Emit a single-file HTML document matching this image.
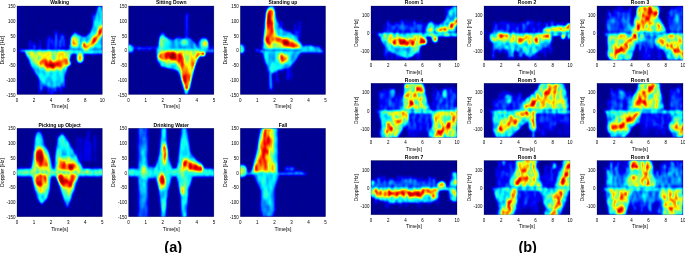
<!DOCTYPE html><html><head><meta charset="utf-8"><style>html,body{margin:0;padding:0;background:#fff;width:685px;height:253px;overflow:hidden}svg{display:block}.l{mix-blend-mode:lighten}text{font-family:'Liberation Sans', Arial, sans-serif;fill:#000}.tk{font-size:4.5px}.lb{font-size:5.2px}.tt{font-size:5px;font-weight:bold;fill:#000}.big{font-size:14.5px;font-weight:bold;fill:#000}.b .tk{font-size:4.45px}.b .lb{font-size:4.9px}</style></head><body>
<svg width="685" height="253" viewBox="0 0 685 253">
<defs>
<filter id="ja00" x="0" y="0" width="1" height="1" color-interpolation-filters="sRGB">
<feTurbulence type="fractalNoise" baseFrequency="0.5 0.08" numOctaves="2" seed="7" result="n0"/>
<feColorMatrix in="n0" type="matrix" values="1 0 0 0 0  1 0 0 0 0  1 0 0 0 0  0 0 0 0 1" result="n1"/>
<feComponentTransfer in="n1" result="n2"><feFuncR type="linear" slope="3.5" intercept="-1.25"/><feFuncG type="linear" slope="3.5" intercept="-1.25"/><feFuncB type="linear" slope="3.5" intercept="-1.25"/></feComponentTransfer>
<feComposite in="SourceGraphic" in2="n2" operator="arithmetic" k1="0.5" k2="0.75" k3="0" k4="0" result="m"/>
<feGaussianBlur in="m" stdDeviation="0.8 0.8" result="b"/>
<feComponentTransfer in="b">
<feFuncR type="table" tableValues="0 0 0 0 0.5 1 1 1 0.5"/>
<feFuncG type="table" tableValues="0 0 0.5 1 1 1 0.5 0 0"/>
<feFuncB type="table" tableValues="0.5 1 1 1 0.5 0 0 0 0"/>
<feFuncA type="table" tableValues="1 1"/>
</feComponentTransfer>
</filter>
<filter id="ja01" x="0" y="0" width="1" height="1" color-interpolation-filters="sRGB">
<feTurbulence type="fractalNoise" baseFrequency="0.5 0.08" numOctaves="2" seed="20" result="n0"/>
<feColorMatrix in="n0" type="matrix" values="1 0 0 0 0  1 0 0 0 0  1 0 0 0 0  0 0 0 0 1" result="n1"/>
<feComponentTransfer in="n1" result="n2"><feFuncR type="linear" slope="3.5" intercept="-1.25"/><feFuncG type="linear" slope="3.5" intercept="-1.25"/><feFuncB type="linear" slope="3.5" intercept="-1.25"/></feComponentTransfer>
<feComposite in="SourceGraphic" in2="n2" operator="arithmetic" k1="0.5" k2="0.75" k3="0" k4="0" result="m"/>
<feGaussianBlur in="m" stdDeviation="0.8 0.8" result="b"/>
<feComponentTransfer in="b">
<feFuncR type="table" tableValues="0 0 0 0 0.5 1 1 1 0.5"/>
<feFuncG type="table" tableValues="0 0 0.5 1 1 1 0.5 0 0"/>
<feFuncB type="table" tableValues="0.5 1 1 1 0.5 0 0 0 0"/>
<feFuncA type="table" tableValues="1 1"/>
</feComponentTransfer>
</filter>
<filter id="ja02" x="0" y="0" width="1" height="1" color-interpolation-filters="sRGB">
<feTurbulence type="fractalNoise" baseFrequency="0.5 0.08" numOctaves="2" seed="33" result="n0"/>
<feColorMatrix in="n0" type="matrix" values="1 0 0 0 0  1 0 0 0 0  1 0 0 0 0  0 0 0 0 1" result="n1"/>
<feComponentTransfer in="n1" result="n2"><feFuncR type="linear" slope="3.5" intercept="-1.25"/><feFuncG type="linear" slope="3.5" intercept="-1.25"/><feFuncB type="linear" slope="3.5" intercept="-1.25"/></feComponentTransfer>
<feComposite in="SourceGraphic" in2="n2" operator="arithmetic" k1="0.5" k2="0.75" k3="0" k4="0" result="m"/>
<feGaussianBlur in="m" stdDeviation="0.8 0.8" result="b"/>
<feComponentTransfer in="b">
<feFuncR type="table" tableValues="0 0 0 0 0.5 1 1 1 0.5"/>
<feFuncG type="table" tableValues="0 0 0.5 1 1 1 0.5 0 0"/>
<feFuncB type="table" tableValues="0.5 1 1 1 0.5 0 0 0 0"/>
<feFuncA type="table" tableValues="1 1"/>
</feComponentTransfer>
</filter>
<filter id="ja10" x="0" y="0" width="1" height="1" color-interpolation-filters="sRGB">
<feTurbulence type="fractalNoise" baseFrequency="0.5 0.08" numOctaves="2" seed="46" result="n0"/>
<feColorMatrix in="n0" type="matrix" values="1 0 0 0 0  1 0 0 0 0  1 0 0 0 0  0 0 0 0 1" result="n1"/>
<feComponentTransfer in="n1" result="n2"><feFuncR type="linear" slope="3.5" intercept="-1.25"/><feFuncG type="linear" slope="3.5" intercept="-1.25"/><feFuncB type="linear" slope="3.5" intercept="-1.25"/></feComponentTransfer>
<feComposite in="SourceGraphic" in2="n2" operator="arithmetic" k1="0.5" k2="0.75" k3="0" k4="0" result="m"/>
<feGaussianBlur in="m" stdDeviation="0.8 0.8" result="b"/>
<feComponentTransfer in="b">
<feFuncR type="table" tableValues="0 0 0 0 0.5 1 1 1 0.5"/>
<feFuncG type="table" tableValues="0 0 0.5 1 1 1 0.5 0 0"/>
<feFuncB type="table" tableValues="0.5 1 1 1 0.5 0 0 0 0"/>
<feFuncA type="table" tableValues="1 1"/>
</feComponentTransfer>
</filter>
<filter id="ja11" x="0" y="0" width="1" height="1" color-interpolation-filters="sRGB">
<feTurbulence type="fractalNoise" baseFrequency="0.5 0.08" numOctaves="2" seed="59" result="n0"/>
<feColorMatrix in="n0" type="matrix" values="1 0 0 0 0  1 0 0 0 0  1 0 0 0 0  0 0 0 0 1" result="n1"/>
<feComponentTransfer in="n1" result="n2"><feFuncR type="linear" slope="3.5" intercept="-1.25"/><feFuncG type="linear" slope="3.5" intercept="-1.25"/><feFuncB type="linear" slope="3.5" intercept="-1.25"/></feComponentTransfer>
<feComposite in="SourceGraphic" in2="n2" operator="arithmetic" k1="0.5" k2="0.75" k3="0" k4="0" result="m"/>
<feGaussianBlur in="m" stdDeviation="0.8 0.8" result="b"/>
<feComponentTransfer in="b">
<feFuncR type="table" tableValues="0 0 0 0 0.5 1 1 1 0.5"/>
<feFuncG type="table" tableValues="0 0 0.5 1 1 1 0.5 0 0"/>
<feFuncB type="table" tableValues="0.5 1 1 1 0.5 0 0 0 0"/>
<feFuncA type="table" tableValues="1 1"/>
</feComponentTransfer>
</filter>
<filter id="ja12" x="0" y="0" width="1" height="1" color-interpolation-filters="sRGB">
<feTurbulence type="fractalNoise" baseFrequency="0.5 0.08" numOctaves="2" seed="72" result="n0"/>
<feColorMatrix in="n0" type="matrix" values="1 0 0 0 0  1 0 0 0 0  1 0 0 0 0  0 0 0 0 1" result="n1"/>
<feComponentTransfer in="n1" result="n2"><feFuncR type="linear" slope="3.5" intercept="-1.25"/><feFuncG type="linear" slope="3.5" intercept="-1.25"/><feFuncB type="linear" slope="3.5" intercept="-1.25"/></feComponentTransfer>
<feComposite in="SourceGraphic" in2="n2" operator="arithmetic" k1="0.5" k2="0.75" k3="0" k4="0" result="m"/>
<feGaussianBlur in="m" stdDeviation="0.8 0.8" result="b"/>
<feComponentTransfer in="b">
<feFuncR type="table" tableValues="0 0 0 0 0.5 1 1 1 0.5"/>
<feFuncG type="table" tableValues="0 0 0.5 1 1 1 0.5 0 0"/>
<feFuncB type="table" tableValues="0.5 1 1 1 0.5 0 0 0 0"/>
<feFuncA type="table" tableValues="1 1"/>
</feComponentTransfer>
</filter>
<filter id="jb00" x="0" y="0" width="1" height="1" color-interpolation-filters="sRGB">
<feTurbulence type="fractalNoise" baseFrequency="0.45 0.13" numOctaves="2" seed="85" result="n0"/>
<feColorMatrix in="n0" type="matrix" values="1 0 0 0 0  1 0 0 0 0  1 0 0 0 0  0 0 0 0 1" result="n1"/>
<feComponentTransfer in="n1" result="n2"><feFuncR type="linear" slope="3.5" intercept="-1.25"/><feFuncG type="linear" slope="3.5" intercept="-1.25"/><feFuncB type="linear" slope="3.5" intercept="-1.25"/></feComponentTransfer>
<feComposite in="SourceGraphic" in2="n2" operator="arithmetic" k1="0.8" k2="0.55" k3="0" k4="0" result="m"/>
<feGaussianBlur in="m" stdDeviation="0.8 0.8" result="b"/>
<feComponentTransfer in="b">
<feFuncR type="table" tableValues="0 0 0 0 0.5 1 1 1 0.5"/>
<feFuncG type="table" tableValues="0 0 0.5 1 1 1 0.5 0 0"/>
<feFuncB type="table" tableValues="0.5 1 1 1 0.5 0 0 0 0"/>
<feFuncA type="table" tableValues="1 1"/>
</feComponentTransfer>
</filter>
<filter id="jb01" x="0" y="0" width="1" height="1" color-interpolation-filters="sRGB">
<feTurbulence type="fractalNoise" baseFrequency="0.45 0.13" numOctaves="2" seed="98" result="n0"/>
<feColorMatrix in="n0" type="matrix" values="1 0 0 0 0  1 0 0 0 0  1 0 0 0 0  0 0 0 0 1" result="n1"/>
<feComponentTransfer in="n1" result="n2"><feFuncR type="linear" slope="3.5" intercept="-1.25"/><feFuncG type="linear" slope="3.5" intercept="-1.25"/><feFuncB type="linear" slope="3.5" intercept="-1.25"/></feComponentTransfer>
<feComposite in="SourceGraphic" in2="n2" operator="arithmetic" k1="0.8" k2="0.55" k3="0" k4="0" result="m"/>
<feGaussianBlur in="m" stdDeviation="0.8 0.8" result="b"/>
<feComponentTransfer in="b">
<feFuncR type="table" tableValues="0 0 0 0 0.5 1 1 1 0.5"/>
<feFuncG type="table" tableValues="0 0 0.5 1 1 1 0.5 0 0"/>
<feFuncB type="table" tableValues="0.5 1 1 1 0.5 0 0 0 0"/>
<feFuncA type="table" tableValues="1 1"/>
</feComponentTransfer>
</filter>
<filter id="jb02" x="0" y="0" width="1" height="1" color-interpolation-filters="sRGB">
<feTurbulence type="fractalNoise" baseFrequency="0.45 0.13" numOctaves="2" seed="111" result="n0"/>
<feColorMatrix in="n0" type="matrix" values="1 0 0 0 0  1 0 0 0 0  1 0 0 0 0  0 0 0 0 1" result="n1"/>
<feComponentTransfer in="n1" result="n2"><feFuncR type="linear" slope="3.5" intercept="-1.25"/><feFuncG type="linear" slope="3.5" intercept="-1.25"/><feFuncB type="linear" slope="3.5" intercept="-1.25"/></feComponentTransfer>
<feComposite in="SourceGraphic" in2="n2" operator="arithmetic" k1="0.8" k2="0.55" k3="0" k4="0" result="m"/>
<feGaussianBlur in="m" stdDeviation="0.8 0.8" result="b"/>
<feComponentTransfer in="b">
<feFuncR type="table" tableValues="0 0 0 0 0.5 1 1 1 0.5"/>
<feFuncG type="table" tableValues="0 0 0.5 1 1 1 0.5 0 0"/>
<feFuncB type="table" tableValues="0.5 1 1 1 0.5 0 0 0 0"/>
<feFuncA type="table" tableValues="1 1"/>
</feComponentTransfer>
</filter>
<filter id="jb10" x="0" y="0" width="1" height="1" color-interpolation-filters="sRGB">
<feTurbulence type="fractalNoise" baseFrequency="0.45 0.13" numOctaves="2" seed="124" result="n0"/>
<feColorMatrix in="n0" type="matrix" values="1 0 0 0 0  1 0 0 0 0  1 0 0 0 0  0 0 0 0 1" result="n1"/>
<feComponentTransfer in="n1" result="n2"><feFuncR type="linear" slope="3.5" intercept="-1.25"/><feFuncG type="linear" slope="3.5" intercept="-1.25"/><feFuncB type="linear" slope="3.5" intercept="-1.25"/></feComponentTransfer>
<feComposite in="SourceGraphic" in2="n2" operator="arithmetic" k1="0.8" k2="0.55" k3="0" k4="0" result="m"/>
<feGaussianBlur in="m" stdDeviation="0.8 0.8" result="b"/>
<feComponentTransfer in="b">
<feFuncR type="table" tableValues="0 0 0 0 0.5 1 1 1 0.5"/>
<feFuncG type="table" tableValues="0 0 0.5 1 1 1 0.5 0 0"/>
<feFuncB type="table" tableValues="0.5 1 1 1 0.5 0 0 0 0"/>
<feFuncA type="table" tableValues="1 1"/>
</feComponentTransfer>
</filter>
<filter id="jb11" x="0" y="0" width="1" height="1" color-interpolation-filters="sRGB">
<feTurbulence type="fractalNoise" baseFrequency="0.45 0.13" numOctaves="2" seed="137" result="n0"/>
<feColorMatrix in="n0" type="matrix" values="1 0 0 0 0  1 0 0 0 0  1 0 0 0 0  0 0 0 0 1" result="n1"/>
<feComponentTransfer in="n1" result="n2"><feFuncR type="linear" slope="3.5" intercept="-1.25"/><feFuncG type="linear" slope="3.5" intercept="-1.25"/><feFuncB type="linear" slope="3.5" intercept="-1.25"/></feComponentTransfer>
<feComposite in="SourceGraphic" in2="n2" operator="arithmetic" k1="0.8" k2="0.55" k3="0" k4="0" result="m"/>
<feGaussianBlur in="m" stdDeviation="0.8 0.8" result="b"/>
<feComponentTransfer in="b">
<feFuncR type="table" tableValues="0 0 0 0 0.5 1 1 1 0.5"/>
<feFuncG type="table" tableValues="0 0 0.5 1 1 1 0.5 0 0"/>
<feFuncB type="table" tableValues="0.5 1 1 1 0.5 0 0 0 0"/>
<feFuncA type="table" tableValues="1 1"/>
</feComponentTransfer>
</filter>
<filter id="jb12" x="0" y="0" width="1" height="1" color-interpolation-filters="sRGB">
<feTurbulence type="fractalNoise" baseFrequency="0.45 0.13" numOctaves="2" seed="150" result="n0"/>
<feColorMatrix in="n0" type="matrix" values="1 0 0 0 0  1 0 0 0 0  1 0 0 0 0  0 0 0 0 1" result="n1"/>
<feComponentTransfer in="n1" result="n2"><feFuncR type="linear" slope="3.5" intercept="-1.25"/><feFuncG type="linear" slope="3.5" intercept="-1.25"/><feFuncB type="linear" slope="3.5" intercept="-1.25"/></feComponentTransfer>
<feComposite in="SourceGraphic" in2="n2" operator="arithmetic" k1="0.8" k2="0.55" k3="0" k4="0" result="m"/>
<feGaussianBlur in="m" stdDeviation="0.8 0.8" result="b"/>
<feComponentTransfer in="b">
<feFuncR type="table" tableValues="0 0 0 0 0.5 1 1 1 0.5"/>
<feFuncG type="table" tableValues="0 0 0.5 1 1 1 0.5 0 0"/>
<feFuncB type="table" tableValues="0.5 1 1 1 0.5 0 0 0 0"/>
<feFuncA type="table" tableValues="1 1"/>
</feComponentTransfer>
</filter>
<filter id="jb20" x="0" y="0" width="1" height="1" color-interpolation-filters="sRGB">
<feTurbulence type="fractalNoise" baseFrequency="0.45 0.13" numOctaves="2" seed="163" result="n0"/>
<feColorMatrix in="n0" type="matrix" values="1 0 0 0 0  1 0 0 0 0  1 0 0 0 0  0 0 0 0 1" result="n1"/>
<feComponentTransfer in="n1" result="n2"><feFuncR type="linear" slope="3.5" intercept="-1.25"/><feFuncG type="linear" slope="3.5" intercept="-1.25"/><feFuncB type="linear" slope="3.5" intercept="-1.25"/></feComponentTransfer>
<feComposite in="SourceGraphic" in2="n2" operator="arithmetic" k1="0.8" k2="0.55" k3="0" k4="0" result="m"/>
<feGaussianBlur in="m" stdDeviation="0.8 0.8" result="b"/>
<feComponentTransfer in="b">
<feFuncR type="table" tableValues="0 0 0 0 0.5 1 1 1 0.5"/>
<feFuncG type="table" tableValues="0 0 0.5 1 1 1 0.5 0 0"/>
<feFuncB type="table" tableValues="0.5 1 1 1 0.5 0 0 0 0"/>
<feFuncA type="table" tableValues="1 1"/>
</feComponentTransfer>
</filter>
<filter id="jb21" x="0" y="0" width="1" height="1" color-interpolation-filters="sRGB">
<feTurbulence type="fractalNoise" baseFrequency="0.45 0.13" numOctaves="2" seed="176" result="n0"/>
<feColorMatrix in="n0" type="matrix" values="1 0 0 0 0  1 0 0 0 0  1 0 0 0 0  0 0 0 0 1" result="n1"/>
<feComponentTransfer in="n1" result="n2"><feFuncR type="linear" slope="3.5" intercept="-1.25"/><feFuncG type="linear" slope="3.5" intercept="-1.25"/><feFuncB type="linear" slope="3.5" intercept="-1.25"/></feComponentTransfer>
<feComposite in="SourceGraphic" in2="n2" operator="arithmetic" k1="0.8" k2="0.55" k3="0" k4="0" result="m"/>
<feGaussianBlur in="m" stdDeviation="0.8 0.8" result="b"/>
<feComponentTransfer in="b">
<feFuncR type="table" tableValues="0 0 0 0 0.5 1 1 1 0.5"/>
<feFuncG type="table" tableValues="0 0 0.5 1 1 1 0.5 0 0"/>
<feFuncB type="table" tableValues="0.5 1 1 1 0.5 0 0 0 0"/>
<feFuncA type="table" tableValues="1 1"/>
</feComponentTransfer>
</filter>
<filter id="jb22" x="0" y="0" width="1" height="1" color-interpolation-filters="sRGB">
<feTurbulence type="fractalNoise" baseFrequency="0.45 0.13" numOctaves="2" seed="189" result="n0"/>
<feColorMatrix in="n0" type="matrix" values="1 0 0 0 0  1 0 0 0 0  1 0 0 0 0  0 0 0 0 1" result="n1"/>
<feComponentTransfer in="n1" result="n2"><feFuncR type="linear" slope="3.5" intercept="-1.25"/><feFuncG type="linear" slope="3.5" intercept="-1.25"/><feFuncB type="linear" slope="3.5" intercept="-1.25"/></feComponentTransfer>
<feComposite in="SourceGraphic" in2="n2" operator="arithmetic" k1="0.8" k2="0.55" k3="0" k4="0" result="m"/>
<feGaussianBlur in="m" stdDeviation="0.8 0.8" result="b"/>
<feComponentTransfer in="b">
<feFuncR type="table" tableValues="0 0 0 0 0.5 1 1 1 0.5"/>
<feFuncG type="table" tableValues="0 0 0.5 1 1 1 0.5 0 0"/>
<feFuncB type="table" tableValues="0.5 1 1 1 0.5 0 0 0 0"/>
<feFuncA type="table" tableValues="1 1"/>
</feComponentTransfer>
</filter>
<clipPath id="ca00"><rect x="17" y="6" width="85.3" height="88.4"/></clipPath>
<clipPath id="ca01"><rect x="128.6" y="6" width="85.3" height="88.4"/></clipPath>
<clipPath id="ca02"><rect x="240.3" y="6" width="85.3" height="88.4"/></clipPath>
<clipPath id="ca10"><rect x="17" y="128.3" width="85.3" height="88.4"/></clipPath>
<clipPath id="ca11"><rect x="128.6" y="128.3" width="85.3" height="88.4"/></clipPath>
<clipPath id="ca12"><rect x="240.3" y="128.3" width="85.3" height="88.4"/></clipPath>
<clipPath id="cb00"><rect x="371" y="6" width="86" height="54.2"/></clipPath>
<clipPath id="cb01"><rect x="484" y="6" width="86" height="54.2"/></clipPath>
<clipPath id="cb02"><rect x="597" y="6" width="86" height="54.2"/></clipPath>
<clipPath id="cb10"><rect x="371" y="83.3" width="86" height="54.2"/></clipPath>
<clipPath id="cb11"><rect x="484" y="83.3" width="86" height="54.2"/></clipPath>
<clipPath id="cb12"><rect x="597" y="83.3" width="86" height="54.2"/></clipPath>
<clipPath id="cb20"><rect x="371" y="160.6" width="86" height="54.2"/></clipPath>
<clipPath id="cb21"><rect x="484" y="160.6" width="86" height="54.2"/></clipPath>
<clipPath id="cb22"><rect x="597" y="160.6" width="86" height="54.2"/></clipPath>
</defs>
<g clip-path="url(#ca00)"><g filter="url(#ja00)">
<rect x="11" y="0" width="97.3" height="100.4" fill="rgb(5,5,5)"/>
<polyline points="30.14,48.73 29.93,40.76" fill="none" stroke="rgb(63,63,63)" stroke-width="1.2" stroke-linecap="round" stroke-linejoin="round" class="l"/>
<polyline points="33.62,48.73 33.87,43.05" fill="none" stroke="rgb(60,60,60)" stroke-width="1.2" stroke-linecap="round" stroke-linejoin="round" class="l"/>
<polyline points="35.15,48.73 35.1,45.47" fill="none" stroke="rgb(66,66,66)" stroke-width="1.2" stroke-linecap="round" stroke-linejoin="round" class="l"/>
<polyline points="39.42,48.73 39.61,45.62" fill="none" stroke="rgb(55,55,55)" stroke-width="1.2" stroke-linecap="round" stroke-linejoin="round" class="l"/>
<polyline points="40.62,48.73 40.22,40.2" fill="none" stroke="rgb(67,67,67)" stroke-width="1.2" stroke-linecap="round" stroke-linejoin="round" class="l"/>
<polyline points="47.29,48.73 46.99,40.12" fill="none" stroke="rgb(60,60,60)" stroke-width="1.2" stroke-linecap="round" stroke-linejoin="round" class="l"/>
<polyline points="48.8,48.73 49.06,36.12" fill="none" stroke="rgb(77,77,77)" stroke-width="1.2" stroke-linecap="round" stroke-linejoin="round" class="l"/>
<polyline points="51.91,48.73 51.72,38.53" fill="none" stroke="rgb(65,65,65)" stroke-width="1.2" stroke-linecap="round" stroke-linejoin="round" class="l"/>
<polyline points="52.65,48.73 53.02,40.08" fill="none" stroke="rgb(55,55,55)" stroke-width="1.2" stroke-linecap="round" stroke-linejoin="round" class="l"/>
<polyline points="55.68,48.73 55.42,30.69" fill="none" stroke="rgb(73,73,73)" stroke-width="1.2" stroke-linecap="round" stroke-linejoin="round" class="l"/>
<polyline points="56.56,48.73 56.86,33.1" fill="none" stroke="rgb(71,71,71)" stroke-width="1.2" stroke-linecap="round" stroke-linejoin="round" class="l"/>
<polyline points="59.43,48.73 59.58,40.34" fill="none" stroke="rgb(67,67,67)" stroke-width="1.2" stroke-linecap="round" stroke-linejoin="round" class="l"/>
<polyline points="60.58,47.25 60.96,34.99" fill="none" stroke="rgb(82,82,82)" stroke-width="1.2" stroke-linecap="round" stroke-linejoin="round" class="l"/>
<polyline points="62.25,47.25 62.22,33.26" fill="none" stroke="rgb(55,55,55)" stroke-width="1.2" stroke-linecap="round" stroke-linejoin="round" class="l"/>
<polyline points="64.04,47.25 63.71,35.88" fill="none" stroke="rgb(86,86,86)" stroke-width="1.2" stroke-linecap="round" stroke-linejoin="round" class="l"/>
<polyline points="64.83,47.25 64.89,39.74" fill="none" stroke="rgb(73,73,73)" stroke-width="1.2" stroke-linecap="round" stroke-linejoin="round" class="l"/>
<polygon points="17,94.4 18.71,94.4 18.71,6 17,6" fill="rgb(26,26,26)" class="l"/>
<polyline points="21.27,50.79 102.3,50.79" fill="none" stroke="rgb(102,102,102)" stroke-width="2" stroke-linecap="round" stroke-linejoin="round" class="l"/>
<polygon points="24.68,50.79 70.74,50.79 70.74,56.09 68.18,64.93 65.62,73.77 63.06,82.61 59.65,86.15 51.12,87.92 45.15,84.97 40.03,79.67 35.77,73.77 31.5,66.41 28.09,59.04 25.53,53.15" fill="rgb(92,92,92)" class="l"/>
<polyline points="39.91,73.77 39.55,93.7" fill="none" stroke="rgb(60,60,60)" stroke-width="1.2" stroke-linecap="round" stroke-linejoin="round" class="l"/>
<polyline points="41.36,73.77 41.19,90.86" fill="none" stroke="rgb(83,83,83)" stroke-width="1.2" stroke-linecap="round" stroke-linejoin="round" class="l"/>
<polyline points="42.63,73.77 42.34,89.13" fill="none" stroke="rgb(80,80,80)" stroke-width="1.2" stroke-linecap="round" stroke-linejoin="round" class="l"/>
<polyline points="43.99,73.77 44.42,86.27" fill="none" stroke="rgb(85,85,85)" stroke-width="1.2" stroke-linecap="round" stroke-linejoin="round" class="l"/>
<polyline points="46.5,73.77 46.31,88.29" fill="none" stroke="rgb(74,74,74)" stroke-width="1.2" stroke-linecap="round" stroke-linejoin="round" class="l"/>
<polyline points="46.65,73.77 46.49,81.36" fill="none" stroke="rgb(75,75,75)" stroke-width="1.2" stroke-linecap="round" stroke-linejoin="round" class="l"/>
<polyline points="48.87,73.77 48.92,92.95" fill="none" stroke="rgb(77,77,77)" stroke-width="1.2" stroke-linecap="round" stroke-linejoin="round" class="l"/>
<polyline points="50.28,73.77 49.97,81.31" fill="none" stroke="rgb(70,70,70)" stroke-width="1.2" stroke-linecap="round" stroke-linejoin="round" class="l"/>
<polyline points="52.39,73.77 52.12,94.38" fill="none" stroke="rgb(83,83,83)" stroke-width="1.2" stroke-linecap="round" stroke-linejoin="round" class="l"/>
<polyline points="54.68,73.77 55.02,91.68" fill="none" stroke="rgb(85,85,85)" stroke-width="1.2" stroke-linecap="round" stroke-linejoin="round" class="l"/>
<polyline points="56.11,73.77 56.52,91.58" fill="none" stroke="rgb(71,71,71)" stroke-width="1.2" stroke-linecap="round" stroke-linejoin="round" class="l"/>
<polyline points="58.09,73.77 58.28,83.15" fill="none" stroke="rgb(86,86,86)" stroke-width="1.2" stroke-linecap="round" stroke-linejoin="round" class="l"/>
<polyline points="58.92,73.77 59.28,88.1" fill="none" stroke="rgb(76,76,76)" stroke-width="1.2" stroke-linecap="round" stroke-linejoin="round" class="l"/>
<polyline points="60.64,73.77 60.96,92.14" fill="none" stroke="rgb(71,71,71)" stroke-width="1.2" stroke-linecap="round" stroke-linejoin="round" class="l"/>
<polyline points="62.95,73.77 63.31,87.17" fill="none" stroke="rgb(79,79,79)" stroke-width="1.2" stroke-linecap="round" stroke-linejoin="round" class="l"/>
<polyline points="64.31,73.77 64.16,87.52" fill="none" stroke="rgb(66,66,66)" stroke-width="1.2" stroke-linecap="round" stroke-linejoin="round" class="l"/>
<polygon points="26.38,51.38 69.03,51.38 68.18,59.04 65.62,67.88 59.65,70.83 46.85,71.42 39.18,67.88 33.21,62.58 28.09,56.09" fill="rgb(143,143,143)" class="l"/>
<polygon points="28.94,51.97 39.18,51.97 38.33,61.99 32.35,59.04" fill="rgb(143,143,143)" class="l"/>
<polyline points="40.88,61.99 43.02,64.93 45.15,61.4 47.71,65.52 50.27,61.99 52.83,66.41 55.38,62.58 57.94,66.7 60.5,61.99 63.06,64.93 65.62,60.51 68.18,63.46" fill="none" stroke="rgb(204,204,204)" stroke-width="4.5" stroke-linecap="round" stroke-linejoin="round" class="l"/>
<polyline points="47.71,64.34 51.12,65.52 54.53,64.34 57.94,65.52" fill="none" stroke="rgb(242,242,242)" stroke-width="3" stroke-linecap="round" stroke-linejoin="round" class="l"/>
<polygon points="69.03,49.61 70.74,36.94 75,31.93 80.12,35.47 85.24,36.94 90.36,32.52 93.77,23.68 96.33,11.89 98.03,6 102.3,6 102.3,49.61" fill="rgb(87,87,87)" class="l"/>
<polyline points="93.2,35.47 93.28,14.73" fill="none" stroke="rgb(86,86,86)" stroke-width="1.2" stroke-linecap="round" stroke-linejoin="round" class="l"/>
<polyline points="94.82,35.47 95.11,23.9" fill="none" stroke="rgb(69,69,69)" stroke-width="1.2" stroke-linecap="round" stroke-linejoin="round" class="l"/>
<polyline points="95.57,35.47 95.54,20.67" fill="none" stroke="rgb(115,115,115)" stroke-width="1.2" stroke-linecap="round" stroke-linejoin="round" class="l"/>
<polyline points="97.42,35.47 97.12,16.03" fill="none" stroke="rgb(98,98,98)" stroke-width="1.2" stroke-linecap="round" stroke-linejoin="round" class="l"/>
<polyline points="98.35,35.47 98.56,8.53" fill="none" stroke="rgb(93,93,93)" stroke-width="1.2" stroke-linecap="round" stroke-linejoin="round" class="l"/>
<polyline points="99.57,35.47 99.65,23.93" fill="none" stroke="rgb(104,104,104)" stroke-width="1.2" stroke-linecap="round" stroke-linejoin="round" class="l"/>
<polyline points="100.31,35.47 100.28,24.56" fill="none" stroke="rgb(109,109,109)" stroke-width="1.2" stroke-linecap="round" stroke-linejoin="round" class="l"/>
<polyline points="101.97,35.47 102.33,8.32" fill="none" stroke="rgb(102,102,102)" stroke-width="1.2" stroke-linecap="round" stroke-linejoin="round" class="l"/>
<ellipse cx="75" cy="41.95" rx="3.84" ry="5.89" fill="rgb(158,158,158)" class="l"/>
<ellipse cx="75" cy="43.72" rx="1.71" ry="2.36" fill="rgb(209,209,209)" class="l"/>
<ellipse cx="84.39" cy="44.9" rx="1.71" ry="2.95" fill="rgb(199,199,199)" class="l"/>
<polyline points="86.09,47.84 90.36,44.31 94.62,39.89 98.89,33.99 102.3,28.1" fill="none" stroke="rgb(153,153,153)" stroke-width="7" stroke-linecap="round" stroke-linejoin="round" class="l"/>
<polyline points="86.09,47.84 90.36,44.31 94.62,39.89 98.89,33.99 102.3,28.1" fill="none" stroke="rgb(209,209,209)" stroke-width="3.5" stroke-linecap="round" stroke-linejoin="round" class="l"/>
<polyline points="70.74,52.56 102.3,52.56" fill="none" stroke="rgb(92,92,92)" stroke-width="3" stroke-linecap="round" stroke-linejoin="round" class="l"/>
<ellipse cx="80.12" cy="57.57" rx="3.41" ry="5.3" fill="rgb(153,153,153)" class="l"/>
<ellipse cx="79.27" cy="57.57" rx="1.28" ry="2.95" fill="rgb(204,204,204)" class="l"/>
<polyline points="19.56,49.32 102.3,49.32" fill="none" stroke="rgb(15,15,15)" stroke-width="0.8" stroke-linecap="round" stroke-linejoin="round" stroke-opacity="0.7"/>
</g></g>
<rect x="17" y="6" width="85.3" height="88.4" fill="none" stroke="#000" stroke-opacity="0.45" stroke-width="0.5"/>
<g class="a">
<text class="tk" x="15.5" y="8.1" text-anchor="end">150</text>
<text class="tk" x="15.5" y="22.83" text-anchor="end">100</text>
<text class="tk" x="15.5" y="37.57" text-anchor="end">50</text>
<text class="tk" x="15.5" y="52.3" text-anchor="end">0</text>
<text class="tk" x="15.5" y="67.03" text-anchor="end">-50</text>
<text class="tk" x="15.5" y="81.77" text-anchor="end">-100</text>
<text class="tk" x="15.5" y="96.5" text-anchor="end">-150</text>
<text class="tk" x="17" y="101.5" text-anchor="middle">0</text>
<text class="tk" x="34.06" y="101.5" text-anchor="middle">2</text>
<text class="tk" x="51.12" y="101.5" text-anchor="middle">4</text>
<text class="tk" x="68.18" y="101.5" text-anchor="middle">6</text>
<text class="tk" x="85.24" y="101.5" text-anchor="middle">8</text>
<text class="tk" x="102.3" y="101.5" text-anchor="middle">10</text>
<text class="lb" x="59.65" y="108.4" text-anchor="middle">Time[s]</text>
<text class="lb" x="0" y="0" text-anchor="middle" transform="translate(3.8,50.2) rotate(-90)">Doppler [Hz]</text>
<text class="tt" x="59.65" y="4.2" text-anchor="middle">Walking</text>
</g>
<g clip-path="url(#ca01)"><g filter="url(#ja01)">
<rect x="122.6" y="0" width="97.3" height="100.4" fill="rgb(5,5,5)"/>
<polyline points="128.6,47.84 213.9,47.84" fill="none" stroke="rgb(71,71,71)" stroke-width="1.2" stroke-linecap="round" stroke-linejoin="round" class="l"/>
<ellipse cx="129.96" cy="48.73" rx="3.41" ry="4.13" fill="rgb(102,102,102)" class="l"/>
<ellipse cx="138.84" cy="48.73" rx="2.05" ry="1.77" fill="rgb(56,56,56)" class="l"/>
<ellipse cx="143.95" cy="49.32" rx="1.71" ry="1.47" fill="rgb(51,51,51)" class="l"/>
<ellipse cx="149.07" cy="49.32" rx="1.71" ry="1.47" fill="rgb(51,51,51)" class="l"/>
<polygon points="156.75,48.73 160.16,35.47 162.72,31.93 166.13,36.94 172.96,39.89 178.07,36.94 183.19,38.41 190.02,37.82 195.13,42.83 198.55,48.73" fill="rgb(74,74,74)" class="l"/>
<polygon points="159.31,48.73 161.87,36.94 167.84,38.41 169.54,48.73" fill="rgb(115,115,115)" class="l"/>
<polyline points="186.6,38.41 186.95,14.84" fill="none" stroke="rgb(51,51,51)" stroke-width="2.5" stroke-linecap="round" stroke-linejoin="round" class="l"/>
<ellipse cx="162.38" cy="41.36" rx="2.56" ry="5.3" fill="rgb(148,148,148)" class="l"/>
<ellipse cx="166.98" cy="42.83" rx="2.56" ry="2.95" fill="rgb(128,128,128)" class="l"/>
<ellipse cx="183.19" cy="42.83" rx="4.26" ry="2.95" fill="rgb(115,115,115)" class="l"/>
<polygon points="155.9,48.73 201.96,48.73 198.55,57.57 192.57,70.83 189.16,88.51 187.46,94.4 184.9,94.4 182.34,82.61 178.07,70.83 169.54,68.47 161.01,66.41 157.6,60.51" fill="rgb(94,94,94)" class="l"/>
<polygon points="160.16,50.2 200.25,50.2 195.99,57.57 190.87,70.83 188.31,84.09 185.75,82.61 181.49,69.35 176.37,64.34 166.13,63.46 161.01,60.51" fill="rgb(148,148,148)" class="l"/>
<polyline points="162.72,56.68 167.84,55.5 172.96,56.09 178.07,57.27 180.63,59.63" fill="none" stroke="rgb(214,214,214)" stroke-width="7.5" stroke-linecap="round" stroke-linejoin="round" class="l"/>
<polyline points="179.78,59.04 182.34,66.41 184.9,76.72 186.95,87.03" fill="none" stroke="rgb(214,214,214)" stroke-width="5.5" stroke-linecap="round" stroke-linejoin="round" class="l"/>
<polyline points="187.46,85.56 190.02,75.25 192.57,64.93 195.99,56.09 200.25,53.74" fill="none" stroke="rgb(199,199,199)" stroke-width="4" stroke-linecap="round" stroke-linejoin="round" class="l"/>
<ellipse cx="172.1" cy="56.68" rx="5.12" ry="2.36" fill="rgb(242,242,242)" class="l"/>
<ellipse cx="185.75" cy="78.19" rx="1.02" ry="4.13" fill="rgb(237,237,237)" class="l"/>
<ellipse cx="201.96" cy="53.74" rx="3.41" ry="2.36" fill="rgb(204,204,204)" class="l"/>
<ellipse cx="203.66" cy="44.31" rx="5.12" ry="6.48" fill="rgb(97,97,97)" class="l"/>
<ellipse cx="204.52" cy="43.72" rx="2.56" ry="2.95" fill="rgb(178,178,178)" class="l"/>
<polyline points="196.84,51.08 213.9,51.08" fill="none" stroke="rgb(82,82,82)" stroke-width="2.5" stroke-linecap="round" stroke-linejoin="round" class="l"/>
</g></g>
<rect x="128.6" y="6" width="85.3" height="88.4" fill="none" stroke="#000" stroke-opacity="0.45" stroke-width="0.5"/>
<g class="a">
<text class="tk" x="127.1" y="8.1" text-anchor="end">150</text>
<text class="tk" x="127.1" y="22.83" text-anchor="end">100</text>
<text class="tk" x="127.1" y="37.57" text-anchor="end">50</text>
<text class="tk" x="127.1" y="52.3" text-anchor="end">0</text>
<text class="tk" x="127.1" y="67.03" text-anchor="end">-50</text>
<text class="tk" x="127.1" y="81.77" text-anchor="end">-100</text>
<text class="tk" x="127.1" y="96.5" text-anchor="end">-150</text>
<text class="tk" x="128.6" y="101.5" text-anchor="middle">0</text>
<text class="tk" x="145.66" y="101.5" text-anchor="middle">1</text>
<text class="tk" x="162.72" y="101.5" text-anchor="middle">2</text>
<text class="tk" x="179.78" y="101.5" text-anchor="middle">3</text>
<text class="tk" x="196.84" y="101.5" text-anchor="middle">4</text>
<text class="tk" x="213.9" y="101.5" text-anchor="middle">5</text>
<text class="lb" x="171.25" y="108.4" text-anchor="middle">Time[s]</text>
<text class="lb" x="0" y="0" text-anchor="middle" transform="translate(115.4,50.2) rotate(-90)">Doppler [Hz]</text>
<text class="tt" x="171.25" y="4.2" text-anchor="middle">Sitting Down</text>
</g>
<g clip-path="url(#ca02)"><g filter="url(#ja02)">
<rect x="234.3" y="0" width="97.3" height="100.4" fill="rgb(5,5,5)"/>
<ellipse cx="241.15" cy="48.73" rx="3.41" ry="4.42" fill="rgb(102,102,102)" class="l"/>
<ellipse cx="257.36" cy="50.2" rx="1.71" ry="1.47" fill="rgb(64,64,64)" class="l"/>
<polyline points="260.77,51.38 322.19,51.38" fill="none" stroke="rgb(92,92,92)" stroke-width="2.2" stroke-linecap="round" stroke-linejoin="round" class="l"/>
<polygon points="262.14,49.32 264.18,32.52 265.89,13.37 268.45,6 273.57,6 276.13,17.79 279.54,28.1 289.77,32.52 296.6,36.94 301.72,44.31 303.42,49.32" fill="rgb(92,92,92)" class="l"/>
<polyline points="278.32,38.41 278.29,23.12" fill="none" stroke="rgb(71,71,71)" stroke-width="1.2" stroke-linecap="round" stroke-linejoin="round" class="l"/>
<polyline points="281.46,38.41 281.48,21.84" fill="none" stroke="rgb(77,77,77)" stroke-width="1.2" stroke-linecap="round" stroke-linejoin="round" class="l"/>
<polyline points="285.31,38.41 285.09,28.77" fill="none" stroke="rgb(50,50,50)" stroke-width="1.2" stroke-linecap="round" stroke-linejoin="round" class="l"/>
<polyline points="288.54,38.41 288.08,30.85" fill="none" stroke="rgb(76,76,76)" stroke-width="1.2" stroke-linecap="round" stroke-linejoin="round" class="l"/>
<polyline points="290.47,38.41 290.88,31.18" fill="none" stroke="rgb(83,83,83)" stroke-width="1.2" stroke-linecap="round" stroke-linejoin="round" class="l"/>
<polyline points="295.37,38.41 295.08,24.04" fill="none" stroke="rgb(51,51,51)" stroke-width="1.2" stroke-linecap="round" stroke-linejoin="round" class="l"/>
<polyline points="297.23,38.41 297.01,30.27" fill="none" stroke="rgb(81,81,81)" stroke-width="1.2" stroke-linecap="round" stroke-linejoin="round" class="l"/>
<polyline points="299.19,38.41 299.92,21.53" fill="none" stroke="rgb(54,54,54)" stroke-width="1.2" stroke-linecap="round" stroke-linejoin="round" class="l"/>
<polygon points="264.53,48.73 266.23,26.63 268.45,8.95 272.71,8.95 274.42,26.63 276.13,35.47 281.24,36.94 291.48,38.41 298.3,41.95 300.01,48.73" fill="rgb(153,153,153)" class="l"/>
<polyline points="268.28,41.36 269.64,26.63 270.67,12.48" fill="none" stroke="rgb(219,219,219)" stroke-width="7" stroke-linecap="round" stroke-linejoin="round" class="l"/>
<ellipse cx="270.33" cy="20.73" rx="1.71" ry="5.89" fill="rgb(245,245,245)" class="l"/>
<polyline points="272.71,39.89 277.83,39.89 282.95,41.95 289.77,44.31 296.6,45.78" fill="none" stroke="rgb(209,209,209)" stroke-width="5" stroke-linecap="round" stroke-linejoin="round" class="l"/>
<ellipse cx="308.54" cy="48.73" rx="7.68" ry="3.54" fill="rgb(87,87,87)" class="l"/>
<ellipse cx="317.07" cy="48.73" rx="4.26" ry="2.36" fill="rgb(71,71,71)" class="l"/>
<polygon points="262.48,51.08 301.72,51.08 294.89,61.99 288.07,68.47 277.83,70.24 272.71,73.77 269.3,70.83 265.04,61.99" fill="rgb(87,87,87)" class="l"/>
<polyline points="270.16,67.88 271.01,88.51" fill="none" stroke="rgb(71,71,71)" stroke-width="3" stroke-linecap="round" stroke-linejoin="round" class="l"/>
<polyline points="267.45,61.99 268.3,71.09" fill="none" stroke="rgb(47,47,47)" stroke-width="1.2" stroke-linecap="round" stroke-linejoin="round" class="l"/>
<polyline points="268.22,61.99 267.96,70.82" fill="none" stroke="rgb(66,66,66)" stroke-width="1.2" stroke-linecap="round" stroke-linejoin="round" class="l"/>
<polyline points="274.04,61.99 273.74,72.31" fill="none" stroke="rgb(75,75,75)" stroke-width="1.2" stroke-linecap="round" stroke-linejoin="round" class="l"/>
<polyline points="276.47,61.99 277.19,81.7" fill="none" stroke="rgb(67,67,67)" stroke-width="1.2" stroke-linecap="round" stroke-linejoin="round" class="l"/>
<polyline points="280.25,61.99 280.4,69.86" fill="none" stroke="rgb(73,73,73)" stroke-width="1.2" stroke-linecap="round" stroke-linejoin="round" class="l"/>
<polyline points="282.3,61.99 282.45,71.76" fill="none" stroke="rgb(72,72,72)" stroke-width="1.2" stroke-linecap="round" stroke-linejoin="round" class="l"/>
<polyline points="287.86,61.99 287.97,79.58" fill="none" stroke="rgb(75,75,75)" stroke-width="1.2" stroke-linecap="round" stroke-linejoin="round" class="l"/>
<polyline points="290.45,61.99 291.23,77.42" fill="none" stroke="rgb(54,54,54)" stroke-width="1.2" stroke-linecap="round" stroke-linejoin="round" class="l"/>
<ellipse cx="282.95" cy="58.45" rx="5.46" ry="5.89" fill="rgb(153,153,153)" class="l"/>
<ellipse cx="282.95" cy="58.45" rx="2.56" ry="3.24" fill="rgb(217,217,217)" class="l"/>
</g></g>
<rect x="240.3" y="6" width="85.3" height="88.4" fill="none" stroke="#000" stroke-opacity="0.45" stroke-width="0.5"/>
<g class="a">
<text class="tk" x="238.8" y="8.1" text-anchor="end">150</text>
<text class="tk" x="238.8" y="22.83" text-anchor="end">100</text>
<text class="tk" x="238.8" y="37.57" text-anchor="end">50</text>
<text class="tk" x="238.8" y="52.3" text-anchor="end">0</text>
<text class="tk" x="238.8" y="67.03" text-anchor="end">-50</text>
<text class="tk" x="238.8" y="81.77" text-anchor="end">-100</text>
<text class="tk" x="238.8" y="96.5" text-anchor="end">-150</text>
<text class="tk" x="240.3" y="101.5" text-anchor="middle">0</text>
<text class="tk" x="257.36" y="101.5" text-anchor="middle">1</text>
<text class="tk" x="274.42" y="101.5" text-anchor="middle">2</text>
<text class="tk" x="291.48" y="101.5" text-anchor="middle">3</text>
<text class="tk" x="308.54" y="101.5" text-anchor="middle">4</text>
<text class="tk" x="325.6" y="101.5" text-anchor="middle">5</text>
<text class="lb" x="282.95" y="108.4" text-anchor="middle">Time[s]</text>
<text class="lb" x="0" y="0" text-anchor="middle" transform="translate(227.1,50.2) rotate(-90)">Doppler [Hz]</text>
<text class="tt" x="282.95" y="4.2" text-anchor="middle">Standing up</text>
</g>
<g clip-path="url(#ca10)"><g filter="url(#ja10)">
<rect x="11" y="122.3" width="97.3" height="100.4" fill="rgb(5,5,5)"/>
<polyline points="17,172.5 102.3,172.5" fill="none" stroke="rgb(92,92,92)" stroke-width="8" stroke-linecap="round" stroke-linejoin="round" class="l"/>
<polygon points="30.99,171.03 33.21,154.82 34.91,140.09 36.28,132.72 39.18,130.66 41.74,134.19 44.3,144.51 48.56,151.87 52.14,166.61 52.14,171.03" fill="rgb(97,97,97)" class="l"/>
<polygon points="33.21,171.03 34.91,154.82 36.62,145.98 41.74,145.98 46.85,154.82 50.27,171.03" fill="rgb(153,153,153)" class="l"/>
<polygon points="36.28,167.2 36.62,151.87 40.03,147.75 44.3,153.35 48.73,166.02" fill="rgb(212,212,212)" class="l"/>
<ellipse cx="40.88" cy="159.24" rx="2.39" ry="5.3" fill="rgb(242,242,242)" class="l"/>
<polygon points="31.5,173.97 51.97,173.97 49.41,190.18 46.85,199.02 41.74,204.32 37.47,199.02 34.06,187.23" fill="rgb(97,97,97)" class="l"/>
<polygon points="33.21,173.97 50.27,173.97 47.71,187.23 42.59,194.6 36.62,190.18" fill="rgb(153,153,153)" class="l"/>
<ellipse cx="40.88" cy="180.46" rx="6.14" ry="6.19" fill="rgb(214,214,214)" class="l"/>
<polygon points="53.85,171.03 56.24,148.93 57.94,137.14 62.21,133.6 65.79,137.14 71.08,145.98 78.07,159.24 85.07,171.03" fill="rgb(94,94,94)" class="l"/>
<polygon points="56.24,171.03 58.8,157.77 64.77,156 71.59,157.77 78.42,165.13 80.12,171.03" fill="rgb(148,148,148)" class="l"/>
<polyline points="60.5,166.02 66.47,167.2 73.3,166.61" fill="none" stroke="rgb(209,209,209)" stroke-width="6" stroke-linecap="round" stroke-linejoin="round" class="l"/>
<ellipse cx="63.06" cy="163.66" rx="2.73" ry="3.54" fill="rgb(204,204,204)" class="l"/>
<polygon points="55.38,173.97 80.12,173.97 75,187.23 69.89,201.97 67.33,208.45 64.77,201.97 58.8,184.29" fill="rgb(97,97,97)" class="l"/>
<polygon points="57.94,173.97 76.71,173.97 73.3,187.23 68.18,197.55 63.06,188.71" fill="rgb(153,153,153)" class="l"/>
<polyline points="60.5,177.8 64.77,183.7 69.03,184.29 73.3,177.8" fill="none" stroke="rgb(217,217,217)" stroke-width="7" stroke-linecap="round" stroke-linejoin="round" class="l"/>
<polyline points="76.94,160.71 77.65,137.07" fill="none" stroke="rgb(39,39,39)" stroke-width="1.2" stroke-linecap="round" stroke-linejoin="round" class="l"/>
<polyline points="81.04,160.71 80.67,138.36" fill="none" stroke="rgb(50,50,50)" stroke-width="1.2" stroke-linecap="round" stroke-linejoin="round" class="l"/>
<polyline points="84.35,160.71 85.15,140.47" fill="none" stroke="rgb(44,44,44)" stroke-width="1.2" stroke-linecap="round" stroke-linejoin="round" class="l"/>
<polyline points="86.92,160.71 86.1,136.63" fill="none" stroke="rgb(47,47,47)" stroke-width="1.2" stroke-linecap="round" stroke-linejoin="round" class="l"/>
<polyline points="88.58,160.71 88.5,131.26" fill="none" stroke="rgb(46,46,46)" stroke-width="1.2" stroke-linecap="round" stroke-linejoin="round" class="l"/>
<polyline points="90.73,160.71 90.07,142.06" fill="none" stroke="rgb(39,39,39)" stroke-width="1.2" stroke-linecap="round" stroke-linejoin="round" class="l"/>
<polyline points="95.31,160.71 94.76,135.72" fill="none" stroke="rgb(41,41,41)" stroke-width="1.2" stroke-linecap="round" stroke-linejoin="round" class="l"/>
<ellipse cx="19.05" cy="172.5" rx="1.02" ry="2.06" fill="rgb(163,163,163)" class="l"/>
<ellipse cx="23.31" cy="172.5" rx="1.02" ry="2.06" fill="rgb(163,163,163)" class="l"/>
<ellipse cx="27.58" cy="172.5" rx="1.02" ry="2.06" fill="rgb(163,163,163)" class="l"/>
<ellipse cx="31.84" cy="172.5" rx="1.02" ry="2.06" fill="rgb(163,163,163)" class="l"/>
<ellipse cx="36.11" cy="172.5" rx="1.02" ry="2.06" fill="rgb(163,163,163)" class="l"/>
<ellipse cx="40.37" cy="172.5" rx="1.02" ry="2.06" fill="rgb(163,163,163)" class="l"/>
<ellipse cx="44.64" cy="172.5" rx="1.02" ry="2.06" fill="rgb(163,163,163)" class="l"/>
<ellipse cx="48.9" cy="172.5" rx="1.02" ry="2.06" fill="rgb(163,163,163)" class="l"/>
<ellipse cx="53.17" cy="172.5" rx="1.02" ry="2.06" fill="rgb(163,163,163)" class="l"/>
<ellipse cx="57.43" cy="172.5" rx="1.02" ry="2.06" fill="rgb(163,163,163)" class="l"/>
<ellipse cx="61.7" cy="172.5" rx="1.02" ry="2.06" fill="rgb(163,163,163)" class="l"/>
<ellipse cx="65.96" cy="172.5" rx="1.02" ry="2.06" fill="rgb(163,163,163)" class="l"/>
<ellipse cx="70.23" cy="172.5" rx="1.02" ry="2.06" fill="rgb(163,163,163)" class="l"/>
<ellipse cx="74.49" cy="172.5" rx="1.02" ry="2.06" fill="rgb(163,163,163)" class="l"/>
<ellipse cx="78.76" cy="172.5" rx="1.02" ry="2.06" fill="rgb(163,163,163)" class="l"/>
<ellipse cx="83.02" cy="172.5" rx="1.02" ry="2.06" fill="rgb(163,163,163)" class="l"/>
<ellipse cx="87.29" cy="172.5" rx="1.02" ry="2.06" fill="rgb(163,163,163)" class="l"/>
<ellipse cx="91.55" cy="172.5" rx="1.02" ry="2.06" fill="rgb(163,163,163)" class="l"/>
<ellipse cx="95.82" cy="172.5" rx="1.02" ry="2.06" fill="rgb(163,163,163)" class="l"/>
<ellipse cx="100.08" cy="172.5" rx="1.02" ry="2.06" fill="rgb(163,163,163)" class="l"/>
</g></g>
<rect x="17" y="128.3" width="85.3" height="88.4" fill="none" stroke="#000" stroke-opacity="0.45" stroke-width="0.5"/>
<g class="a">
<text class="tk" x="15.5" y="130.4" text-anchor="end">150</text>
<text class="tk" x="15.5" y="145.13" text-anchor="end">100</text>
<text class="tk" x="15.5" y="159.87" text-anchor="end">50</text>
<text class="tk" x="15.5" y="174.6" text-anchor="end">0</text>
<text class="tk" x="15.5" y="189.33" text-anchor="end">-50</text>
<text class="tk" x="15.5" y="204.07" text-anchor="end">-100</text>
<text class="tk" x="15.5" y="218.8" text-anchor="end">-150</text>
<text class="tk" x="17" y="223.8" text-anchor="middle">0</text>
<text class="tk" x="34.06" y="223.8" text-anchor="middle">1</text>
<text class="tk" x="51.12" y="223.8" text-anchor="middle">2</text>
<text class="tk" x="68.18" y="223.8" text-anchor="middle">3</text>
<text class="tk" x="85.24" y="223.8" text-anchor="middle">4</text>
<text class="tk" x="102.3" y="223.8" text-anchor="middle">5</text>
<text class="lb" x="59.65" y="230.7" text-anchor="middle">Time[s]</text>
<text class="lb" x="0" y="0" text-anchor="middle" transform="translate(3.8,172.5) rotate(-90)">Doppler [Hz]</text>
<text class="tt" x="59.65" y="126.5" text-anchor="middle">Picking up Object</text>
</g>
<g clip-path="url(#ca11)"><g filter="url(#ja11)">
<rect x="122.6" y="122.3" width="97.3" height="100.4" fill="rgb(5,5,5)"/>
<polyline points="128.6,172.5 213.9,172.5" fill="none" stroke="rgb(94,94,94)" stroke-width="8" stroke-linecap="round" stroke-linejoin="round" class="l"/>
<ellipse cx="130.31" cy="172.5" rx="1.02" ry="1.47" fill="rgb(122,122,122)" class="l"/>
<ellipse cx="133.72" cy="172.5" rx="1.02" ry="1.47" fill="rgb(122,122,122)" class="l"/>
<ellipse cx="137.13" cy="172.5" rx="1.02" ry="1.47" fill="rgb(122,122,122)" class="l"/>
<ellipse cx="140.54" cy="172.5" rx="1.02" ry="1.47" fill="rgb(122,122,122)" class="l"/>
<ellipse cx="143.95" cy="172.5" rx="1.02" ry="1.47" fill="rgb(122,122,122)" class="l"/>
<ellipse cx="147.37" cy="172.5" rx="1.02" ry="1.47" fill="rgb(122,122,122)" class="l"/>
<ellipse cx="150.78" cy="172.5" rx="1.02" ry="1.47" fill="rgb(122,122,122)" class="l"/>
<ellipse cx="154.19" cy="172.5" rx="1.02" ry="1.47" fill="rgb(122,122,122)" class="l"/>
<ellipse cx="157.6" cy="172.5" rx="1.02" ry="1.47" fill="rgb(122,122,122)" class="l"/>
<ellipse cx="161.01" cy="172.5" rx="1.02" ry="1.47" fill="rgb(122,122,122)" class="l"/>
<ellipse cx="164.43" cy="172.5" rx="1.02" ry="1.47" fill="rgb(122,122,122)" class="l"/>
<ellipse cx="167.84" cy="172.5" rx="1.02" ry="1.47" fill="rgb(122,122,122)" class="l"/>
<ellipse cx="171.25" cy="172.5" rx="1.02" ry="1.47" fill="rgb(122,122,122)" class="l"/>
<ellipse cx="174.66" cy="172.5" rx="1.02" ry="1.47" fill="rgb(122,122,122)" class="l"/>
<ellipse cx="178.07" cy="172.5" rx="1.02" ry="1.47" fill="rgb(122,122,122)" class="l"/>
<ellipse cx="181.49" cy="172.5" rx="1.02" ry="1.47" fill="rgb(122,122,122)" class="l"/>
<ellipse cx="184.9" cy="172.5" rx="1.02" ry="1.47" fill="rgb(122,122,122)" class="l"/>
<ellipse cx="188.31" cy="172.5" rx="1.02" ry="1.47" fill="rgb(122,122,122)" class="l"/>
<ellipse cx="191.72" cy="172.5" rx="1.02" ry="1.47" fill="rgb(122,122,122)" class="l"/>
<ellipse cx="195.13" cy="172.5" rx="1.02" ry="1.47" fill="rgb(122,122,122)" class="l"/>
<ellipse cx="198.55" cy="172.5" rx="1.02" ry="1.47" fill="rgb(122,122,122)" class="l"/>
<ellipse cx="201.96" cy="172.5" rx="1.02" ry="1.47" fill="rgb(122,122,122)" class="l"/>
<ellipse cx="205.37" cy="172.5" rx="1.02" ry="1.47" fill="rgb(122,122,122)" class="l"/>
<ellipse cx="208.78" cy="172.5" rx="1.02" ry="1.47" fill="rgb(122,122,122)" class="l"/>
<ellipse cx="212.19" cy="172.5" rx="1.02" ry="1.47" fill="rgb(122,122,122)" class="l"/>
<polyline points="143.1,216.7 143.1,128.3" fill="none" stroke="rgb(51,51,51)" stroke-width="10" stroke-linecap="round" stroke-linejoin="round" class="l"/>
<polygon points="137.13,172.5 142.25,207.86 144.81,207.86 149.07,172.5 144.81,137.14 142.25,137.14" fill="rgb(76,76,76)" class="l"/>
<polyline points="143.1,199.02 143.1,145.98" fill="none" stroke="rgb(92,92,92)" stroke-width="3" stroke-linecap="round" stroke-linejoin="round" class="l"/>
<ellipse cx="143.95" cy="172.5" rx="2.39" ry="7.37" fill="rgb(128,128,128)" class="l"/>
<ellipse cx="151.63" cy="172.5" rx="5.12" ry="6.48" fill="rgb(76,76,76)" class="l"/>
<polygon points="154.19,173.97 159.31,190.18 161.87,216.7 165.28,216.7 167.84,190.18 172.96,173.97 172.96,171.03 167.84,154.82 166.13,128.3 161.87,128.3 159.31,154.82 154.19,171.03" fill="rgb(94,94,94)" class="l"/>
<polyline points="163.57,216.7 163.57,128.3" fill="none" stroke="rgb(76,76,76)" stroke-width="5" stroke-linecap="round" stroke-linejoin="round" class="l"/>
<ellipse cx="164.43" cy="153.35" rx="3.07" ry="11.79" fill="rgb(153,153,153)" class="l"/>
<ellipse cx="164.77" cy="153.35" rx="1.71" ry="7.66" fill="rgb(217,217,217)" class="l"/>
<ellipse cx="161.87" cy="181.34" rx="3.75" ry="8.84" fill="rgb(158,158,158)" class="l"/>
<ellipse cx="161.87" cy="179.87" rx="2.39" ry="4.71" fill="rgb(235,235,235)" class="l"/>
<polygon points="176.37,173.97 180.63,196.07 182.34,216.7 186.6,216.7 188.31,190.18 193.43,173.97 203.66,173.97 203.66,171.03 190.02,151.87 186.95,128.3 181.83,128.3 178.93,154.82 176.37,171.03" fill="rgb(94,94,94)" class="l"/>
<polyline points="184.04,216.7 184.04,128.3" fill="none" stroke="rgb(76,76,76)" stroke-width="5" stroke-linecap="round" stroke-linejoin="round" class="l"/>
<polygon points="179.78,171.03 181.49,154.82 184.9,148.93 193.43,157.77 201.96,163.66 205.37,171.03" fill="rgb(97,97,97)" class="l"/>
<polygon points="180.63,171.03 183.19,157.77 190.02,159.24 202.81,166.61 202.81,171.03" fill="rgb(153,153,153)" class="l"/>
<polyline points="185.75,163.66 190.02,166.02 195.13,168.08 199.4,168.96" fill="none" stroke="rgb(217,217,217)" stroke-width="6" stroke-linecap="round" stroke-linejoin="round" class="l"/>
<ellipse cx="185.75" cy="163.66" rx="1.71" ry="2.36" fill="rgb(245,245,245)" class="l"/>
<ellipse cx="195.13" cy="168.37" rx="3.41" ry="1.77" fill="rgb(242,242,242)" class="l"/>
<ellipse cx="183.19" cy="184.29" rx="3.07" ry="11.79" fill="rgb(140,140,140)" class="l"/>
<ellipse cx="182.34" cy="190.18" rx="1.19" ry="3.54" fill="rgb(204,204,204)" class="l"/>
<polyline points="201.96,172.5 213.9,172.5" fill="none" stroke="rgb(87,87,87)" stroke-width="7" stroke-linecap="round" stroke-linejoin="round" class="l"/>
</g></g>
<rect x="128.6" y="128.3" width="85.3" height="88.4" fill="none" stroke="#000" stroke-opacity="0.45" stroke-width="0.5"/>
<g class="a">
<text class="tk" x="127.1" y="130.4" text-anchor="end">150</text>
<text class="tk" x="127.1" y="145.13" text-anchor="end">100</text>
<text class="tk" x="127.1" y="159.87" text-anchor="end">50</text>
<text class="tk" x="127.1" y="174.6" text-anchor="end">0</text>
<text class="tk" x="127.1" y="189.33" text-anchor="end">-50</text>
<text class="tk" x="127.1" y="204.07" text-anchor="end">-100</text>
<text class="tk" x="127.1" y="218.8" text-anchor="end">-150</text>
<text class="tk" x="128.6" y="223.8" text-anchor="middle">0</text>
<text class="tk" x="145.66" y="223.8" text-anchor="middle">1</text>
<text class="tk" x="162.72" y="223.8" text-anchor="middle">2</text>
<text class="tk" x="179.78" y="223.8" text-anchor="middle">3</text>
<text class="tk" x="196.84" y="223.8" text-anchor="middle">4</text>
<text class="tk" x="213.9" y="223.8" text-anchor="middle">5</text>
<text class="lb" x="171.25" y="230.7" text-anchor="middle">Time[s]</text>
<text class="lb" x="0" y="0" text-anchor="middle" transform="translate(115.4,172.5) rotate(-90)">Doppler [Hz]</text>
<text class="tt" x="171.25" y="126.5" text-anchor="middle">Drinking Water</text>
</g>
<g clip-path="url(#ca12)"><g filter="url(#ja12)">
<rect x="234.3" y="122.3" width="97.3" height="100.4" fill="rgb(5,5,5)"/>
<ellipse cx="242.01" cy="171.03" rx="5.12" ry="6.48" fill="rgb(107,107,107)" class="l"/>
<ellipse cx="241.66" cy="171.03" rx="2.39" ry="3.54" fill="rgb(153,153,153)" class="l"/>
<polygon points="250.54,173.38 277.83,173.38 276.98,154.82 276.13,128.3 260.77,128.3 256.51,151.87 252.24,168.08" fill="rgb(97,97,97)" class="l"/>
<polygon points="253.09,172.5 274.42,172.5 274.08,154.82 273.57,128.3 262.48,128.3 258.21,151.87 254.29,168.08" fill="rgb(153,153,153)" class="l"/>
<polygon points="254.8,171.32 265.89,171.32 267.6,157.77 271.01,128.3 264.18,128.3 259.92,157.77 254.8,166.61" fill="rgb(214,214,214)" class="l"/>
<ellipse cx="258.21" cy="168.08" rx="3.41" ry="3.54" fill="rgb(245,245,245)" class="l"/>
<ellipse cx="265.89" cy="145.98" rx="1.71" ry="7.37" fill="rgb(242,242,242)" class="l"/>
<polyline points="276.13,172.5 276.47,128.3" fill="none" stroke="rgb(92,92,92)" stroke-width="3" stroke-linecap="round" stroke-linejoin="round" class="l"/>
<polyline points="245.42,173.68 305.13,173.68" fill="none" stroke="rgb(66,66,66)" stroke-width="2" stroke-linecap="round" stroke-linejoin="round" class="l"/>
<polygon points="252.58,173.97 279.54,173.97 274.42,190.18 273.57,216.7 262.48,216.7 260.77,190.18" fill="rgb(71,71,71)" class="l"/>
<polygon points="257.36,173.97 276.13,173.97 272.71,190.18 270.16,204.91 265.89,204.91 262.48,187.23" fill="rgb(92,92,92)" class="l"/>
<polyline points="261.49,184.29 261.13,211.85" fill="none" stroke="rgb(61,61,61)" stroke-width="1.2" stroke-linecap="round" stroke-linejoin="round" class="l"/>
<polyline points="263.93,184.29 264.09,214.5" fill="none" stroke="rgb(71,71,71)" stroke-width="1.2" stroke-linecap="round" stroke-linejoin="round" class="l"/>
<polyline points="265.55,184.29 265.64,199.25" fill="none" stroke="rgb(84,84,84)" stroke-width="1.2" stroke-linecap="round" stroke-linejoin="round" class="l"/>
<polyline points="269.23,184.29 268.72,204.94" fill="none" stroke="rgb(76,76,76)" stroke-width="1.2" stroke-linecap="round" stroke-linejoin="round" class="l"/>
<polyline points="270.38,184.29 270.29,196.7" fill="none" stroke="rgb(64,64,64)" stroke-width="1.2" stroke-linecap="round" stroke-linejoin="round" class="l"/>
<polyline points="273.49,184.29 274.03,211.17" fill="none" stroke="rgb(82,82,82)" stroke-width="1.2" stroke-linecap="round" stroke-linejoin="round" class="l"/>
<ellipse cx="289.77" cy="168.96" rx="5.12" ry="2.36" fill="rgb(51,51,51)" class="l"/>
<ellipse cx="298.3" cy="172.5" rx="4.26" ry="1.77" fill="rgb(51,51,51)" class="l"/>
<ellipse cx="247.12" cy="173.68" rx="1.02" ry="1.18" fill="rgb(92,92,92)" class="l"/>
<ellipse cx="250.54" cy="173.68" rx="1.02" ry="1.18" fill="rgb(92,92,92)" class="l"/>
<ellipse cx="253.95" cy="173.68" rx="1.02" ry="1.18" fill="rgb(92,92,92)" class="l"/>
<ellipse cx="257.36" cy="173.68" rx="1.02" ry="1.18" fill="rgb(92,92,92)" class="l"/>
<ellipse cx="260.77" cy="173.68" rx="1.02" ry="1.18" fill="rgb(92,92,92)" class="l"/>
<ellipse cx="264.18" cy="173.68" rx="1.02" ry="1.18" fill="rgb(92,92,92)" class="l"/>
<ellipse cx="267.6" cy="173.68" rx="1.02" ry="1.18" fill="rgb(92,92,92)" class="l"/>
<ellipse cx="271.01" cy="173.68" rx="1.02" ry="1.18" fill="rgb(92,92,92)" class="l"/>
<ellipse cx="274.42" cy="173.68" rx="1.02" ry="1.18" fill="rgb(92,92,92)" class="l"/>
<ellipse cx="277.83" cy="173.68" rx="1.02" ry="1.18" fill="rgb(92,92,92)" class="l"/>
<ellipse cx="281.24" cy="173.68" rx="1.02" ry="1.18" fill="rgb(92,92,92)" class="l"/>
<ellipse cx="284.66" cy="173.68" rx="1.02" ry="1.18" fill="rgb(92,92,92)" class="l"/>
<ellipse cx="288.07" cy="173.68" rx="1.02" ry="1.18" fill="rgb(92,92,92)" class="l"/>
<ellipse cx="291.48" cy="173.68" rx="1.02" ry="1.18" fill="rgb(92,92,92)" class="l"/>
<ellipse cx="294.89" cy="173.68" rx="1.02" ry="1.18" fill="rgb(92,92,92)" class="l"/>
<ellipse cx="298.3" cy="173.68" rx="1.02" ry="1.18" fill="rgb(92,92,92)" class="l"/>
<ellipse cx="301.72" cy="173.68" rx="1.02" ry="1.18" fill="rgb(92,92,92)" class="l"/>
</g></g>
<rect x="240.3" y="128.3" width="85.3" height="88.4" fill="none" stroke="#000" stroke-opacity="0.45" stroke-width="0.5"/>
<g class="a">
<text class="tk" x="238.8" y="130.4" text-anchor="end">150</text>
<text class="tk" x="238.8" y="145.13" text-anchor="end">100</text>
<text class="tk" x="238.8" y="159.87" text-anchor="end">50</text>
<text class="tk" x="238.8" y="174.6" text-anchor="end">0</text>
<text class="tk" x="238.8" y="189.33" text-anchor="end">-50</text>
<text class="tk" x="238.8" y="204.07" text-anchor="end">-100</text>
<text class="tk" x="238.8" y="218.8" text-anchor="end">-150</text>
<text class="tk" x="240.3" y="223.8" text-anchor="middle">0</text>
<text class="tk" x="257.36" y="223.8" text-anchor="middle">1</text>
<text class="tk" x="274.42" y="223.8" text-anchor="middle">2</text>
<text class="tk" x="291.48" y="223.8" text-anchor="middle">3</text>
<text class="tk" x="308.54" y="223.8" text-anchor="middle">4</text>
<text class="tk" x="325.6" y="223.8" text-anchor="middle">5</text>
<text class="lb" x="282.95" y="230.7" text-anchor="middle">Time[s]</text>
<text class="lb" x="0" y="0" text-anchor="middle" transform="translate(227.1,172.5) rotate(-90)">Doppler [Hz]</text>
<text class="tt" x="282.95" y="126.5" text-anchor="middle">Fall</text>
</g>
<g clip-path="url(#cb00)"><g filter="url(#jb00)">
<rect x="365" y="0" width="98" height="66.2" fill="rgb(5,5,5)"/>
<ellipse cx="371.17" cy="32.2" rx="0.86" ry="1.81" fill="rgb(64,64,64)" class="l"/>
<polygon points="383.9,32.56 388.2,25.87 396.8,22.26 405.4,19.55 414,20.45 422.6,22.26 425.18,32.56" fill="rgb(18,18,18)"/>
<polyline points="384.03,32.2 383.84,25.09" fill="none" stroke="rgb(49,49,49)" stroke-width="1.2" stroke-linecap="round" stroke-linejoin="round" class="l"/>
<polyline points="387.19,32.2 387.41,22.07" fill="none" stroke="rgb(64,64,64)" stroke-width="1.2" stroke-linecap="round" stroke-linejoin="round" class="l"/>
<polyline points="388.5,32.2 388.19,20.66" fill="none" stroke="rgb(69,69,69)" stroke-width="1.2" stroke-linecap="round" stroke-linejoin="round" class="l"/>
<polyline points="390.59,32.2 390.35,23.85" fill="none" stroke="rgb(66,66,66)" stroke-width="1.2" stroke-linecap="round" stroke-linejoin="round" class="l"/>
<polyline points="392.71,32.2 392.49,26.22" fill="none" stroke="rgb(59,59,59)" stroke-width="1.2" stroke-linecap="round" stroke-linejoin="round" class="l"/>
<polyline points="393.78,32.2 393.92,26.28" fill="none" stroke="rgb(73,73,73)" stroke-width="1.2" stroke-linecap="round" stroke-linejoin="round" class="l"/>
<polyline points="395.22,32.2 395.34,23.04" fill="none" stroke="rgb(51,51,51)" stroke-width="1.2" stroke-linecap="round" stroke-linejoin="round" class="l"/>
<polyline points="397.8,32.2 398.04,23.34" fill="none" stroke="rgb(74,74,74)" stroke-width="1.2" stroke-linecap="round" stroke-linejoin="round" class="l"/>
<polyline points="400.19,32.2 400.26,25.36" fill="none" stroke="rgb(52,52,52)" stroke-width="1.2" stroke-linecap="round" stroke-linejoin="round" class="l"/>
<polyline points="401.79,32.2 401.52,20.43" fill="none" stroke="rgb(77,77,77)" stroke-width="1.2" stroke-linecap="round" stroke-linejoin="round" class="l"/>
<polyline points="403.44,32.2 403.84,21.93" fill="none" stroke="rgb(62,62,62)" stroke-width="1.2" stroke-linecap="round" stroke-linejoin="round" class="l"/>
<polyline points="404.57,32.2 404.95,24.37" fill="none" stroke="rgb(76,76,76)" stroke-width="1.2" stroke-linecap="round" stroke-linejoin="round" class="l"/>
<polyline points="407.37,32.2 407.21,25.7" fill="none" stroke="rgb(68,68,68)" stroke-width="1.2" stroke-linecap="round" stroke-linejoin="round" class="l"/>
<polyline points="409.6,32.2 409.68,24.96" fill="none" stroke="rgb(55,55,55)" stroke-width="1.2" stroke-linecap="round" stroke-linejoin="round" class="l"/>
<polyline points="411.62,32.2 411.68,23.74" fill="none" stroke="rgb(68,68,68)" stroke-width="1.2" stroke-linecap="round" stroke-linejoin="round" class="l"/>
<polyline points="413.03,32.2 413.35,27.72" fill="none" stroke="rgb(61,61,61)" stroke-width="1.2" stroke-linecap="round" stroke-linejoin="round" class="l"/>
<polyline points="414.88,32.2 414.48,21.33" fill="none" stroke="rgb(80,80,80)" stroke-width="1.2" stroke-linecap="round" stroke-linejoin="round" class="l"/>
<polyline points="417.16,32.2 416.92,23.75" fill="none" stroke="rgb(49,49,49)" stroke-width="1.2" stroke-linecap="round" stroke-linejoin="round" class="l"/>
<polyline points="418.6,32.2 418.48,23.98" fill="none" stroke="rgb(77,77,77)" stroke-width="1.2" stroke-linecap="round" stroke-linejoin="round" class="l"/>
<polyline points="421.03,32.2 421.44,24.39" fill="none" stroke="rgb(79,79,79)" stroke-width="1.2" stroke-linecap="round" stroke-linejoin="round" class="l"/>
<polyline points="421.73,32.2 421.59,21.05" fill="none" stroke="rgb(52,52,52)" stroke-width="1.2" stroke-linecap="round" stroke-linejoin="round" class="l"/>
<polyline points="424.97,32.2 424.54,24.2" fill="none" stroke="rgb(49,49,49)" stroke-width="1.2" stroke-linecap="round" stroke-linejoin="round" class="l"/>
<polygon points="378.74,33.64 426.9,33.64 426.04,38.52 422.6,43.94 418.3,51.17 414,55.68 407.12,58.39 401.1,56.59 395.08,53.88 389.92,51.17 384.76,46.65 381.32,40.33" fill="rgb(97,97,97)" class="l"/>
<polyline points="385.47,43.94 385.21,56.45" fill="none" stroke="rgb(66,66,66)" stroke-width="1.2" stroke-linecap="round" stroke-linejoin="round" class="l"/>
<polyline points="387.34,43.94 387.65,59.88" fill="none" stroke="rgb(66,66,66)" stroke-width="1.2" stroke-linecap="round" stroke-linejoin="round" class="l"/>
<polyline points="388.08,43.94 388.08,55.21" fill="none" stroke="rgb(59,59,59)" stroke-width="1.2" stroke-linecap="round" stroke-linejoin="round" class="l"/>
<polyline points="391.32,43.94 391.64,58.68" fill="none" stroke="rgb(70,70,70)" stroke-width="1.2" stroke-linecap="round" stroke-linejoin="round" class="l"/>
<polyline points="392.79,43.94 392.97,50.99" fill="none" stroke="rgb(68,68,68)" stroke-width="1.2" stroke-linecap="round" stroke-linejoin="round" class="l"/>
<polyline points="395.63,43.94 395.42,50.02" fill="none" stroke="rgb(60,60,60)" stroke-width="1.2" stroke-linecap="round" stroke-linejoin="round" class="l"/>
<polyline points="397.2,43.94 396.8,58.74" fill="none" stroke="rgb(61,61,61)" stroke-width="1.2" stroke-linecap="round" stroke-linejoin="round" class="l"/>
<polyline points="400.13,43.94 399.73,58.82" fill="none" stroke="rgb(78,78,78)" stroke-width="1.2" stroke-linecap="round" stroke-linejoin="round" class="l"/>
<polyline points="400.87,43.94 400.55,51.5" fill="none" stroke="rgb(83,83,83)" stroke-width="1.2" stroke-linecap="round" stroke-linejoin="round" class="l"/>
<polyline points="402.65,43.94 402.39,51.96" fill="none" stroke="rgb(79,79,79)" stroke-width="1.2" stroke-linecap="round" stroke-linejoin="round" class="l"/>
<polyline points="406.46,43.94 406.2,52.89" fill="none" stroke="rgb(74,74,74)" stroke-width="1.2" stroke-linecap="round" stroke-linejoin="round" class="l"/>
<polyline points="407.1,43.94 406.88,58.78" fill="none" stroke="rgb(86,86,86)" stroke-width="1.2" stroke-linecap="round" stroke-linejoin="round" class="l"/>
<polyline points="409.27,43.94 409.17,50.24" fill="none" stroke="rgb(58,58,58)" stroke-width="1.2" stroke-linecap="round" stroke-linejoin="round" class="l"/>
<polyline points="411.68,43.94 411.38,55.69" fill="none" stroke="rgb(64,64,64)" stroke-width="1.2" stroke-linecap="round" stroke-linejoin="round" class="l"/>
<polyline points="413.8,43.94 414.21,53.32" fill="none" stroke="rgb(64,64,64)" stroke-width="1.2" stroke-linecap="round" stroke-linejoin="round" class="l"/>
<polyline points="415.92,43.94 416.33,49.79" fill="none" stroke="rgb(85,85,85)" stroke-width="1.2" stroke-linecap="round" stroke-linejoin="round" class="l"/>
<polyline points="417.57,43.94 417.93,59.98" fill="none" stroke="rgb(55,55,55)" stroke-width="1.2" stroke-linecap="round" stroke-linejoin="round" class="l"/>
<polyline points="419.17,43.94 419.57,58.76" fill="none" stroke="rgb(75,75,75)" stroke-width="1.2" stroke-linecap="round" stroke-linejoin="round" class="l"/>
<polygon points="380.46,34.18 425.18,34.18 424.32,39.42 420.88,43.94 414,46.65 401.1,47.19 392.5,44.84 386.48,41.23 382.18,37.62" fill="rgb(128,128,128)" class="l"/>
<ellipse cx="389.92" cy="38.52" rx="2.58" ry="2.17" fill="rgb(163,163,163)" class="l"/>
<polyline points="394.22,41.23 396.8,43.04 399.38,40.69 401.96,43.04 404.54,41.05 407.12,43.58 409.7,41.23 412.28,43.58 414.86,40.69 417.44,42.49 420.02,39.97 423.46,41.23" fill="none" stroke="rgb(163,163,163)" stroke-width="7" stroke-linecap="round" stroke-linejoin="round" class="l"/>
<polyline points="394.22,41.23 396.8,43.04 399.38,40.69 401.96,43.04 404.54,41.05 407.12,43.58 409.7,41.23 412.28,43.58 414.86,40.69 417.44,42.49 420.02,39.97 423.46,41.23" fill="none" stroke="rgb(217,217,217)" stroke-width="4.2" stroke-linecap="round" stroke-linejoin="round" class="l"/>
<polyline points="405.4,42.13 410.56,42.49 415.72,41.77" fill="none" stroke="rgb(242,242,242)" stroke-width="2.6" stroke-linecap="round" stroke-linejoin="round" class="l"/>
<polygon points="425.18,32.56 426.9,24.07 431.2,21.36 435.5,24.07 439.8,24.07 444.96,20.45 448.4,15.03 450.98,7.81 452.7,6 457,6 457,32.56" fill="rgb(87,87,87)" class="l"/>
<polyline points="446.8,25.87 446.55,8.04" fill="none" stroke="rgb(80,80,80)" stroke-width="1.2" stroke-linecap="round" stroke-linejoin="round" class="l"/>
<polyline points="448.98,25.87 449.07,11.24" fill="none" stroke="rgb(89,89,89)" stroke-width="1.2" stroke-linecap="round" stroke-linejoin="round" class="l"/>
<polyline points="450.19,25.87 449.85,8.91" fill="none" stroke="rgb(71,71,71)" stroke-width="1.2" stroke-linecap="round" stroke-linejoin="round" class="l"/>
<polyline points="451.71,25.87 452.13,17.4" fill="none" stroke="rgb(79,79,79)" stroke-width="1.2" stroke-linecap="round" stroke-linejoin="round" class="l"/>
<polyline points="452.29,25.87 452.04,15.54" fill="none" stroke="rgb(72,72,72)" stroke-width="1.2" stroke-linecap="round" stroke-linejoin="round" class="l"/>
<polyline points="454.1,25.87 454.18,15.07" fill="none" stroke="rgb(60,60,60)" stroke-width="1.2" stroke-linecap="round" stroke-linejoin="round" class="l"/>
<polyline points="454.75,25.87 455.05,16.61" fill="none" stroke="rgb(58,58,58)" stroke-width="1.2" stroke-linecap="round" stroke-linejoin="round" class="l"/>
<polyline points="456.2,25.87 456.51,11.17" fill="none" stroke="rgb(76,76,76)" stroke-width="1.2" stroke-linecap="round" stroke-linejoin="round" class="l"/>
<ellipse cx="430.34" cy="28.04" rx="3.87" ry="3.97" fill="rgb(158,158,158)" class="l"/>
<ellipse cx="430.34" cy="28.58" rx="1.72" ry="1.81" fill="rgb(204,204,204)" class="l"/>
<polyline points="438.94,31.29 444.1,29.49 448.4,27.68 452.7,24.97 457,21.36" fill="none" stroke="rgb(153,153,153)" stroke-width="6" stroke-linecap="round" stroke-linejoin="round" class="l"/>
<polyline points="438.94,31.29 444.1,29.49 448.4,27.68 452.7,24.97 457,21.36" fill="none" stroke="rgb(209,209,209)" stroke-width="3" stroke-linecap="round" stroke-linejoin="round" class="l"/>
<polyline points="425.18,34.91 457,34.91" fill="none" stroke="rgb(97,97,97)" stroke-width="3" stroke-linecap="round" stroke-linejoin="round" class="l"/>
<ellipse cx="434.64" cy="38.52" rx="3.01" ry="3.61" fill="rgb(158,158,158)" class="l"/>
<ellipse cx="434.64" cy="38.52" rx="1.29" ry="1.81" fill="rgb(204,204,204)" class="l"/>
<polyline points="378.74,34.18 457,34.18" fill="none" stroke="rgb(117,117,117)" stroke-width="3" stroke-linecap="round" stroke-linejoin="round" class="l"/>
<polyline points="375.3,32.65 457,32.65" fill="none" stroke="rgb(13,13,13)" stroke-width="1" stroke-linecap="round" stroke-linejoin="round" stroke-opacity="0.8"/>
</g></g>
<rect x="371" y="6" width="86" height="54.2" fill="none" stroke="#000" stroke-opacity="0.45" stroke-width="0.5"/>
<g class="b">
<text class="tk" x="369.5" y="17.13" text-anchor="end">100</text>
<text class="tk" x="369.5" y="35.2" text-anchor="end">0</text>
<text class="tk" x="369.5" y="53.27" text-anchor="end">-100</text>
<text class="tk" x="371" y="66.9" text-anchor="middle">0</text>
<text class="tk" x="388.2" y="66.9" text-anchor="middle">2</text>
<text class="tk" x="405.4" y="66.9" text-anchor="middle">4</text>
<text class="tk" x="422.6" y="66.9" text-anchor="middle">6</text>
<text class="tk" x="439.8" y="66.9" text-anchor="middle">8</text>
<text class="tk" x="457" y="66.9" text-anchor="middle">10</text>
<text class="lb" x="414" y="73.7" text-anchor="middle">Time[s]</text>
<text class="lb" x="0" y="0" text-anchor="middle" transform="translate(357.8,33.1) rotate(-90)">Doppler [Hz]</text>
<text class="tt" x="414" y="4.2" text-anchor="middle">Room 1</text>
</g>
<g clip-path="url(#cb01)"><g filter="url(#jb01)">
<rect x="478" y="0" width="98" height="66.2" fill="rgb(5,5,5)"/>
<ellipse cx="484.17" cy="32.2" rx="0.86" ry="1.81" fill="rgb(64,64,64)" class="l"/>
<polygon points="491.74,32.56 494.32,25.87 527,21.36 552.8,22.26 570,23.16 570,32.56" fill="rgb(18,18,18)"/>
<polyline points="494.06,32.2 494.39,22.43" fill="none" stroke="rgb(49,49,49)" stroke-width="1.2" stroke-linecap="round" stroke-linejoin="round" class="l"/>
<polyline points="496.81,32.2 496.68,23.11" fill="none" stroke="rgb(76,76,76)" stroke-width="1.2" stroke-linecap="round" stroke-linejoin="round" class="l"/>
<polyline points="499.82,32.2 500,22.91" fill="none" stroke="rgb(53,53,53)" stroke-width="1.2" stroke-linecap="round" stroke-linejoin="round" class="l"/>
<polyline points="501.88,32.2 502.02,21.83" fill="none" stroke="rgb(76,76,76)" stroke-width="1.2" stroke-linecap="round" stroke-linejoin="round" class="l"/>
<polyline points="504.49,32.2 504.2,21" fill="none" stroke="rgb(55,55,55)" stroke-width="1.2" stroke-linecap="round" stroke-linejoin="round" class="l"/>
<polyline points="507.19,32.2 507.37,22.94" fill="none" stroke="rgb(80,80,80)" stroke-width="1.2" stroke-linecap="round" stroke-linejoin="round" class="l"/>
<polyline points="509.47,32.2 509.25,21.2" fill="none" stroke="rgb(53,53,53)" stroke-width="1.2" stroke-linecap="round" stroke-linejoin="round" class="l"/>
<polyline points="513.19,32.2 513.2,22.64" fill="none" stroke="rgb(69,69,69)" stroke-width="1.2" stroke-linecap="round" stroke-linejoin="round" class="l"/>
<polyline points="513.4,32.2 513.19,25.16" fill="none" stroke="rgb(56,56,56)" stroke-width="1.2" stroke-linecap="round" stroke-linejoin="round" class="l"/>
<polyline points="517.04,32.2 516.73,27.29" fill="none" stroke="rgb(75,75,75)" stroke-width="1.2" stroke-linecap="round" stroke-linejoin="round" class="l"/>
<polyline points="518.41,32.2 518.17,24.2" fill="none" stroke="rgb(57,57,57)" stroke-width="1.2" stroke-linecap="round" stroke-linejoin="round" class="l"/>
<polyline points="522.85,32.2 523.26,23.22" fill="none" stroke="rgb(76,76,76)" stroke-width="1.2" stroke-linecap="round" stroke-linejoin="round" class="l"/>
<polyline points="524.27,32.2 524.05,24" fill="none" stroke="rgb(60,60,60)" stroke-width="1.2" stroke-linecap="round" stroke-linejoin="round" class="l"/>
<polyline points="526.84,32.2 527,25.4" fill="none" stroke="rgb(64,64,64)" stroke-width="1.2" stroke-linecap="round" stroke-linejoin="round" class="l"/>
<polyline points="531.24,32.2 531.02,21.34" fill="none" stroke="rgb(51,51,51)" stroke-width="1.2" stroke-linecap="round" stroke-linejoin="round" class="l"/>
<polyline points="533.68,32.2 533.45,21.01" fill="none" stroke="rgb(66,66,66)" stroke-width="1.2" stroke-linecap="round" stroke-linejoin="round" class="l"/>
<polyline points="534.06,32.2 534.29,27.84" fill="none" stroke="rgb(79,79,79)" stroke-width="1.2" stroke-linecap="round" stroke-linejoin="round" class="l"/>
<polyline points="537.93,32.2 537.94,23.27" fill="none" stroke="rgb(60,60,60)" stroke-width="1.2" stroke-linecap="round" stroke-linejoin="round" class="l"/>
<polyline points="539.6,32.2 539.67,22.58" fill="none" stroke="rgb(69,69,69)" stroke-width="1.2" stroke-linecap="round" stroke-linejoin="round" class="l"/>
<polyline points="541.94,32.2 542.17,27.77" fill="none" stroke="rgb(49,49,49)" stroke-width="1.2" stroke-linecap="round" stroke-linejoin="round" class="l"/>
<polyline points="546.59,32.2 546.5,23.13" fill="none" stroke="rgb(73,73,73)" stroke-width="1.2" stroke-linecap="round" stroke-linejoin="round" class="l"/>
<polyline points="548.02,32.2 547.62,26.44" fill="none" stroke="rgb(77,77,77)" stroke-width="1.2" stroke-linecap="round" stroke-linejoin="round" class="l"/>
<polyline points="551.4,32.2 551.51,21.33" fill="none" stroke="rgb(55,55,55)" stroke-width="1.2" stroke-linecap="round" stroke-linejoin="round" class="l"/>
<polyline points="553.08,32.2 553.12,21.64" fill="none" stroke="rgb(55,55,55)" stroke-width="1.2" stroke-linecap="round" stroke-linejoin="round" class="l"/>
<polyline points="555.86,32.2 555.66,25.51" fill="none" stroke="rgb(61,61,61)" stroke-width="1.2" stroke-linecap="round" stroke-linejoin="round" class="l"/>
<polyline points="558.53,32.2 558.15,23.29" fill="none" stroke="rgb(69,69,69)" stroke-width="1.2" stroke-linecap="round" stroke-linejoin="round" class="l"/>
<polyline points="562.08,32.2 562.42,23.06" fill="none" stroke="rgb(61,61,61)" stroke-width="1.2" stroke-linecap="round" stroke-linejoin="round" class="l"/>
<polyline points="564.72,32.2 564.42,27.25" fill="none" stroke="rgb(64,64,64)" stroke-width="1.2" stroke-linecap="round" stroke-linejoin="round" class="l"/>
<polyline points="566.8,32.2 566.88,23.48" fill="none" stroke="rgb(55,55,55)" stroke-width="1.2" stroke-linecap="round" stroke-linejoin="round" class="l"/>
<polyline points="569.66,32.2 569.38,23.6" fill="none" stroke="rgb(61,61,61)" stroke-width="1.2" stroke-linecap="round" stroke-linejoin="round" class="l"/>
<ellipse cx="527.86" cy="23.16" rx="1.29" ry="2.71" fill="rgb(92,92,92)" class="l"/>
<polygon points="491.74,33.64 551.94,33.64 549.36,43.94 535.6,52.97 529.58,58.39 522.7,52.97 509.8,49.36 496.9,49.36 492.6,42.13" fill="rgb(92,92,92)" class="l"/>
<polyline points="493.57,40.33 493.19,58.19" fill="none" stroke="rgb(76,76,76)" stroke-width="1.2" stroke-linecap="round" stroke-linejoin="round" class="l"/>
<polyline points="496.4,40.33 496.68,48.48" fill="none" stroke="rgb(53,53,53)" stroke-width="1.2" stroke-linecap="round" stroke-linejoin="round" class="l"/>
<polyline points="499.88,40.33 499.56,52.78" fill="none" stroke="rgb(74,74,74)" stroke-width="1.2" stroke-linecap="round" stroke-linejoin="round" class="l"/>
<polyline points="500.13,40.33 500.37,50.04" fill="none" stroke="rgb(54,54,54)" stroke-width="1.2" stroke-linecap="round" stroke-linejoin="round" class="l"/>
<polyline points="502.74,40.33 502.48,52.13" fill="none" stroke="rgb(53,53,53)" stroke-width="1.2" stroke-linecap="round" stroke-linejoin="round" class="l"/>
<polyline points="505.61,40.33 505.66,52.64" fill="none" stroke="rgb(62,62,62)" stroke-width="1.2" stroke-linecap="round" stroke-linejoin="round" class="l"/>
<polyline points="508.69,40.33 508.35,48.54" fill="none" stroke="rgb(71,71,71)" stroke-width="1.2" stroke-linecap="round" stroke-linejoin="round" class="l"/>
<polyline points="511.25,40.33 511.58,56.18" fill="none" stroke="rgb(84,84,84)" stroke-width="1.2" stroke-linecap="round" stroke-linejoin="round" class="l"/>
<polyline points="513.53,40.33 513.67,57.73" fill="none" stroke="rgb(76,76,76)" stroke-width="1.2" stroke-linecap="round" stroke-linejoin="round" class="l"/>
<polyline points="514.67,40.33 515,47.16" fill="none" stroke="rgb(60,60,60)" stroke-width="1.2" stroke-linecap="round" stroke-linejoin="round" class="l"/>
<polyline points="519.16,40.33 518.9,56.31" fill="none" stroke="rgb(68,68,68)" stroke-width="1.2" stroke-linecap="round" stroke-linejoin="round" class="l"/>
<polyline points="520.31,40.33 520.64,57.68" fill="none" stroke="rgb(60,60,60)" stroke-width="1.2" stroke-linecap="round" stroke-linejoin="round" class="l"/>
<polyline points="523.33,40.33 523.14,52.99" fill="none" stroke="rgb(61,61,61)" stroke-width="1.2" stroke-linecap="round" stroke-linejoin="round" class="l"/>
<polyline points="524.89,40.33 524.78,56.21" fill="none" stroke="rgb(53,53,53)" stroke-width="1.2" stroke-linecap="round" stroke-linejoin="round" class="l"/>
<polyline points="528.3,40.33 528.73,49.86" fill="none" stroke="rgb(58,58,58)" stroke-width="1.2" stroke-linecap="round" stroke-linejoin="round" class="l"/>
<polyline points="529.9,40.33 530.09,58.24" fill="none" stroke="rgb(71,71,71)" stroke-width="1.2" stroke-linecap="round" stroke-linejoin="round" class="l"/>
<polyline points="532.53,40.33 532.8,53.08" fill="none" stroke="rgb(66,66,66)" stroke-width="1.2" stroke-linecap="round" stroke-linejoin="round" class="l"/>
<polyline points="534.3,40.33 534.64,51.35" fill="none" stroke="rgb(74,74,74)" stroke-width="1.2" stroke-linecap="round" stroke-linejoin="round" class="l"/>
<polyline points="536.65,40.33 536.49,57.8" fill="none" stroke="rgb(55,55,55)" stroke-width="1.2" stroke-linecap="round" stroke-linejoin="round" class="l"/>
<polyline points="539.85,40.33 539.49,48.97" fill="none" stroke="rgb(82,82,82)" stroke-width="1.2" stroke-linecap="round" stroke-linejoin="round" class="l"/>
<polyline points="542.22,40.33 541.83,52.16" fill="none" stroke="rgb(78,78,78)" stroke-width="1.2" stroke-linecap="round" stroke-linejoin="round" class="l"/>
<polyline points="545.21,40.33 545.12,56.87" fill="none" stroke="rgb(52,52,52)" stroke-width="1.2" stroke-linecap="round" stroke-linejoin="round" class="l"/>
<polyline points="548.52,40.33 548.59,47.9" fill="none" stroke="rgb(62,62,62)" stroke-width="1.2" stroke-linecap="round" stroke-linejoin="round" class="l"/>
<polyline points="550.43,40.33 550.72,53.13" fill="none" stroke="rgb(58,58,58)" stroke-width="1.2" stroke-linecap="round" stroke-linejoin="round" class="l"/>
<polygon points="492.6,34.18 550.22,34.18 548.5,41.23 527,43.94 501.2,42.13 493.46,37.62" fill="rgb(153,153,153)" class="l"/>
<polyline points="495.18,37.07 501.2,36.71 506.36,38.16 511.52,37.44 516.68,38.52 521.84,38.16 527,39.42 532.16,38.52 536.46,39.97 540.76,38.16 546.78,38.52" fill="none" stroke="rgb(97,97,97)" stroke-width="12" stroke-linecap="round" stroke-linejoin="round" class="l"/>
<polyline points="495.18,37.07 501.2,36.71 506.36,38.16 511.52,37.44 516.68,38.52 521.84,38.16 527,39.42 532.16,38.52 536.46,39.97 540.76,38.16 546.78,38.52" fill="none" stroke="rgb(153,153,153)" stroke-width="8" stroke-linecap="round" stroke-linejoin="round" class="l"/>
<polyline points="495.18,37.07 501.2,36.71 506.36,38.16 511.52,37.44 516.68,38.52 521.84,38.16 527,39.42 532.16,38.52 536.46,39.97 540.76,38.16 546.78,38.52" fill="none" stroke="rgb(138,138,138)" stroke-width="1.5" stroke-linecap="round" stroke-linejoin="round" class="l"/>
<ellipse cx="494.98" cy="37.89" rx="1.84" ry="2.1" fill="rgb(153,153,153)" class="l"/>
<ellipse cx="498.33" cy="36.83" rx="1.71" ry="1.95" fill="rgb(146,146,146)" class="l"/>
<ellipse cx="501.77" cy="36.38" rx="2.09" ry="2.4" fill="rgb(160,160,160)" class="l"/>
<ellipse cx="504.38" cy="37.24" rx="2.05" ry="2.35" fill="rgb(145,145,145)" class="l"/>
<ellipse cx="506.93" cy="38.35" rx="1.79" ry="2.05" fill="rgb(147,147,147)" class="l"/>
<ellipse cx="509.44" cy="37.6" rx="2.18" ry="2.5" fill="rgb(136,136,136)" class="l"/>
<ellipse cx="513.79" cy="37.06" rx="1.73" ry="1.98" fill="rgb(158,158,158)" class="l"/>
<ellipse cx="514.95" cy="38.06" rx="1.68" ry="1.93" fill="rgb(138,138,138)" class="l"/>
<ellipse cx="519.61" cy="38.05" rx="1.89" ry="2.17" fill="rgb(168,168,168)" class="l"/>
<ellipse cx="521.97" cy="37.36" rx="1.92" ry="2.2" fill="rgb(143,143,143)" class="l"/>
<ellipse cx="525.09" cy="38.38" rx="1.89" ry="2.17" fill="rgb(158,158,158)" class="l"/>
<ellipse cx="526.96" cy="40.1" rx="2.01" ry="2.31" fill="rgb(153,153,153)" class="l"/>
<ellipse cx="531.31" cy="38.87" rx="2.03" ry="2.32" fill="rgb(145,145,145)" class="l"/>
<ellipse cx="533.62" cy="38.82" rx="1.59" ry="1.82" fill="rgb(137,137,137)" class="l"/>
<ellipse cx="536.77" cy="40.7" rx="2.16" ry="2.47" fill="rgb(146,146,146)" class="l"/>
<ellipse cx="538.15" cy="38.58" rx="1.77" ry="2.03" fill="rgb(138,138,138)" class="l"/>
<ellipse cx="542.03" cy="38.72" rx="1.82" ry="2.09" fill="rgb(154,154,154)" class="l"/>
<ellipse cx="543.67" cy="37.99" rx="2.07" ry="2.37" fill="rgb(144,144,144)" class="l"/>
<ellipse cx="501.2" cy="37.07" rx="2.15" ry="1.63" fill="rgb(209,209,209)" class="l"/>
<ellipse cx="523.56" cy="38.52" rx="3.01" ry="1.81" fill="rgb(214,214,214)" class="l"/>
<polyline points="495.54,40.33 495.57,50.82" fill="none" stroke="rgb(78,78,78)" stroke-width="1.6" stroke-linecap="round" stroke-linejoin="round" class="l"/>
<polyline points="500.78,40.33 500.53,49.24" fill="none" stroke="rgb(67,67,67)" stroke-width="1.6" stroke-linecap="round" stroke-linejoin="round" class="l"/>
<polyline points="509.14,40.33 508.95,57.47" fill="none" stroke="rgb(94,94,94)" stroke-width="1.6" stroke-linecap="round" stroke-linejoin="round" class="l"/>
<polyline points="512.75,40.33 512.36,56.12" fill="none" stroke="rgb(99,99,99)" stroke-width="1.6" stroke-linecap="round" stroke-linejoin="round" class="l"/>
<polyline points="520.92,40.33 521.23,56.19" fill="none" stroke="rgb(91,91,91)" stroke-width="1.6" stroke-linecap="round" stroke-linejoin="round" class="l"/>
<polyline points="521.31,40.33 521.18,48.37" fill="none" stroke="rgb(94,94,94)" stroke-width="1.6" stroke-linecap="round" stroke-linejoin="round" class="l"/>
<polyline points="530.24,40.33 529.98,54.84" fill="none" stroke="rgb(103,103,103)" stroke-width="1.6" stroke-linecap="round" stroke-linejoin="round" class="l"/>
<polyline points="534.77,40.33 534.35,57.82" fill="none" stroke="rgb(85,85,85)" stroke-width="1.6" stroke-linecap="round" stroke-linejoin="round" class="l"/>
<polyline points="538.44,40.33 538.36,52.57" fill="none" stroke="rgb(74,74,74)" stroke-width="1.6" stroke-linecap="round" stroke-linejoin="round" class="l"/>
<polyline points="546.24,40.33 546.63,46.94" fill="none" stroke="rgb(70,70,70)" stroke-width="1.6" stroke-linecap="round" stroke-linejoin="round" class="l"/>
<ellipse cx="535.6" cy="39.42" rx="2.58" ry="1.81" fill="rgb(235,235,235)" class="l"/>
<ellipse cx="546.78" cy="37.62" rx="1.29" ry="2.17" fill="rgb(217,217,217)" class="l"/>
<polygon points="542.48,32.56 570,32.56 570,25.87 552.8,26.78 544.2,28.58" fill="rgb(153,153,153)" class="l"/>
<ellipse cx="558.82" cy="30.39" rx="3.44" ry="1.45" fill="rgb(191,191,191)" class="l"/>
<ellipse cx="569.14" cy="25.87" rx="1.29" ry="2.71" fill="rgb(217,217,217)" class="l"/>
<ellipse cx="563.12" cy="36.71" rx="1.72" ry="2.17" fill="rgb(191,191,191)" class="l"/>
<ellipse cx="569.14" cy="36.71" rx="0.86" ry="2.17" fill="rgb(217,217,217)" class="l"/>
<polyline points="491.74,34.18 570,34.18" fill="none" stroke="rgb(117,117,117)" stroke-width="3" stroke-linecap="round" stroke-linejoin="round" class="l"/>
<polyline points="488.3,32.65 570,32.65" fill="none" stroke="rgb(13,13,13)" stroke-width="1" stroke-linecap="round" stroke-linejoin="round" stroke-opacity="0.8"/>
</g></g>
<rect x="484" y="6" width="86" height="54.2" fill="none" stroke="#000" stroke-opacity="0.45" stroke-width="0.5"/>
<g class="b">
<text class="tk" x="482.5" y="17.13" text-anchor="end">100</text>
<text class="tk" x="482.5" y="35.2" text-anchor="end">0</text>
<text class="tk" x="482.5" y="53.27" text-anchor="end">-100</text>
<text class="tk" x="484" y="66.9" text-anchor="middle">0</text>
<text class="tk" x="501.2" y="66.9" text-anchor="middle">2</text>
<text class="tk" x="518.4" y="66.9" text-anchor="middle">4</text>
<text class="tk" x="535.6" y="66.9" text-anchor="middle">6</text>
<text class="tk" x="552.8" y="66.9" text-anchor="middle">8</text>
<text class="tk" x="570" y="66.9" text-anchor="middle">10</text>
<text class="lb" x="527" y="73.7" text-anchor="middle">Time[s]</text>
<text class="lb" x="0" y="0" text-anchor="middle" transform="translate(470.8,33.1) rotate(-90)">Doppler [Hz]</text>
<text class="tt" x="527" y="4.2" text-anchor="middle">Room 2</text>
</g>
<g clip-path="url(#cb02)"><g filter="url(#jb02)">
<rect x="591" y="0" width="98" height="66.2" fill="rgb(5,5,5)"/>
<polygon points="606.46,32.56 608.18,22.26 614.2,15.03 617.64,6 622.8,6 627.96,13.23 631.4,32.56" fill="rgb(18,18,18)"/>
<polyline points="607.05,32.2 607.41,19.1" fill="none" stroke="rgb(72,72,72)" stroke-width="1.2" stroke-linecap="round" stroke-linejoin="round" class="l"/>
<polyline points="608.92,32.2 608.82,11.28" fill="none" stroke="rgb(89,89,89)" stroke-width="1.2" stroke-linecap="round" stroke-linejoin="round" class="l"/>
<polyline points="610.72,32.2 610.86,13.21" fill="none" stroke="rgb(99,99,99)" stroke-width="1.2" stroke-linecap="round" stroke-linejoin="round" class="l"/>
<polyline points="612.44,32.2 612.14,15.55" fill="none" stroke="rgb(72,72,72)" stroke-width="1.2" stroke-linecap="round" stroke-linejoin="round" class="l"/>
<polyline points="613.82,32.2 613.93,20.18" fill="none" stroke="rgb(93,93,93)" stroke-width="1.2" stroke-linecap="round" stroke-linejoin="round" class="l"/>
<polyline points="614.35,32.2 614.66,9.67" fill="none" stroke="rgb(66,66,66)" stroke-width="1.2" stroke-linecap="round" stroke-linejoin="round" class="l"/>
<polyline points="617.12,32.2 617.32,19.35" fill="none" stroke="rgb(97,97,97)" stroke-width="1.2" stroke-linecap="round" stroke-linejoin="round" class="l"/>
<polyline points="617.57,32.2 617.92,11.62" fill="none" stroke="rgb(70,70,70)" stroke-width="1.2" stroke-linecap="round" stroke-linejoin="round" class="l"/>
<polyline points="620,32.2 619.85,6.34" fill="none" stroke="rgb(67,67,67)" stroke-width="1.2" stroke-linecap="round" stroke-linejoin="round" class="l"/>
<polyline points="621.46,32.2 621.79,12.67" fill="none" stroke="rgb(73,73,73)" stroke-width="1.2" stroke-linecap="round" stroke-linejoin="round" class="l"/>
<polyline points="623.37,32.2 623.51,17.9" fill="none" stroke="rgb(71,71,71)" stroke-width="1.2" stroke-linecap="round" stroke-linejoin="round" class="l"/>
<polyline points="624.24,32.2 624.15,11.73" fill="none" stroke="rgb(86,86,86)" stroke-width="1.2" stroke-linecap="round" stroke-linejoin="round" class="l"/>
<polyline points="625.2,32.2 625.4,20.73" fill="none" stroke="rgb(85,85,85)" stroke-width="1.2" stroke-linecap="round" stroke-linejoin="round" class="l"/>
<polyline points="627.39,32.2 627.71,10.35" fill="none" stroke="rgb(88,88,88)" stroke-width="1.2" stroke-linecap="round" stroke-linejoin="round" class="l"/>
<polyline points="629.3,32.2 628.93,17.55" fill="none" stroke="rgb(71,71,71)" stroke-width="1.2" stroke-linecap="round" stroke-linejoin="round" class="l"/>
<polyline points="629.9,32.2 630.12,8.34" fill="none" stroke="rgb(103,103,103)" stroke-width="1.2" stroke-linecap="round" stroke-linejoin="round" class="l"/>
<polygon points="627.96,32.56 633.98,22.26 636.56,11.42 637.42,6 655.48,6 658.92,16.84 665.8,29.49 666.66,32.56" fill="rgb(102,102,102)" class="l"/>
<polygon points="631.4,32.2 636.56,18.65 638.28,6 653.76,6 657.2,18.65 662.36,29.49 664.08,32.2" fill="rgb(153,153,153)" class="l"/>
<ellipse cx="650.38" cy="23.64" rx="1.49" ry="1.56" fill="rgb(195,195,195)" class="l"/>
<ellipse cx="652.21" cy="12.45" rx="2.12" ry="2.23" fill="rgb(188,188,188)" class="l"/>
<ellipse cx="646.26" cy="23.56" rx="1.43" ry="1.5" fill="rgb(209,209,209)" class="l"/>
<ellipse cx="638.78" cy="20.65" rx="1.87" ry="1.97" fill="rgb(211,211,211)" class="l"/>
<ellipse cx="642.45" cy="13.95" rx="2.04" ry="2.14" fill="rgb(184,184,184)" class="l"/>
<ellipse cx="653.53" cy="12.08" rx="1.56" ry="1.63" fill="rgb(192,192,192)" class="l"/>
<ellipse cx="656.39" cy="18.29" rx="1.3" ry="1.37" fill="rgb(189,189,189)" class="l"/>
<ellipse cx="654.31" cy="13.7" rx="2.04" ry="2.14" fill="rgb(221,221,221)" class="l"/>
<ellipse cx="648.43" cy="7.36" rx="1.59" ry="1.67" fill="rgb(212,212,212)" class="l"/>
<ellipse cx="653.97" cy="13.45" rx="2.09" ry="2.2" fill="rgb(213,213,213)" class="l"/>
<ellipse cx="651.61" cy="23.28" rx="1.44" ry="1.51" fill="rgb(198,198,198)" class="l"/>
<ellipse cx="639.79" cy="20.07" rx="1.31" ry="1.37" fill="rgb(198,198,198)" class="l"/>
<ellipse cx="650.31" cy="17.8" rx="1.59" ry="1.67" fill="rgb(194,194,194)" class="l"/>
<ellipse cx="643.33" cy="7.99" rx="1.87" ry="1.97" fill="rgb(215,215,215)" class="l"/>
<ellipse cx="641.52" cy="11.55" rx="1.37" ry="1.44" fill="rgb(203,203,203)" class="l"/>
<ellipse cx="657" cy="13.08" rx="1.78" ry="1.87" fill="rgb(219,219,219)" class="l"/>
<ellipse cx="654.23" cy="10.75" rx="1.44" ry="1.51" fill="rgb(185,185,185)" class="l"/>
<ellipse cx="644.25" cy="19.47" rx="1.42" ry="1.49" fill="rgb(232,232,232)" class="l"/>
<ellipse cx="654.86" cy="18.67" rx="1.88" ry="1.98" fill="rgb(204,204,204)" class="l"/>
<ellipse cx="655.58" cy="16.19" rx="1.48" ry="1.55" fill="rgb(196,196,196)" class="l"/>
<ellipse cx="648.9" cy="19.56" rx="1.81" ry="1.9" fill="rgb(229,229,229)" class="l"/>
<ellipse cx="645.84" cy="20.3" rx="2.23" ry="2.35" fill="rgb(210,210,210)" class="l"/>
<polygon points="642.58,19.55 646.02,20.45 652.04,17.74 653.76,7.81 645.16,7.81" fill="rgb(204,204,204)" class="l"/>
<ellipse cx="648.32" cy="18.67" rx="1.74" ry="2.04" fill="rgb(219,219,219)" class="l"/>
<ellipse cx="653.02" cy="17.84" rx="1.79" ry="2.09" fill="rgb(212,212,212)" class="l"/>
<ellipse cx="653.35" cy="8.62" rx="1.18" ry="1.38" fill="rgb(237,237,237)" class="l"/>
<ellipse cx="644.35" cy="13.52" rx="1.87" ry="2.19" fill="rgb(212,212,212)" class="l"/>
<ellipse cx="644.33" cy="19.46" rx="1.14" ry="1.33" fill="rgb(229,229,229)" class="l"/>
<ellipse cx="643.68" cy="18.71" rx="1.73" ry="2.02" fill="rgb(219,219,219)" class="l"/>
<ellipse cx="645.8" cy="15.88" rx="1.87" ry="2.18" fill="rgb(218,218,218)" class="l"/>
<ellipse cx="649.52" cy="7.77" rx="1.61" ry="1.88" fill="rgb(218,218,218)" class="l"/>
<ellipse cx="643.38" cy="11.61" rx="1.25" ry="1.46" fill="rgb(224,224,224)" class="l"/>
<ellipse cx="651.53" cy="9.85" rx="1.34" ry="1.57" fill="rgb(223,223,223)" class="l"/>
<polygon points="668.38,32.56 670.1,15.03 670.96,6 683,6 683,32.56" fill="rgb(18,18,18)"/>
<polyline points="669.29,31.29 669.26,10.99" fill="none" stroke="rgb(63,63,63)" stroke-width="1.2" stroke-linecap="round" stroke-linejoin="round" class="l"/>
<polyline points="671.54,31.29 671.54,9.4" fill="none" stroke="rgb(75,75,75)" stroke-width="1.2" stroke-linecap="round" stroke-linejoin="round" class="l"/>
<polyline points="672.02,31.29 672.32,15.33" fill="none" stroke="rgb(72,72,72)" stroke-width="1.2" stroke-linecap="round" stroke-linejoin="round" class="l"/>
<polyline points="674.12,31.29 673.84,10.02" fill="none" stroke="rgb(74,74,74)" stroke-width="1.2" stroke-linecap="round" stroke-linejoin="round" class="l"/>
<polyline points="675.91,31.29 675.57,8.96" fill="none" stroke="rgb(72,72,72)" stroke-width="1.2" stroke-linecap="round" stroke-linejoin="round" class="l"/>
<polyline points="676.83,31.29 676.91,14.29" fill="none" stroke="rgb(87,87,87)" stroke-width="1.2" stroke-linecap="round" stroke-linejoin="round" class="l"/>
<polyline points="678.19,31.29 677.81,12.98" fill="none" stroke="rgb(72,72,72)" stroke-width="1.2" stroke-linecap="round" stroke-linejoin="round" class="l"/>
<polyline points="678.96,31.29 678.78,6.96" fill="none" stroke="rgb(89,89,89)" stroke-width="1.2" stroke-linecap="round" stroke-linejoin="round" class="l"/>
<polyline points="681.47,31.29 681.78,13.85" fill="none" stroke="rgb(61,61,61)" stroke-width="1.2" stroke-linecap="round" stroke-linejoin="round" class="l"/>
<polyline points="682.43,31.29 682.08,7.11" fill="none" stroke="rgb(83,83,83)" stroke-width="1.2" stroke-linecap="round" stroke-linejoin="round" class="l"/>
<polygon points="606.46,33.64 640,33.64 638.28,40.33 630.54,60.2 609.9,60.2 607.32,43.94" fill="rgb(97,97,97)" class="l"/>
<polygon points="609.04,34.55 638.28,34.55 631.4,43.94 624.52,56.59 619.36,60.2 613.34,60.2 609.9,43.94" fill="rgb(153,153,153)" class="l"/>
<ellipse cx="618.68" cy="48.46" rx="1.88" ry="1.98" fill="rgb(142,142,142)" class="l"/>
<ellipse cx="614.74" cy="37.34" rx="1.19" ry="1.25" fill="rgb(133,133,133)" class="l"/>
<ellipse cx="613.27" cy="47.85" rx="2" ry="2.1" fill="rgb(168,168,168)" class="l"/>
<ellipse cx="618.04" cy="45.49" rx="1.73" ry="1.81" fill="rgb(149,149,149)" class="l"/>
<ellipse cx="611.48" cy="54.96" rx="1.66" ry="1.74" fill="rgb(138,138,138)" class="l"/>
<ellipse cx="611.41" cy="38.76" rx="1.97" ry="2.07" fill="rgb(138,138,138)" class="l"/>
<ellipse cx="623.34" cy="57.73" rx="1.12" ry="1.17" fill="rgb(152,152,152)" class="l"/>
<ellipse cx="620.16" cy="56.59" rx="1.26" ry="1.32" fill="rgb(146,146,146)" class="l"/>
<ellipse cx="615.23" cy="37.78" rx="1.71" ry="1.8" fill="rgb(174,174,174)" class="l"/>
<ellipse cx="619.28" cy="37.53" rx="1.75" ry="1.83" fill="rgb(170,170,170)" class="l"/>
<polyline points="614.2,52.97 619.36,50.26 624.52,46.65 629.68,41.23 633.98,37.62 637.42,33.1 640,25.87 641.72,20.45 645.16,14.13 648.6,11.42 652.04,9.61" fill="none" stroke="rgb(97,97,97)" stroke-width="15" stroke-linecap="round" stroke-linejoin="round" class="l"/>
<polyline points="614.2,52.97 619.36,50.26 624.52,46.65 629.68,41.23 633.98,37.62 637.42,33.1 640,25.87 641.72,20.45 645.16,14.13 648.6,11.42 652.04,9.61" fill="none" stroke="rgb(153,153,153)" stroke-width="9" stroke-linecap="round" stroke-linejoin="round" class="l"/>
<polyline points="614.2,52.97 619.36,50.26 624.52,46.65 629.68,41.23 633.98,37.62 637.42,33.1 640,25.87 641.72,20.45 645.16,14.13 648.6,11.42 652.04,9.61" fill="none" stroke="rgb(199,199,199)" stroke-width="3.2" stroke-linecap="round" stroke-linejoin="round" class="l"/>
<ellipse cx="614.51" cy="53.53" rx="1.62" ry="2.05" fill="rgb(197,197,197)" class="l"/>
<ellipse cx="616.31" cy="52.37" rx="1.61" ry="2.02" fill="rgb(224,224,224)" class="l"/>
<ellipse cx="619.21" cy="51.07" rx="1.9" ry="2.39" fill="rgb(224,224,224)" class="l"/>
<ellipse cx="621.96" cy="48.4" rx="1.46" ry="1.85" fill="rgb(210,210,210)" class="l"/>
<ellipse cx="624.82" cy="47.41" rx="1.57" ry="1.98" fill="rgb(225,225,225)" class="l"/>
<ellipse cx="625.84" cy="45.38" rx="1.87" ry="2.36" fill="rgb(207,207,207)" class="l"/>
<ellipse cx="628.25" cy="42.85" rx="1.82" ry="2.29" fill="rgb(229,229,229)" class="l"/>
<ellipse cx="630.38" cy="40.75" rx="1.78" ry="2.24" fill="rgb(196,196,196)" class="l"/>
<ellipse cx="632.78" cy="39.36" rx="1.8" ry="2.26" fill="rgb(194,194,194)" class="l"/>
<ellipse cx="634.04" cy="38.07" rx="1.67" ry="2.1" fill="rgb(228,228,228)" class="l"/>
<ellipse cx="635.18" cy="36.67" rx="1.65" ry="2.08" fill="rgb(230,230,230)" class="l"/>
<ellipse cx="636.63" cy="32.67" rx="1.82" ry="2.29" fill="rgb(215,215,215)" class="l"/>
<ellipse cx="637.83" cy="31.73" rx="1.79" ry="2.26" fill="rgb(196,196,196)" class="l"/>
<ellipse cx="638.78" cy="27.56" rx="1.77" ry="2.23" fill="rgb(209,209,209)" class="l"/>
<ellipse cx="639.85" cy="26.36" rx="2" ry="2.53" fill="rgb(220,220,220)" class="l"/>
<ellipse cx="641.09" cy="23.17" rx="1.51" ry="1.9" fill="rgb(195,195,195)" class="l"/>
<ellipse cx="642.43" cy="20.72" rx="1.79" ry="2.25" fill="rgb(226,226,226)" class="l"/>
<ellipse cx="642.61" cy="18.36" rx="1.66" ry="2.09" fill="rgb(218,218,218)" class="l"/>
<ellipse cx="644.25" cy="15.86" rx="1.69" ry="2.13" fill="rgb(228,228,228)" class="l"/>
<ellipse cx="646.14" cy="13.93" rx="1.66" ry="2.09" fill="rgb(209,209,209)" class="l"/>
<ellipse cx="648.68" cy="12.52" rx="1.77" ry="2.24" fill="rgb(228,228,228)" class="l"/>
<ellipse cx="650.11" cy="10.67" rx="1.95" ry="2.46" fill="rgb(203,203,203)" class="l"/>
<polygon points="638.28,34 662.36,34 662.36,60.2 638.28,60.2" fill="rgb(18,18,18)"/>
<polyline points="639.62,34 639.93,49.98" fill="none" stroke="rgb(80,80,80)" stroke-width="1.2" stroke-linecap="round" stroke-linejoin="round" class="l"/>
<polyline points="640.13,34 640.51,51.95" fill="none" stroke="rgb(80,80,80)" stroke-width="1.2" stroke-linecap="round" stroke-linejoin="round" class="l"/>
<polyline points="641.34,34 641.62,44.35" fill="none" stroke="rgb(70,70,70)" stroke-width="1.2" stroke-linecap="round" stroke-linejoin="round" class="l"/>
<polyline points="644.06,34 644.09,45.48" fill="none" stroke="rgb(93,93,93)" stroke-width="1.2" stroke-linecap="round" stroke-linejoin="round" class="l"/>
<polyline points="645.76,34 646.16,59.09" fill="none" stroke="rgb(61,61,61)" stroke-width="1.2" stroke-linecap="round" stroke-linejoin="round" class="l"/>
<polyline points="646.53,34 646.16,45.83" fill="none" stroke="rgb(75,75,75)" stroke-width="1.2" stroke-linecap="round" stroke-linejoin="round" class="l"/>
<polyline points="648.44,34 648.2,52.44" fill="none" stroke="rgb(62,62,62)" stroke-width="1.2" stroke-linecap="round" stroke-linejoin="round" class="l"/>
<polyline points="649.58,34 649.24,56.43" fill="none" stroke="rgb(68,68,68)" stroke-width="1.2" stroke-linecap="round" stroke-linejoin="round" class="l"/>
<polyline points="650.85,34 651.17,44.35" fill="none" stroke="rgb(70,70,70)" stroke-width="1.2" stroke-linecap="round" stroke-linejoin="round" class="l"/>
<polyline points="652.1,34 651.85,48.31" fill="none" stroke="rgb(87,87,87)" stroke-width="1.2" stroke-linecap="round" stroke-linejoin="round" class="l"/>
<polyline points="653.5,34 653.68,47.4" fill="none" stroke="rgb(81,81,81)" stroke-width="1.2" stroke-linecap="round" stroke-linejoin="round" class="l"/>
<polyline points="655.85,34 655.52,44.27" fill="none" stroke="rgb(68,68,68)" stroke-width="1.2" stroke-linecap="round" stroke-linejoin="round" class="l"/>
<polyline points="657.18,34 657.24,49.4" fill="none" stroke="rgb(86,86,86)" stroke-width="1.2" stroke-linecap="round" stroke-linejoin="round" class="l"/>
<polyline points="658.72,34 658.35,46.09" fill="none" stroke="rgb(78,78,78)" stroke-width="1.2" stroke-linecap="round" stroke-linejoin="round" class="l"/>
<polyline points="659.5,34 659.07,57.79" fill="none" stroke="rgb(64,64,64)" stroke-width="1.2" stroke-linecap="round" stroke-linejoin="round" class="l"/>
<polyline points="661.93,34 662,46.33" fill="none" stroke="rgb(69,69,69)" stroke-width="1.2" stroke-linecap="round" stroke-linejoin="round" class="l"/>
<ellipse cx="641.72" cy="37.62" rx="2.58" ry="3.61" fill="rgb(140,140,140)" class="l"/>
<polygon points="660.64,33.64 683,33.64 683,60.2 667.52,60.2 662.36,45.75" fill="rgb(97,97,97)" class="l"/>
<polygon points="663.22,34.55 683,34.55 683,58.39 676.12,58.39 665.8,43.94" fill="rgb(153,153,153)" class="l"/>
<polyline points="662.36,41.23 667.52,43.94 672.68,47.55 676.98,51.17 682.14,52.97" fill="none" stroke="rgb(97,97,97)" stroke-width="15" stroke-linecap="round" stroke-linejoin="round" class="l"/>
<polyline points="662.36,41.23 667.52,43.94 672.68,47.55 676.98,51.17 682.14,52.97" fill="none" stroke="rgb(153,153,153)" stroke-width="9" stroke-linecap="round" stroke-linejoin="round" class="l"/>
<polyline points="662.36,41.23 667.52,43.94 672.68,47.55 676.98,51.17 682.14,52.97" fill="none" stroke="rgb(199,199,199)" stroke-width="3.2" stroke-linecap="round" stroke-linejoin="round" class="l"/>
<ellipse cx="662.63" cy="41.5" rx="1.63" ry="2.05" fill="rgb(215,215,215)" class="l"/>
<ellipse cx="664.19" cy="42.66" rx="1.43" ry="1.81" fill="rgb(198,198,198)" class="l"/>
<ellipse cx="667.38" cy="43.56" rx="1.75" ry="2.2" fill="rgb(231,231,231)" class="l"/>
<ellipse cx="669.4" cy="45.66" rx="1.73" ry="2.19" fill="rgb(208,208,208)" class="l"/>
<ellipse cx="670.62" cy="46.78" rx="1.83" ry="2.31" fill="rgb(218,218,218)" class="l"/>
<ellipse cx="673.14" cy="48.09" rx="1.93" ry="2.43" fill="rgb(231,231,231)" class="l"/>
<ellipse cx="673.86" cy="48.98" rx="1.65" ry="2.08" fill="rgb(216,216,216)" class="l"/>
<ellipse cx="676.27" cy="49.73" rx="1.98" ry="2.49" fill="rgb(228,228,228)" class="l"/>
<ellipse cx="678.34" cy="51.05" rx="1.78" ry="2.25" fill="rgb(221,221,221)" class="l"/>
<ellipse cx="680.64" cy="52.77" rx="1.75" ry="2.21" fill="rgb(204,204,204)" class="l"/>
<polyline points="606.46,34.18 683,34.18" fill="none" stroke="rgb(107,107,107)" stroke-width="2.5" stroke-linecap="round" stroke-linejoin="round" class="l"/>
<polyline points="601.3,32.65 683,32.65" fill="none" stroke="rgb(13,13,13)" stroke-width="1" stroke-linecap="round" stroke-linejoin="round" stroke-opacity="0.8"/>
<ellipse cx="597.17" cy="32.56" rx="0.86" ry="1.81" fill="rgb(64,64,64)" class="l"/>
</g></g>
<rect x="597" y="6" width="86" height="54.2" fill="none" stroke="#000" stroke-opacity="0.45" stroke-width="0.5"/>
<g class="b">
<text class="tk" x="595.5" y="17.13" text-anchor="end">100</text>
<text class="tk" x="595.5" y="35.2" text-anchor="end">0</text>
<text class="tk" x="595.5" y="53.27" text-anchor="end">-100</text>
<text class="tk" x="597" y="66.9" text-anchor="middle">0</text>
<text class="tk" x="614.2" y="66.9" text-anchor="middle">2</text>
<text class="tk" x="631.4" y="66.9" text-anchor="middle">4</text>
<text class="tk" x="648.6" y="66.9" text-anchor="middle">6</text>
<text class="tk" x="665.8" y="66.9" text-anchor="middle">8</text>
<text class="tk" x="683" y="66.9" text-anchor="middle">10</text>
<text class="lb" x="640" y="73.7" text-anchor="middle">Time[s]</text>
<text class="lb" x="0" y="0" text-anchor="middle" transform="translate(583.8,33.1) rotate(-90)">Doppler [Hz]</text>
<text class="tt" x="640" y="4.2" text-anchor="middle">Room 3</text>
</g>
<g clip-path="url(#cb10)"><g filter="url(#jb10)">
<rect x="365" y="77.3" width="98" height="66.2" fill="rgb(5,5,5)"/>
<polygon points="379.6,109.86 383.9,101.37 389.92,90.53 395.08,90.53 401.1,99.56 403.68,109.86" fill="rgb(18,18,18)"/>
<polyline points="380.29,109.5 380.25,91.43" fill="none" stroke="rgb(61,61,61)" stroke-width="1.2" stroke-linecap="round" stroke-linejoin="round" class="l"/>
<polyline points="381.73,109.5 382.13,93.2" fill="none" stroke="rgb(54,54,54)" stroke-width="1.2" stroke-linecap="round" stroke-linejoin="round" class="l"/>
<polyline points="383.46,109.5 383.41,89.24" fill="none" stroke="rgb(49,49,49)" stroke-width="1.2" stroke-linecap="round" stroke-linejoin="round" class="l"/>
<polyline points="385.71,109.5 385.55,89.39" fill="none" stroke="rgb(72,72,72)" stroke-width="1.2" stroke-linecap="round" stroke-linejoin="round" class="l"/>
<polyline points="387.57,109.5 387.84,90.64" fill="none" stroke="rgb(51,51,51)" stroke-width="1.2" stroke-linecap="round" stroke-linejoin="round" class="l"/>
<polyline points="389.6,109.5 389.8,89.2" fill="none" stroke="rgb(53,53,53)" stroke-width="1.2" stroke-linecap="round" stroke-linejoin="round" class="l"/>
<polyline points="390.71,109.5 390.29,89.32" fill="none" stroke="rgb(69,69,69)" stroke-width="1.2" stroke-linecap="round" stroke-linejoin="round" class="l"/>
<polyline points="393.26,109.5 393.66,91.1" fill="none" stroke="rgb(55,55,55)" stroke-width="1.2" stroke-linecap="round" stroke-linejoin="round" class="l"/>
<polyline points="393.64,109.5 393.23,89.52" fill="none" stroke="rgb(64,64,64)" stroke-width="1.2" stroke-linecap="round" stroke-linejoin="round" class="l"/>
<polyline points="396.47,109.5 396.19,97.95" fill="none" stroke="rgb(48,48,48)" stroke-width="1.2" stroke-linecap="round" stroke-linejoin="round" class="l"/>
<polyline points="396.95,109.5 397.31,96.13" fill="none" stroke="rgb(55,55,55)" stroke-width="1.2" stroke-linecap="round" stroke-linejoin="round" class="l"/>
<polyline points="399.18,109.5 399.36,100.78" fill="none" stroke="rgb(46,46,46)" stroke-width="1.2" stroke-linecap="round" stroke-linejoin="round" class="l"/>
<polyline points="400.43,109.5 400.48,89.29" fill="none" stroke="rgb(69,69,69)" stroke-width="1.2" stroke-linecap="round" stroke-linejoin="round" class="l"/>
<polyline points="402.94,109.5 402.78,98.44" fill="none" stroke="rgb(74,74,74)" stroke-width="1.2" stroke-linecap="round" stroke-linejoin="round" class="l"/>
<ellipse cx="392.93" cy="93.24" rx="2.15" ry="4.52" fill="rgb(97,97,97)" class="l"/>
<polygon points="401.1,109.86 403.68,95.95 404.54,83.3 423.46,83.3 426.04,95.95 430.34,109.86" fill="rgb(102,102,102)" class="l"/>
<polygon points="403.68,109.5 406.26,94.14 407.12,83.3 421.74,83.3 423.46,95.95 426.9,109.5" fill="rgb(153,153,153)" class="l"/>
<ellipse cx="422" cy="95.1" rx="1.78" ry="1.86" fill="rgb(193,193,193)" class="l"/>
<ellipse cx="408.65" cy="105.97" rx="1.61" ry="1.7" fill="rgb(194,194,194)" class="l"/>
<ellipse cx="418.73" cy="99.42" rx="2.2" ry="2.32" fill="rgb(174,174,174)" class="l"/>
<ellipse cx="416.7" cy="106.16" rx="1.43" ry="1.5" fill="rgb(175,175,175)" class="l"/>
<ellipse cx="422.22" cy="92.07" rx="1.78" ry="1.87" fill="rgb(212,212,212)" class="l"/>
<ellipse cx="421.78" cy="98.61" rx="2.09" ry="2.2" fill="rgb(183,183,183)" class="l"/>
<ellipse cx="417.51" cy="88.83" rx="1.59" ry="1.67" fill="rgb(202,202,202)" class="l"/>
<ellipse cx="417.95" cy="104.87" rx="1.99" ry="2.09" fill="rgb(178,178,178)" class="l"/>
<ellipse cx="410.38" cy="101.56" rx="1.5" ry="1.57" fill="rgb(216,216,216)" class="l"/>
<ellipse cx="412.85" cy="88.22" rx="1.35" ry="1.41" fill="rgb(181,181,181)" class="l"/>
<ellipse cx="405.6" cy="96.53" rx="2.18" ry="2.29" fill="rgb(195,195,195)" class="l"/>
<ellipse cx="417.77" cy="103.24" rx="1.27" ry="1.33" fill="rgb(180,180,180)" class="l"/>
<ellipse cx="421.79" cy="91.67" rx="2.16" ry="2.27" fill="rgb(208,208,208)" class="l"/>
<ellipse cx="409.89" cy="102.64" rx="1.84" ry="1.93" fill="rgb(176,176,176)" class="l"/>
<ellipse cx="413.73" cy="95.12" rx="1.46" ry="1.54" fill="rgb(218,218,218)" class="l"/>
<ellipse cx="406.4" cy="86.75" rx="1.25" ry="1.31" fill="rgb(218,218,218)" class="l"/>
<ellipse cx="412.46" cy="103.5" rx="1.85" ry="1.94" fill="rgb(204,204,204)" class="l"/>
<ellipse cx="412.22" cy="96.46" rx="1.89" ry="1.99" fill="rgb(182,182,182)" class="l"/>
<polygon points="431.2,109.86 435.5,99.56 439.8,88.72 452.7,86.91 457,94.14 457,109.86" fill="rgb(18,18,18)"/>
<polyline points="432.97,109.5 433.4,87.37" fill="none" stroke="rgb(52,52,52)" stroke-width="1.2" stroke-linecap="round" stroke-linejoin="round" class="l"/>
<polyline points="436.27,109.5 436.18,97.8" fill="none" stroke="rgb(62,62,62)" stroke-width="1.2" stroke-linecap="round" stroke-linejoin="round" class="l"/>
<polyline points="437.06,109.5 436.86,90" fill="none" stroke="rgb(71,71,71)" stroke-width="1.2" stroke-linecap="round" stroke-linejoin="round" class="l"/>
<polyline points="439.02,109.5 438.69,91.52" fill="none" stroke="rgb(64,64,64)" stroke-width="1.2" stroke-linecap="round" stroke-linejoin="round" class="l"/>
<polyline points="440.47,109.5 440.75,94.36" fill="none" stroke="rgb(74,74,74)" stroke-width="1.2" stroke-linecap="round" stroke-linejoin="round" class="l"/>
<polyline points="442.68,109.5 442.45,97.48" fill="none" stroke="rgb(75,75,75)" stroke-width="1.2" stroke-linecap="round" stroke-linejoin="round" class="l"/>
<polyline points="443.82,109.5 444.08,99.29" fill="none" stroke="rgb(64,64,64)" stroke-width="1.2" stroke-linecap="round" stroke-linejoin="round" class="l"/>
<polyline points="446.17,109.5 446.3,89.45" fill="none" stroke="rgb(67,67,67)" stroke-width="1.2" stroke-linecap="round" stroke-linejoin="round" class="l"/>
<polyline points="447.11,109.5 447.31,87.52" fill="none" stroke="rgb(76,76,76)" stroke-width="1.2" stroke-linecap="round" stroke-linejoin="round" class="l"/>
<polyline points="450.11,109.5 450.34,88.62" fill="none" stroke="rgb(73,73,73)" stroke-width="1.2" stroke-linecap="round" stroke-linejoin="round" class="l"/>
<polyline points="451.52,109.5 451.81,91.45" fill="none" stroke="rgb(50,50,50)" stroke-width="1.2" stroke-linecap="round" stroke-linejoin="round" class="l"/>
<polyline points="452.45,109.5 452.44,92.14" fill="none" stroke="rgb(73,73,73)" stroke-width="1.2" stroke-linecap="round" stroke-linejoin="round" class="l"/>
<polyline points="454.03,109.5 454.32,93.47" fill="none" stroke="rgb(73,73,73)" stroke-width="1.2" stroke-linecap="round" stroke-linejoin="round" class="l"/>
<polyline points="456.99,109.5 456.98,88.27" fill="none" stroke="rgb(71,71,71)" stroke-width="1.2" stroke-linecap="round" stroke-linejoin="round" class="l"/>
<ellipse cx="444.53" cy="93.24" rx="2.15" ry="4.52" fill="rgb(97,97,97)" class="l"/>
<polygon points="378.74,110.94 408.84,110.94 405.4,121.24 398.52,137.5 383.9,137.5 380.46,121.24" fill="rgb(97,97,97)" class="l"/>
<polygon points="384.76,117.63 389.92,112.21 407.12,112.21 401.96,123.05 395.94,135.69 387.34,137.5" fill="rgb(153,153,153)" class="l"/>
<polyline points="387.34,132.98 390.78,130.27 395.08,127.56 398.52,123.05 401.96,119.43 405.83,114.92" fill="none" stroke="rgb(97,97,97)" stroke-width="15" stroke-linecap="round" stroke-linejoin="round" class="l"/>
<polyline points="387.34,132.98 390.78,130.27 395.08,127.56 398.52,123.05 401.96,119.43 405.83,114.92" fill="none" stroke="rgb(153,153,153)" stroke-width="9" stroke-linecap="round" stroke-linejoin="round" class="l"/>
<polyline points="387.34,132.98 390.78,130.27 395.08,127.56 398.52,123.05 401.96,119.43 405.83,114.92" fill="none" stroke="rgb(199,199,199)" stroke-width="3.2" stroke-linecap="round" stroke-linejoin="round" class="l"/>
<ellipse cx="387.34" cy="132.3" rx="1.69" ry="2.13" fill="rgb(203,203,203)" class="l"/>
<ellipse cx="389.02" cy="131.3" rx="1.56" ry="1.96" fill="rgb(225,225,225)" class="l"/>
<ellipse cx="390.01" cy="129.91" rx="1.47" ry="1.85" fill="rgb(210,210,210)" class="l"/>
<ellipse cx="391.78" cy="129.43" rx="1.99" ry="2.51" fill="rgb(232,232,232)" class="l"/>
<ellipse cx="393.98" cy="128.56" rx="1.48" ry="1.87" fill="rgb(205,205,205)" class="l"/>
<ellipse cx="395.02" cy="126.59" rx="1.9" ry="2.4" fill="rgb(198,198,198)" class="l"/>
<ellipse cx="396.15" cy="126.19" rx="1.94" ry="2.45" fill="rgb(197,197,197)" class="l"/>
<ellipse cx="398.19" cy="125.04" rx="1.6" ry="2.01" fill="rgb(226,226,226)" class="l"/>
<ellipse cx="398.21" cy="123.67" rx="1.95" ry="2.46" fill="rgb(227,227,227)" class="l"/>
<ellipse cx="399.82" cy="122.03" rx="1.96" ry="2.47" fill="rgb(203,203,203)" class="l"/>
<ellipse cx="400.48" cy="119.82" rx="1.69" ry="2.13" fill="rgb(201,201,201)" class="l"/>
<ellipse cx="402.15" cy="119.94" rx="1.42" ry="1.79" fill="rgb(213,213,213)" class="l"/>
<ellipse cx="403.8" cy="116.62" rx="1.45" ry="1.82" fill="rgb(197,197,197)" class="l"/>
<ellipse cx="404.83" cy="115.99" rx="1.56" ry="1.96" fill="rgb(217,217,217)" class="l"/>
<polygon points="407.98,111.3 431.2,111.3 431.2,137.5 407.98,137.5" fill="rgb(18,18,18)"/>
<polyline points="408.24,111.3 408.06,130.12" fill="none" stroke="rgb(54,54,54)" stroke-width="1.2" stroke-linecap="round" stroke-linejoin="round" class="l"/>
<polyline points="409.68,111.3 409.41,133.68" fill="none" stroke="rgb(54,54,54)" stroke-width="1.2" stroke-linecap="round" stroke-linejoin="round" class="l"/>
<polyline points="411.71,111.3 411.98,132.27" fill="none" stroke="rgb(56,56,56)" stroke-width="1.2" stroke-linecap="round" stroke-linejoin="round" class="l"/>
<polyline points="413.72,111.3 413.71,132.1" fill="none" stroke="rgb(63,63,63)" stroke-width="1.2" stroke-linecap="round" stroke-linejoin="round" class="l"/>
<polyline points="414.16,111.3 413.86,136.21" fill="none" stroke="rgb(45,45,45)" stroke-width="1.2" stroke-linecap="round" stroke-linejoin="round" class="l"/>
<polyline points="415.43,111.3 415.3,129.65" fill="none" stroke="rgb(61,61,61)" stroke-width="1.2" stroke-linecap="round" stroke-linejoin="round" class="l"/>
<polyline points="418.07,111.3 418.07,135.51" fill="none" stroke="rgb(45,45,45)" stroke-width="1.2" stroke-linecap="round" stroke-linejoin="round" class="l"/>
<polyline points="419,111.3 418.62,131.61" fill="none" stroke="rgb(56,56,56)" stroke-width="1.2" stroke-linecap="round" stroke-linejoin="round" class="l"/>
<polyline points="420.6,111.3 420.63,123.27" fill="none" stroke="rgb(51,51,51)" stroke-width="1.2" stroke-linecap="round" stroke-linejoin="round" class="l"/>
<polyline points="421.2,111.3 420.97,131.37" fill="none" stroke="rgb(53,53,53)" stroke-width="1.2" stroke-linecap="round" stroke-linejoin="round" class="l"/>
<polyline points="423.59,111.3 423.23,122.89" fill="none" stroke="rgb(62,62,62)" stroke-width="1.2" stroke-linecap="round" stroke-linejoin="round" class="l"/>
<polyline points="425.12,111.3 424.92,129.68" fill="none" stroke="rgb(42,42,42)" stroke-width="1.2" stroke-linecap="round" stroke-linejoin="round" class="l"/>
<polyline points="426.8,111.3 426.98,131.93" fill="none" stroke="rgb(53,53,53)" stroke-width="1.2" stroke-linecap="round" stroke-linejoin="round" class="l"/>
<polyline points="427.08,111.3 426.91,129.5" fill="none" stroke="rgb(61,61,61)" stroke-width="1.2" stroke-linecap="round" stroke-linejoin="round" class="l"/>
<polyline points="428.94,111.3 428.77,137.48" fill="none" stroke="rgb(61,61,61)" stroke-width="1.2" stroke-linecap="round" stroke-linejoin="round" class="l"/>
<polyline points="431.11,111.3 431.4,120.61" fill="none" stroke="rgb(52,52,52)" stroke-width="1.2" stroke-linecap="round" stroke-linejoin="round" class="l"/>
<polygon points="430.34,110.94 457,110.94 457,137.5 433.78,137.5" fill="rgb(97,97,97)" class="l"/>
<polygon points="432.92,112.21 457,112.21 457,137.5 436.36,137.5" fill="rgb(153,153,153)" class="l"/>
<polyline points="436.36,132.98 441.52,131.18 445.82,127.56 450.12,123.05 453.56,118.53 457,114.92" fill="none" stroke="rgb(97,97,97)" stroke-width="15" stroke-linecap="round" stroke-linejoin="round" class="l"/>
<polyline points="436.36,132.98 441.52,131.18 445.82,127.56 450.12,123.05 453.56,118.53 457,114.92" fill="none" stroke="rgb(153,153,153)" stroke-width="9" stroke-linecap="round" stroke-linejoin="round" class="l"/>
<polyline points="436.36,132.98 441.52,131.18 445.82,127.56 450.12,123.05 453.56,118.53 457,114.92" fill="none" stroke="rgb(199,199,199)" stroke-width="3.2" stroke-linecap="round" stroke-linejoin="round" class="l"/>
<ellipse cx="436.8" cy="133.38" rx="1.88" ry="2.37" fill="rgb(202,202,202)" class="l"/>
<ellipse cx="438.76" cy="131.78" rx="1.89" ry="2.38" fill="rgb(195,195,195)" class="l"/>
<ellipse cx="440.4" cy="130.66" rx="1.46" ry="1.84" fill="rgb(229,229,229)" class="l"/>
<ellipse cx="442.49" cy="130.2" rx="2.01" ry="2.53" fill="rgb(211,211,211)" class="l"/>
<ellipse cx="443.55" cy="129.37" rx="1.78" ry="2.25" fill="rgb(219,219,219)" class="l"/>
<ellipse cx="445.96" cy="128.12" rx="1.62" ry="2.04" fill="rgb(210,210,210)" class="l"/>
<ellipse cx="447.12" cy="126.09" rx="1.74" ry="2.2" fill="rgb(215,215,215)" class="l"/>
<ellipse cx="448.29" cy="125.43" rx="1.54" ry="1.94" fill="rgb(227,227,227)" class="l"/>
<ellipse cx="448.97" cy="123.61" rx="1.54" ry="1.94" fill="rgb(195,195,195)" class="l"/>
<ellipse cx="450.79" cy="121.7" rx="1.52" ry="1.91" fill="rgb(210,210,210)" class="l"/>
<ellipse cx="451.74" cy="119.64" rx="1.73" ry="2.18" fill="rgb(221,221,221)" class="l"/>
<ellipse cx="453.01" cy="119.79" rx="1.51" ry="1.9" fill="rgb(214,214,214)" class="l"/>
<ellipse cx="454.28" cy="116.98" rx="1.73" ry="2.18" fill="rgb(218,218,218)" class="l"/>
<ellipse cx="455.9" cy="116.98" rx="1.55" ry="1.95" fill="rgb(205,205,205)" class="l"/>
<polyline points="378.74,111.48 457,111.48" fill="none" stroke="rgb(117,117,117)" stroke-width="3" stroke-linecap="round" stroke-linejoin="round" class="l"/>
<polyline points="375.3,109.95 457,109.95" fill="none" stroke="rgb(13,13,13)" stroke-width="1" stroke-linecap="round" stroke-linejoin="round" stroke-opacity="0.8"/>
</g></g>
<rect x="371" y="83.3" width="86" height="54.2" fill="none" stroke="#000" stroke-opacity="0.45" stroke-width="0.5"/>
<g class="b">
<text class="tk" x="369.5" y="94.43" text-anchor="end">100</text>
<text class="tk" x="369.5" y="112.5" text-anchor="end">0</text>
<text class="tk" x="369.5" y="130.57" text-anchor="end">-100</text>
<text class="tk" x="371" y="144.2" text-anchor="middle">0</text>
<text class="tk" x="388.2" y="144.2" text-anchor="middle">2</text>
<text class="tk" x="405.4" y="144.2" text-anchor="middle">4</text>
<text class="tk" x="422.6" y="144.2" text-anchor="middle">6</text>
<text class="tk" x="439.8" y="144.2" text-anchor="middle">8</text>
<text class="tk" x="457" y="144.2" text-anchor="middle">10</text>
<text class="lb" x="414" y="151" text-anchor="middle">Time[s]</text>
<text class="lb" x="0" y="0" text-anchor="middle" transform="translate(357.8,110.4) rotate(-90)">Doppler [Hz]</text>
<text class="tt" x="414" y="81.5" text-anchor="middle">Room 4</text>
</g>
<g clip-path="url(#cb11)"><g filter="url(#jb11)">
<rect x="478" y="77.3" width="98" height="66.2" fill="rgb(5,5,5)"/>
<polygon points="492.6,109.86 499.48,99.56 505.5,90.53 512.38,92.33 522.7,99.56 524.42,109.86" fill="rgb(18,18,18)"/>
<polyline points="494.23,109.5 494.18,99.69" fill="none" stroke="rgb(48,48,48)" stroke-width="1.2" stroke-linecap="round" stroke-linejoin="round" class="l"/>
<polyline points="496.52,109.5 496.55,100.95" fill="none" stroke="rgb(63,63,63)" stroke-width="1.2" stroke-linecap="round" stroke-linejoin="round" class="l"/>
<polyline points="497.03,109.5 497.24,98.89" fill="none" stroke="rgb(55,55,55)" stroke-width="1.2" stroke-linecap="round" stroke-linejoin="round" class="l"/>
<polyline points="499.79,109.5 499.61,93.85" fill="none" stroke="rgb(67,67,67)" stroke-width="1.2" stroke-linecap="round" stroke-linejoin="round" class="l"/>
<polyline points="502.25,109.5 502.04,95.78" fill="none" stroke="rgb(64,64,64)" stroke-width="1.2" stroke-linecap="round" stroke-linejoin="round" class="l"/>
<polyline points="503.16,109.5 503.52,91.56" fill="none" stroke="rgb(70,70,70)" stroke-width="1.2" stroke-linecap="round" stroke-linejoin="round" class="l"/>
<polyline points="505.05,109.5 505.47,101.36" fill="none" stroke="rgb(74,74,74)" stroke-width="1.2" stroke-linecap="round" stroke-linejoin="round" class="l"/>
<polyline points="508.09,109.5 507.74,96.3" fill="none" stroke="rgb(64,64,64)" stroke-width="1.2" stroke-linecap="round" stroke-linejoin="round" class="l"/>
<polyline points="508.93,109.5 508.88,93.12" fill="none" stroke="rgb(48,48,48)" stroke-width="1.2" stroke-linecap="round" stroke-linejoin="round" class="l"/>
<polyline points="511.95,109.5 511.6,95.36" fill="none" stroke="rgb(47,47,47)" stroke-width="1.2" stroke-linecap="round" stroke-linejoin="round" class="l"/>
<polyline points="513.64,109.5 513.61,100.43" fill="none" stroke="rgb(67,67,67)" stroke-width="1.2" stroke-linecap="round" stroke-linejoin="round" class="l"/>
<polyline points="515.71,109.5 516.07,99.32" fill="none" stroke="rgb(55,55,55)" stroke-width="1.2" stroke-linecap="round" stroke-linejoin="round" class="l"/>
<polyline points="518.26,109.5 518.09,92.01" fill="none" stroke="rgb(56,56,56)" stroke-width="1.2" stroke-linecap="round" stroke-linejoin="round" class="l"/>
<polyline points="520.04,109.5 520.36,93.21" fill="none" stroke="rgb(63,63,63)" stroke-width="1.2" stroke-linecap="round" stroke-linejoin="round" class="l"/>
<polyline points="520.67,109.5 520.73,96.58" fill="none" stroke="rgb(51,51,51)" stroke-width="1.2" stroke-linecap="round" stroke-linejoin="round" class="l"/>
<polyline points="522.58,109.5 522.62,99.04" fill="none" stroke="rgb(65,65,65)" stroke-width="1.2" stroke-linecap="round" stroke-linejoin="round" class="l"/>
<ellipse cx="508.51" cy="98.66" rx="3.01" ry="4.52" fill="rgb(102,102,102)" class="l"/>
<polygon points="491.74,110.94 528.72,110.94 527,117.63 520.12,128.47 512.38,135.69 508.08,137.5 495.18,137.5 492.6,121.24" fill="rgb(97,97,97)" class="l"/>
<polygon points="497.76,124.85 504.64,117.63 514.1,114.01 525.28,111.85 527,114.01 518.4,121.24 509.8,130.27 501.2,132.98" fill="rgb(153,153,153)" class="l"/>
<polyline points="500.34,128.47 504.64,126.66 509.8,123.95 514.1,121.24 518.4,118.53 522.7,115.82 527,113.11" fill="none" stroke="rgb(97,97,97)" stroke-width="15" stroke-linecap="round" stroke-linejoin="round" class="l"/>
<polyline points="500.34,128.47 504.64,126.66 509.8,123.95 514.1,121.24 518.4,118.53 522.7,115.82 527,113.11" fill="none" stroke="rgb(153,153,153)" stroke-width="9" stroke-linecap="round" stroke-linejoin="round" class="l"/>
<polyline points="500.34,128.47 504.64,126.66 509.8,123.95 514.1,121.24 518.4,118.53 522.7,115.82 527,113.11" fill="none" stroke="rgb(209,209,209)" stroke-width="4.5" stroke-linecap="round" stroke-linejoin="round" class="l"/>
<ellipse cx="501.15" cy="129.1" rx="1.66" ry="2.06" fill="rgb(244,244,244)" class="l"/>
<ellipse cx="502.57" cy="127.76" rx="2.2" ry="2.73" fill="rgb(232,232,232)" class="l"/>
<ellipse cx="503.66" cy="127.19" rx="2.13" ry="2.64" fill="rgb(245,245,245)" class="l"/>
<ellipse cx="505.77" cy="125.39" rx="1.73" ry="2.15" fill="rgb(237,237,237)" class="l"/>
<ellipse cx="507.12" cy="125.72" rx="2.17" ry="2.69" fill="rgb(214,214,214)" class="l"/>
<ellipse cx="508.59" cy="124.66" rx="1.86" ry="2.3" fill="rgb(212,212,212)" class="l"/>
<ellipse cx="511.97" cy="122.44" rx="2.02" ry="2.5" fill="rgb(211,211,211)" class="l"/>
<ellipse cx="513" cy="122.6" rx="2.12" ry="2.64" fill="rgb(212,212,212)" class="l"/>
<ellipse cx="514.4" cy="120.91" rx="2.17" ry="2.69" fill="rgb(213,213,213)" class="l"/>
<ellipse cx="514.41" cy="120.74" rx="1.9" ry="2.35" fill="rgb(229,229,229)" class="l"/>
<ellipse cx="514.61" cy="120.71" rx="1.56" ry="1.94" fill="rgb(242,242,242)" class="l"/>
<ellipse cx="513.46" cy="120.76" rx="2.17" ry="2.7" fill="rgb(216,216,216)" class="l"/>
<ellipse cx="514.73" cy="120.9" rx="2.16" ry="2.68" fill="rgb(235,235,235)" class="l"/>
<ellipse cx="514.41" cy="120.41" rx="1.62" ry="2.01" fill="rgb(217,217,217)" class="l"/>
<ellipse cx="513.65" cy="120.64" rx="1.67" ry="2.07" fill="rgb(240,240,240)" class="l"/>
<ellipse cx="514.51" cy="121.92" rx="1.94" ry="2.41" fill="rgb(222,222,222)" class="l"/>
<ellipse cx="525.71" cy="106.79" rx="1.55" ry="2.17" fill="rgb(209,209,209)" class="l"/>
<polygon points="524.42,109.86 528.72,103.17 535.6,94.14 539.9,83.3 563.98,83.3 567.42,95.95 569.14,109.86" fill="rgb(102,102,102)" class="l"/>
<polygon points="527,109.5 533.88,99.56 539.9,88.72 542.48,83.3 559.68,83.3 563.98,99.56 565.7,109.5" fill="rgb(153,153,153)" class="l"/>
<polyline points="528.72,105.88 533.88,102.27 539.04,97.75 544.2,93.24 548.5,90.17 554.52,92.33" fill="none" stroke="rgb(97,97,97)" stroke-width="15" stroke-linecap="round" stroke-linejoin="round" class="l"/>
<polyline points="528.72,105.88 533.88,102.27 539.04,97.75 544.2,93.24 548.5,90.17 554.52,92.33" fill="none" stroke="rgb(153,153,153)" stroke-width="9" stroke-linecap="round" stroke-linejoin="round" class="l"/>
<polyline points="528.72,105.88 533.88,102.27 539.04,97.75 544.2,93.24 548.5,90.17 554.52,92.33" fill="none" stroke="rgb(199,199,199)" stroke-width="3.2" stroke-linecap="round" stroke-linejoin="round" class="l"/>
<ellipse cx="529.82" cy="105.69" rx="1.94" ry="2.45" fill="rgb(202,202,202)" class="l"/>
<ellipse cx="530.25" cy="105.5" rx="1.69" ry="2.13" fill="rgb(210,210,210)" class="l"/>
<ellipse cx="532.98" cy="103.93" rx="1.55" ry="1.96" fill="rgb(214,214,214)" class="l"/>
<ellipse cx="533.66" cy="102.06" rx="1.55" ry="1.95" fill="rgb(208,208,208)" class="l"/>
<ellipse cx="534.95" cy="101.09" rx="1.87" ry="2.36" fill="rgb(224,224,224)" class="l"/>
<ellipse cx="536.58" cy="100.04" rx="1.71" ry="2.16" fill="rgb(203,203,203)" class="l"/>
<ellipse cx="538.85" cy="97.16" rx="1.92" ry="2.42" fill="rgb(230,230,230)" class="l"/>
<ellipse cx="540.12" cy="96.79" rx="1.45" ry="1.83" fill="rgb(226,226,226)" class="l"/>
<ellipse cx="541.52" cy="95.76" rx="1.77" ry="2.23" fill="rgb(197,197,197)" class="l"/>
<ellipse cx="543.17" cy="93.4" rx="1.52" ry="1.92" fill="rgb(211,211,211)" class="l"/>
<ellipse cx="544.43" cy="93.8" rx="1.44" ry="1.81" fill="rgb(201,201,201)" class="l"/>
<ellipse cx="546.9" cy="92.55" rx="1.79" ry="2.26" fill="rgb(217,217,217)" class="l"/>
<ellipse cx="548" cy="90.33" rx="1.94" ry="2.44" fill="rgb(218,218,218)" class="l"/>
<ellipse cx="549.45" cy="90.24" rx="1.49" ry="1.88" fill="rgb(234,234,234)" class="l"/>
<ellipse cx="551.36" cy="90.48" rx="1.85" ry="2.34" fill="rgb(208,208,208)" class="l"/>
<ellipse cx="552.8" cy="92.3" rx="1.64" ry="2.07" fill="rgb(216,216,216)" class="l"/>
<ellipse cx="542.74" cy="102.76" rx="1.21" ry="1.27" fill="rgb(198,198,198)" class="l"/>
<ellipse cx="543.62" cy="100.85" rx="1.77" ry="1.86" fill="rgb(189,189,189)" class="l"/>
<ellipse cx="552.9" cy="101.42" rx="1.32" ry="1.38" fill="rgb(178,178,178)" class="l"/>
<ellipse cx="538.83" cy="100.25" rx="1.47" ry="1.54" fill="rgb(176,176,176)" class="l"/>
<ellipse cx="546.28" cy="88.74" rx="1.74" ry="1.82" fill="rgb(195,195,195)" class="l"/>
<ellipse cx="543.18" cy="98.26" rx="1.61" ry="1.69" fill="rgb(214,214,214)" class="l"/>
<ellipse cx="552.83" cy="102.03" rx="1.26" ry="1.32" fill="rgb(188,188,188)" class="l"/>
<ellipse cx="552.51" cy="94.41" rx="2.2" ry="2.31" fill="rgb(193,193,193)" class="l"/>
<ellipse cx="539.21" cy="103.27" rx="1.69" ry="1.78" fill="rgb(200,200,200)" class="l"/>
<ellipse cx="549.39" cy="102.76" rx="1.29" ry="1.36" fill="rgb(182,182,182)" class="l"/>
<ellipse cx="552.69" cy="97.04" rx="1.56" ry="1.64" fill="rgb(196,196,196)" class="l"/>
<ellipse cx="557.5" cy="99.43" rx="1.25" ry="1.32" fill="rgb(178,178,178)" class="l"/>
<ellipse cx="542.79" cy="104.75" rx="1.66" ry="1.74" fill="rgb(181,181,181)" class="l"/>
<ellipse cx="545.93" cy="104.86" rx="1.27" ry="1.33" fill="rgb(211,211,211)" class="l"/>
<polyline points="533.19,112.21 533.19,137.5" fill="none" stroke="rgb(87,87,87)" stroke-width="2" stroke-linecap="round" stroke-linejoin="round" class="l"/>
<polyline points="532.16,112.21 533.02,119.43 533.45,126.66" fill="none" stroke="rgb(97,97,97)" stroke-width="10" stroke-linecap="round" stroke-linejoin="round" class="l"/>
<polyline points="532.16,112.21 533.02,119.43 533.45,126.66" fill="none" stroke="rgb(153,153,153)" stroke-width="6" stroke-linecap="round" stroke-linejoin="round" class="l"/>
<polyline points="532.16,112.21 533.02,119.43 533.45,126.66" fill="none" stroke="rgb(199,199,199)" stroke-width="3.2" stroke-linecap="round" stroke-linejoin="round" class="l"/>
<ellipse cx="532.14" cy="113.78" rx="1.33" ry="2.6" fill="rgb(196,196,196)" class="l"/>
<ellipse cx="532.27" cy="114.96" rx="1.11" ry="2.17" fill="rgb(195,195,195)" class="l"/>
<ellipse cx="532.55" cy="118.1" rx="1.48" ry="2.9" fill="rgb(198,198,198)" class="l"/>
<ellipse cx="533.47" cy="122.02" rx="1.25" ry="2.45" fill="rgb(195,195,195)" class="l"/>
<ellipse cx="533.47" cy="123.95" rx="1.08" ry="2.12" fill="rgb(228,228,228)" class="l"/>
<polygon points="535.6,111.3 570,111.3 570,135.69 535.6,135.69" fill="rgb(18,18,18)"/>
<polyline points="535.65,111.3 535.49,134.84" fill="none" stroke="rgb(39,39,39)" stroke-width="1.2" stroke-linecap="round" stroke-linejoin="round" class="l"/>
<polyline points="538.7,111.3 538.69,132.74" fill="none" stroke="rgb(44,44,44)" stroke-width="1.2" stroke-linecap="round" stroke-linejoin="round" class="l"/>
<polyline points="539.06,111.3 539.44,128.25" fill="none" stroke="rgb(50,50,50)" stroke-width="1.2" stroke-linecap="round" stroke-linejoin="round" class="l"/>
<polyline points="541.85,111.3 541.55,123.5" fill="none" stroke="rgb(60,60,60)" stroke-width="1.2" stroke-linecap="round" stroke-linejoin="round" class="l"/>
<polyline points="543.04,111.3 543.2,134.53" fill="none" stroke="rgb(52,52,52)" stroke-width="1.2" stroke-linecap="round" stroke-linejoin="round" class="l"/>
<polyline points="545.34,111.3 545.46,127.37" fill="none" stroke="rgb(49,49,49)" stroke-width="1.2" stroke-linecap="round" stroke-linejoin="round" class="l"/>
<polyline points="545.99,111.3 545.89,122.24" fill="none" stroke="rgb(53,53,53)" stroke-width="1.2" stroke-linecap="round" stroke-linejoin="round" class="l"/>
<polyline points="548.22,111.3 548.17,128.13" fill="none" stroke="rgb(61,61,61)" stroke-width="1.2" stroke-linecap="round" stroke-linejoin="round" class="l"/>
<polyline points="550.43,111.3 550.68,130.27" fill="none" stroke="rgb(61,61,61)" stroke-width="1.2" stroke-linecap="round" stroke-linejoin="round" class="l"/>
<polyline points="551.85,111.3 551.8,124.69" fill="none" stroke="rgb(52,52,52)" stroke-width="1.2" stroke-linecap="round" stroke-linejoin="round" class="l"/>
<polyline points="554.31,111.3 554.41,125.64" fill="none" stroke="rgb(60,60,60)" stroke-width="1.2" stroke-linecap="round" stroke-linejoin="round" class="l"/>
<polyline points="555.68,111.3 555.97,120.77" fill="none" stroke="rgb(41,41,41)" stroke-width="1.2" stroke-linecap="round" stroke-linejoin="round" class="l"/>
<polyline points="556.35,111.3 556.08,123.87" fill="none" stroke="rgb(62,62,62)" stroke-width="1.2" stroke-linecap="round" stroke-linejoin="round" class="l"/>
<polyline points="558.67,111.3 558.99,121.9" fill="none" stroke="rgb(45,45,45)" stroke-width="1.2" stroke-linecap="round" stroke-linejoin="round" class="l"/>
<polyline points="561.14,111.3 561.48,122.2" fill="none" stroke="rgb(50,50,50)" stroke-width="1.2" stroke-linecap="round" stroke-linejoin="round" class="l"/>
<polyline points="562.73,111.3 563,122.62" fill="none" stroke="rgb(48,48,48)" stroke-width="1.2" stroke-linecap="round" stroke-linejoin="round" class="l"/>
<polyline points="563.86,111.3 564.15,124.13" fill="none" stroke="rgb(50,50,50)" stroke-width="1.2" stroke-linecap="round" stroke-linejoin="round" class="l"/>
<polyline points="565.26,111.3 565.62,129.27" fill="none" stroke="rgb(60,60,60)" stroke-width="1.2" stroke-linecap="round" stroke-linejoin="round" class="l"/>
<polyline points="567.97,111.3 567.8,126.11" fill="none" stroke="rgb(49,49,49)" stroke-width="1.2" stroke-linecap="round" stroke-linejoin="round" class="l"/>
<polyline points="568.63,111.3 568.92,132.1" fill="none" stroke="rgb(40,40,40)" stroke-width="1.2" stroke-linecap="round" stroke-linejoin="round" class="l"/>
<polyline points="491.74,111.48 570,111.48" fill="none" stroke="rgb(117,117,117)" stroke-width="3" stroke-linecap="round" stroke-linejoin="round" class="l"/>
<polyline points="488.3,109.95 570,109.95" fill="none" stroke="rgb(13,13,13)" stroke-width="1" stroke-linecap="round" stroke-linejoin="round" stroke-opacity="0.8"/>
</g></g>
<rect x="484" y="83.3" width="86" height="54.2" fill="none" stroke="#000" stroke-opacity="0.45" stroke-width="0.5"/>
<g class="b">
<text class="tk" x="482.5" y="94.43" text-anchor="end">100</text>
<text class="tk" x="482.5" y="112.5" text-anchor="end">0</text>
<text class="tk" x="482.5" y="130.57" text-anchor="end">-100</text>
<text class="tk" x="484" y="144.2" text-anchor="middle">0</text>
<text class="tk" x="501.2" y="144.2" text-anchor="middle">2</text>
<text class="tk" x="518.4" y="144.2" text-anchor="middle">4</text>
<text class="tk" x="535.6" y="144.2" text-anchor="middle">6</text>
<text class="tk" x="552.8" y="144.2" text-anchor="middle">8</text>
<text class="tk" x="570" y="144.2" text-anchor="middle">10</text>
<text class="lb" x="527" y="151" text-anchor="middle">Time[s]</text>
<text class="lb" x="0" y="0" text-anchor="middle" transform="translate(470.8,110.4) rotate(-90)">Doppler [Hz]</text>
<text class="tt" x="527" y="81.5" text-anchor="middle">Room 5</text>
</g>
<g clip-path="url(#cb12)"><g filter="url(#jb12)">
<rect x="591" y="77.3" width="98" height="66.2" fill="rgb(5,5,5)"/>
<polygon points="608.18,109.86 614.2,99.56 620.22,88.72 627.1,92.33 633.98,109.86" fill="rgb(18,18,18)"/>
<polyline points="608.69,109.5 608.64,100.53" fill="none" stroke="rgb(63,63,63)" stroke-width="1.2" stroke-linecap="round" stroke-linejoin="round" class="l"/>
<polyline points="611.8,109.5 611.76,88.99" fill="none" stroke="rgb(74,74,74)" stroke-width="1.2" stroke-linecap="round" stroke-linejoin="round" class="l"/>
<polyline points="613.28,109.5 613.05,93.24" fill="none" stroke="rgb(59,59,59)" stroke-width="1.2" stroke-linecap="round" stroke-linejoin="round" class="l"/>
<polyline points="615.12,109.5 615.48,90" fill="none" stroke="rgb(75,75,75)" stroke-width="1.2" stroke-linecap="round" stroke-linejoin="round" class="l"/>
<polyline points="617.24,109.5 617.65,101.79" fill="none" stroke="rgb(64,64,64)" stroke-width="1.2" stroke-linecap="round" stroke-linejoin="round" class="l"/>
<polyline points="618.3,109.5 618.69,89.15" fill="none" stroke="rgb(53,53,53)" stroke-width="1.2" stroke-linecap="round" stroke-linejoin="round" class="l"/>
<polyline points="620.56,109.5 620.43,88.81" fill="none" stroke="rgb(71,71,71)" stroke-width="1.2" stroke-linecap="round" stroke-linejoin="round" class="l"/>
<polyline points="621.54,109.5 621.84,92.38" fill="none" stroke="rgb(74,74,74)" stroke-width="1.2" stroke-linecap="round" stroke-linejoin="round" class="l"/>
<polyline points="623.27,109.5 623.3,89.76" fill="none" stroke="rgb(58,58,58)" stroke-width="1.2" stroke-linecap="round" stroke-linejoin="round" class="l"/>
<polyline points="626.48,109.5 626.29,91.79" fill="none" stroke="rgb(52,52,52)" stroke-width="1.2" stroke-linecap="round" stroke-linejoin="round" class="l"/>
<polyline points="627.65,109.5 628,97.55" fill="none" stroke="rgb(67,67,67)" stroke-width="1.2" stroke-linecap="round" stroke-linejoin="round" class="l"/>
<polyline points="629.89,109.5 629.58,95.8" fill="none" stroke="rgb(55,55,55)" stroke-width="1.2" stroke-linecap="round" stroke-linejoin="round" class="l"/>
<polyline points="630.58,109.5 630.21,89.82" fill="none" stroke="rgb(59,59,59)" stroke-width="1.2" stroke-linecap="round" stroke-linejoin="round" class="l"/>
<polyline points="633.95,109.5 633.55,99.76" fill="none" stroke="rgb(69,69,69)" stroke-width="1.2" stroke-linecap="round" stroke-linejoin="round" class="l"/>
<ellipse cx="621.51" cy="95.04" rx="3.01" ry="4.52" fill="rgb(102,102,102)" class="l"/>
<polygon points="633.12,109.86 635.7,99.56 638.28,83.3 659.78,83.3 662.36,99.56 664.08,109.86" fill="rgb(102,102,102)" class="l"/>
<polygon points="634.84,109.5 638.28,97.75 640,83.3 658.06,83.3 659.78,99.56 661.5,109.5" fill="rgb(153,153,153)" class="l"/>
<polyline points="635.7,104.98 639.14,100.46 642.58,95.04 646.02,90.53 649.46,87.82 652.04,86.01" fill="none" stroke="rgb(97,97,97)" stroke-width="15" stroke-linecap="round" stroke-linejoin="round" class="l"/>
<polyline points="635.7,104.98 639.14,100.46 642.58,95.04 646.02,90.53 649.46,87.82 652.04,86.01" fill="none" stroke="rgb(153,153,153)" stroke-width="9" stroke-linecap="round" stroke-linejoin="round" class="l"/>
<polyline points="635.7,104.98 639.14,100.46 642.58,95.04 646.02,90.53 649.46,87.82 652.04,86.01" fill="none" stroke="rgb(199,199,199)" stroke-width="3.2" stroke-linecap="round" stroke-linejoin="round" class="l"/>
<ellipse cx="636.61" cy="104.49" rx="1.46" ry="1.84" fill="rgb(205,205,205)" class="l"/>
<ellipse cx="636.86" cy="103.37" rx="1.75" ry="2.2" fill="rgb(227,227,227)" class="l"/>
<ellipse cx="637.65" cy="102.45" rx="1.92" ry="2.42" fill="rgb(208,208,208)" class="l"/>
<ellipse cx="639.38" cy="99.8" rx="1.95" ry="2.46" fill="rgb(230,230,230)" class="l"/>
<ellipse cx="640.62" cy="99.16" rx="1.87" ry="2.36" fill="rgb(227,227,227)" class="l"/>
<ellipse cx="641.74" cy="96.53" rx="2" ry="2.51" fill="rgb(226,226,226)" class="l"/>
<ellipse cx="641.69" cy="96.11" rx="1.86" ry="2.35" fill="rgb(233,233,233)" class="l"/>
<ellipse cx="642.63" cy="94.19" rx="1.68" ry="2.11" fill="rgb(215,215,215)" class="l"/>
<ellipse cx="644.55" cy="92.85" rx="1.82" ry="2.29" fill="rgb(194,194,194)" class="l"/>
<ellipse cx="645.86" cy="91.25" rx="1.89" ry="2.38" fill="rgb(200,200,200)" class="l"/>
<ellipse cx="646.39" cy="90.53" rx="2.02" ry="2.54" fill="rgb(196,196,196)" class="l"/>
<ellipse cx="648.71" cy="88.49" rx="1.49" ry="1.87" fill="rgb(200,200,200)" class="l"/>
<ellipse cx="649.49" cy="86.85" rx="1.94" ry="2.44" fill="rgb(212,212,212)" class="l"/>
<ellipse cx="651.22" cy="87.17" rx="1.75" ry="2.2" fill="rgb(221,221,221)" class="l"/>
<ellipse cx="652.15" cy="90.06" rx="1.34" ry="1.41" fill="rgb(184,184,184)" class="l"/>
<ellipse cx="648.56" cy="91.14" rx="2.13" ry="2.24" fill="rgb(217,217,217)" class="l"/>
<ellipse cx="644.36" cy="88.71" rx="1.64" ry="1.72" fill="rgb(179,179,179)" class="l"/>
<ellipse cx="638.89" cy="98.54" rx="1.96" ry="2.06" fill="rgb(171,171,171)" class="l"/>
<ellipse cx="646.14" cy="98.19" rx="1.36" ry="1.43" fill="rgb(169,169,169)" class="l"/>
<ellipse cx="641.52" cy="93.52" rx="1.82" ry="1.91" fill="rgb(178,178,178)" class="l"/>
<ellipse cx="652.45" cy="85.16" rx="2.23" ry="2.34" fill="rgb(174,174,174)" class="l"/>
<ellipse cx="643.4" cy="101.63" rx="2.01" ry="2.11" fill="rgb(191,191,191)" class="l"/>
<ellipse cx="641.85" cy="96.17" rx="1.57" ry="1.65" fill="rgb(187,187,187)" class="l"/>
<ellipse cx="640.71" cy="85.48" rx="1.77" ry="1.86" fill="rgb(177,177,177)" class="l"/>
<ellipse cx="642.38" cy="86.1" rx="2.09" ry="2.19" fill="rgb(179,179,179)" class="l"/>
<ellipse cx="645.06" cy="102.99" rx="2.13" ry="2.23" fill="rgb(182,182,182)" class="l"/>
<ellipse cx="640.43" cy="92.83" rx="1.78" ry="1.86" fill="rgb(199,199,199)" class="l"/>
<ellipse cx="644.68" cy="96.52" rx="2.16" ry="2.27" fill="rgb(189,189,189)" class="l"/>
<polygon points="669.24,109.86 671.82,95.95 674.4,86.91 683,86.91 683,109.86" fill="rgb(18,18,18)"/>
<polyline points="670.86,109.5 670.84,91.08" fill="none" stroke="rgb(75,75,75)" stroke-width="1.2" stroke-linecap="round" stroke-linejoin="round" class="l"/>
<polyline points="672.08,109.5 671.88,89.42" fill="none" stroke="rgb(48,48,48)" stroke-width="1.2" stroke-linecap="round" stroke-linejoin="round" class="l"/>
<polyline points="672.92,109.5 673.03,96.41" fill="none" stroke="rgb(57,57,57)" stroke-width="1.2" stroke-linecap="round" stroke-linejoin="round" class="l"/>
<polyline points="674.48,109.5 674.74,88.99" fill="none" stroke="rgb(63,63,63)" stroke-width="1.2" stroke-linecap="round" stroke-linejoin="round" class="l"/>
<polyline points="676.35,109.5 676.09,94.84" fill="none" stroke="rgb(50,50,50)" stroke-width="1.2" stroke-linecap="round" stroke-linejoin="round" class="l"/>
<polyline points="677.47,109.5 677.09,89.15" fill="none" stroke="rgb(66,66,66)" stroke-width="1.2" stroke-linecap="round" stroke-linejoin="round" class="l"/>
<polyline points="677.86,109.5 678.09,87.78" fill="none" stroke="rgb(65,65,65)" stroke-width="1.2" stroke-linecap="round" stroke-linejoin="round" class="l"/>
<polyline points="680.19,109.5 679.77,90.36" fill="none" stroke="rgb(70,70,70)" stroke-width="1.2" stroke-linecap="round" stroke-linejoin="round" class="l"/>
<polyline points="681.32,109.5 681.18,96.72" fill="none" stroke="rgb(47,47,47)" stroke-width="1.2" stroke-linecap="round" stroke-linejoin="round" class="l"/>
<polyline points="681.93,109.5 681.77,98.04" fill="none" stroke="rgb(69,69,69)" stroke-width="1.2" stroke-linecap="round" stroke-linejoin="round" class="l"/>
<polygon points="606.46,110.94 640.86,110.94 636.56,119.43 629.68,132.08 624.52,137.5 610.76,137.5 607.32,121.24" fill="rgb(97,97,97)" class="l"/>
<polygon points="610.76,123.05 616.78,115.82 627.1,113.11 640,111.85 634.84,119.43 627.1,130.27 618.5,134.79 613.34,132.08" fill="rgb(153,153,153)" class="l"/>
<polyline points="614.2,127.56 618.5,126.66 622.8,124.85 627.1,121.6 631.4,118.53 635.7,115.46 639.14,112.57" fill="none" stroke="rgb(97,97,97)" stroke-width="15" stroke-linecap="round" stroke-linejoin="round" class="l"/>
<polyline points="614.2,127.56 618.5,126.66 622.8,124.85 627.1,121.6 631.4,118.53 635.7,115.46 639.14,112.57" fill="none" stroke="rgb(153,153,153)" stroke-width="9" stroke-linecap="round" stroke-linejoin="round" class="l"/>
<polyline points="614.2,127.56 618.5,126.66 622.8,124.85 627.1,121.6 631.4,118.53 635.7,115.46 639.14,112.57" fill="none" stroke="rgb(199,199,199)" stroke-width="3.2" stroke-linecap="round" stroke-linejoin="round" class="l"/>
<ellipse cx="614.18" cy="128.12" rx="1.97" ry="2.48" fill="rgb(221,221,221)" class="l"/>
<ellipse cx="616.74" cy="127.61" rx="1.83" ry="2.3" fill="rgb(233,233,233)" class="l"/>
<ellipse cx="618.07" cy="126.16" rx="1.97" ry="2.49" fill="rgb(200,200,200)" class="l"/>
<ellipse cx="619.9" cy="126.56" rx="1.42" ry="1.79" fill="rgb(214,214,214)" class="l"/>
<ellipse cx="621.09" cy="125.65" rx="1.64" ry="2.06" fill="rgb(233,233,233)" class="l"/>
<ellipse cx="622.7" cy="124.98" rx="1.97" ry="2.49" fill="rgb(220,220,220)" class="l"/>
<ellipse cx="624.61" cy="123.62" rx="1.66" ry="2.09" fill="rgb(206,206,206)" class="l"/>
<ellipse cx="626.82" cy="122.28" rx="1.69" ry="2.13" fill="rgb(205,205,205)" class="l"/>
<ellipse cx="627.67" cy="121.47" rx="1.62" ry="2.04" fill="rgb(201,201,201)" class="l"/>
<ellipse cx="628.58" cy="119.84" rx="1.47" ry="1.85" fill="rgb(212,212,212)" class="l"/>
<ellipse cx="629.91" cy="119.68" rx="1.43" ry="1.8" fill="rgb(231,231,231)" class="l"/>
<ellipse cx="632" cy="117.6" rx="1.92" ry="2.42" fill="rgb(208,208,208)" class="l"/>
<ellipse cx="634.19" cy="116.29" rx="1.89" ry="2.38" fill="rgb(203,203,203)" class="l"/>
<ellipse cx="635.63" cy="115.16" rx="1.44" ry="1.82" fill="rgb(218,218,218)" class="l"/>
<ellipse cx="636.36" cy="115.36" rx="1.73" ry="2.18" fill="rgb(203,203,203)" class="l"/>
<ellipse cx="638" cy="114.01" rx="1.96" ry="2.47" fill="rgb(197,197,197)" class="l"/>
<polygon points="640,111.3 670.1,111.3 670.1,135.69 640,135.69" fill="rgb(18,18,18)"/>
<polyline points="640.17,111.3 640.09,124.74" fill="none" stroke="rgb(59,59,59)" stroke-width="1.2" stroke-linecap="round" stroke-linejoin="round" class="l"/>
<polyline points="643.29,111.3 643.29,121.38" fill="none" stroke="rgb(45,45,45)" stroke-width="1.2" stroke-linecap="round" stroke-linejoin="round" class="l"/>
<polyline points="643.63,111.3 643.87,125.75" fill="none" stroke="rgb(47,47,47)" stroke-width="1.2" stroke-linecap="round" stroke-linejoin="round" class="l"/>
<polyline points="646.43,111.3 646.25,132.17" fill="none" stroke="rgb(46,46,46)" stroke-width="1.2" stroke-linecap="round" stroke-linejoin="round" class="l"/>
<polyline points="646.76,111.3 647.04,127.48" fill="none" stroke="rgb(48,48,48)" stroke-width="1.2" stroke-linecap="round" stroke-linejoin="round" class="l"/>
<polyline points="649.93,111.3 649.82,126.91" fill="none" stroke="rgb(39,39,39)" stroke-width="1.2" stroke-linecap="round" stroke-linejoin="round" class="l"/>
<polyline points="651.62,111.3 651.67,123.53" fill="none" stroke="rgb(51,51,51)" stroke-width="1.2" stroke-linecap="round" stroke-linejoin="round" class="l"/>
<polyline points="652.07,111.3 651.81,127.8" fill="none" stroke="rgb(53,53,53)" stroke-width="1.2" stroke-linecap="round" stroke-linejoin="round" class="l"/>
<polyline points="653.91,111.3 653.84,126.2" fill="none" stroke="rgb(61,61,61)" stroke-width="1.2" stroke-linecap="round" stroke-linejoin="round" class="l"/>
<polyline points="655.81,111.3 655.81,125.23" fill="none" stroke="rgb(57,57,57)" stroke-width="1.2" stroke-linecap="round" stroke-linejoin="round" class="l"/>
<polyline points="658.12,111.3 658.08,129.45" fill="none" stroke="rgb(54,54,54)" stroke-width="1.2" stroke-linecap="round" stroke-linejoin="round" class="l"/>
<polyline points="658.54,111.3 658.79,124.22" fill="none" stroke="rgb(45,45,45)" stroke-width="1.2" stroke-linecap="round" stroke-linejoin="round" class="l"/>
<polyline points="661.21,111.3 661.16,128.41" fill="none" stroke="rgb(43,43,43)" stroke-width="1.2" stroke-linecap="round" stroke-linejoin="round" class="l"/>
<polyline points="662.43,111.3 662.47,132.51" fill="none" stroke="rgb(43,43,43)" stroke-width="1.2" stroke-linecap="round" stroke-linejoin="round" class="l"/>
<polyline points="663.44,111.3 663.11,133.7" fill="none" stroke="rgb(52,52,52)" stroke-width="1.2" stroke-linecap="round" stroke-linejoin="round" class="l"/>
<polyline points="666.01,111.3 666.16,123.7" fill="none" stroke="rgb(45,45,45)" stroke-width="1.2" stroke-linecap="round" stroke-linejoin="round" class="l"/>
<polyline points="666.83,111.3 667.24,122.35" fill="none" stroke="rgb(64,64,64)" stroke-width="1.2" stroke-linecap="round" stroke-linejoin="round" class="l"/>
<polyline points="668.53,111.3 668.76,120.03" fill="none" stroke="rgb(45,45,45)" stroke-width="1.2" stroke-linecap="round" stroke-linejoin="round" class="l"/>
<polygon points="670.1,110.94 683,110.94 683,137.5 672.68,137.5" fill="rgb(97,97,97)" class="l"/>
<polygon points="674.4,117.63 683,117.63 683,135.69 676.12,135.69" fill="rgb(117,117,117)" class="l"/>
<polyline points="676.12,126.66 679.56,128.11 683,129.37" fill="none" stroke="rgb(97,97,97)" stroke-width="15" stroke-linecap="round" stroke-linejoin="round" class="l"/>
<polyline points="676.12,126.66 679.56,128.11 683,129.37" fill="none" stroke="rgb(153,153,153)" stroke-width="9" stroke-linecap="round" stroke-linejoin="round" class="l"/>
<polyline points="676.12,126.66 679.56,128.11 683,129.37" fill="none" stroke="rgb(199,199,199)" stroke-width="3.2" stroke-linecap="round" stroke-linejoin="round" class="l"/>
<ellipse cx="677.17" cy="127" rx="1.86" ry="2.34" fill="rgb(224,224,224)" class="l"/>
<ellipse cx="677.99" cy="126.88" rx="1.49" ry="1.88" fill="rgb(201,201,201)" class="l"/>
<ellipse cx="678.39" cy="128.71" rx="1.51" ry="1.91" fill="rgb(203,203,203)" class="l"/>
<ellipse cx="679.76" cy="127.71" rx="1.81" ry="2.28" fill="rgb(218,218,218)" class="l"/>
<ellipse cx="682.29" cy="129.25" rx="1.85" ry="2.33" fill="rgb(196,196,196)" class="l"/>
<polyline points="606.46,111.48 683,111.48" fill="none" stroke="rgb(117,117,117)" stroke-width="3" stroke-linecap="round" stroke-linejoin="round" class="l"/>
<polyline points="601.3,109.95 683,109.95" fill="none" stroke="rgb(13,13,13)" stroke-width="1" stroke-linecap="round" stroke-linejoin="round" stroke-opacity="0.8"/>
</g></g>
<rect x="597" y="83.3" width="86" height="54.2" fill="none" stroke="#000" stroke-opacity="0.45" stroke-width="0.5"/>
<g class="b">
<text class="tk" x="595.5" y="94.43" text-anchor="end">100</text>
<text class="tk" x="595.5" y="112.5" text-anchor="end">0</text>
<text class="tk" x="595.5" y="130.57" text-anchor="end">-100</text>
<text class="tk" x="597" y="144.2" text-anchor="middle">0</text>
<text class="tk" x="614.2" y="144.2" text-anchor="middle">2</text>
<text class="tk" x="631.4" y="144.2" text-anchor="middle">4</text>
<text class="tk" x="648.6" y="144.2" text-anchor="middle">6</text>
<text class="tk" x="665.8" y="144.2" text-anchor="middle">8</text>
<text class="tk" x="683" y="144.2" text-anchor="middle">10</text>
<text class="lb" x="640" y="151" text-anchor="middle">Time[s]</text>
<text class="lb" x="0" y="0" text-anchor="middle" transform="translate(583.8,110.4) rotate(-90)">Doppler [Hz]</text>
<text class="tt" x="640" y="81.5" text-anchor="middle">Room 6</text>
</g>
<g clip-path="url(#cb20)"><g filter="url(#jb20)">
<rect x="365" y="154.6" width="98" height="66.2" fill="rgb(5,5,5)"/>
<polygon points="371,187.34 372.72,181.38 379.6,180.47 435.5,179.57 435.5,187.34" fill="rgb(41,41,41)" class="l"/>
<polyline points="375.1,186.8 375.42,180.24" fill="none" stroke="rgb(58,58,58)" stroke-width="1.2" stroke-linecap="round" stroke-linejoin="round" class="l"/>
<polyline points="376.55,186.8 376.95,177.74" fill="none" stroke="rgb(68,68,68)" stroke-width="1.2" stroke-linecap="round" stroke-linejoin="round" class="l"/>
<polyline points="378.43,186.8 378.64,178.24" fill="none" stroke="rgb(81,81,81)" stroke-width="1.2" stroke-linecap="round" stroke-linejoin="round" class="l"/>
<polyline points="380.62,186.8 380.8,176.44" fill="none" stroke="rgb(78,78,78)" stroke-width="1.2" stroke-linecap="round" stroke-linejoin="round" class="l"/>
<polyline points="381.98,186.8 382.32,182.38" fill="none" stroke="rgb(70,70,70)" stroke-width="1.2" stroke-linecap="round" stroke-linejoin="round" class="l"/>
<polyline points="384.01,186.8 384.04,176.82" fill="none" stroke="rgb(79,79,79)" stroke-width="1.2" stroke-linecap="round" stroke-linejoin="round" class="l"/>
<polyline points="386.01,186.8 386.23,180.93" fill="none" stroke="rgb(57,57,57)" stroke-width="1.2" stroke-linecap="round" stroke-linejoin="round" class="l"/>
<polyline points="387.41,186.8 387.81,182.07" fill="none" stroke="rgb(72,72,72)" stroke-width="1.2" stroke-linecap="round" stroke-linejoin="round" class="l"/>
<polyline points="389.49,186.8 389.66,178.58" fill="none" stroke="rgb(69,69,69)" stroke-width="1.2" stroke-linecap="round" stroke-linejoin="round" class="l"/>
<polyline points="390.89,186.8 390.49,182.51" fill="none" stroke="rgb(76,76,76)" stroke-width="1.2" stroke-linecap="round" stroke-linejoin="round" class="l"/>
<polyline points="392.04,186.8 392.46,178.81" fill="none" stroke="rgb(70,70,70)" stroke-width="1.2" stroke-linecap="round" stroke-linejoin="round" class="l"/>
<polyline points="395.07,186.8 395.05,180.33" fill="none" stroke="rgb(75,75,75)" stroke-width="1.2" stroke-linecap="round" stroke-linejoin="round" class="l"/>
<polyline points="395.5,186.8 395.1,182.42" fill="none" stroke="rgb(75,75,75)" stroke-width="1.2" stroke-linecap="round" stroke-linejoin="round" class="l"/>
<polyline points="398.36,186.8 398.23,176.1" fill="none" stroke="rgb(81,81,81)" stroke-width="1.2" stroke-linecap="round" stroke-linejoin="round" class="l"/>
<polyline points="399.26,186.8 398.88,181.1" fill="none" stroke="rgb(78,78,78)" stroke-width="1.2" stroke-linecap="round" stroke-linejoin="round" class="l"/>
<polyline points="401.57,186.8 401.74,176.89" fill="none" stroke="rgb(80,80,80)" stroke-width="1.2" stroke-linecap="round" stroke-linejoin="round" class="l"/>
<polyline points="402.79,186.8 403.04,176.53" fill="none" stroke="rgb(52,52,52)" stroke-width="1.2" stroke-linecap="round" stroke-linejoin="round" class="l"/>
<polyline points="405.07,186.8 404.81,178.68" fill="none" stroke="rgb(75,75,75)" stroke-width="1.2" stroke-linecap="round" stroke-linejoin="round" class="l"/>
<polyline points="406.42,186.8 406.85,177.97" fill="none" stroke="rgb(86,86,86)" stroke-width="1.2" stroke-linecap="round" stroke-linejoin="round" class="l"/>
<polyline points="409.51,186.8 409.56,175.5" fill="none" stroke="rgb(53,53,53)" stroke-width="1.2" stroke-linecap="round" stroke-linejoin="round" class="l"/>
<polyline points="410.6,186.8 410.65,178.9" fill="none" stroke="rgb(69,69,69)" stroke-width="1.2" stroke-linecap="round" stroke-linejoin="round" class="l"/>
<polyline points="412.03,186.8 411.63,177.06" fill="none" stroke="rgb(81,81,81)" stroke-width="1.2" stroke-linecap="round" stroke-linejoin="round" class="l"/>
<polyline points="414.48,186.8 414.49,178.74" fill="none" stroke="rgb(69,69,69)" stroke-width="1.2" stroke-linecap="round" stroke-linejoin="round" class="l"/>
<polyline points="415.94,186.8 416.25,178.01" fill="none" stroke="rgb(64,64,64)" stroke-width="1.2" stroke-linecap="round" stroke-linejoin="round" class="l"/>
<polyline points="418.08,186.8 418.19,182.01" fill="none" stroke="rgb(85,85,85)" stroke-width="1.2" stroke-linecap="round" stroke-linejoin="round" class="l"/>
<polyline points="419.9,186.8 419.7,178.7" fill="none" stroke="rgb(72,72,72)" stroke-width="1.2" stroke-linecap="round" stroke-linejoin="round" class="l"/>
<polyline points="421.18,186.8 421.01,177.2" fill="none" stroke="rgb(68,68,68)" stroke-width="1.2" stroke-linecap="round" stroke-linejoin="round" class="l"/>
<polyline points="424.37,186.8 424.35,181.59" fill="none" stroke="rgb(60,60,60)" stroke-width="1.2" stroke-linecap="round" stroke-linejoin="round" class="l"/>
<polyline points="425.61,186.8 425.2,180.03" fill="none" stroke="rgb(57,57,57)" stroke-width="1.2" stroke-linecap="round" stroke-linejoin="round" class="l"/>
<polyline points="427.81,186.8 427.57,179.09" fill="none" stroke="rgb(53,53,53)" stroke-width="1.2" stroke-linecap="round" stroke-linejoin="round" class="l"/>
<polyline points="429.18,186.8 429.46,177.35" fill="none" stroke="rgb(67,67,67)" stroke-width="1.2" stroke-linecap="round" stroke-linejoin="round" class="l"/>
<polyline points="430.51,186.8 430.18,177.28" fill="none" stroke="rgb(84,84,84)" stroke-width="1.2" stroke-linecap="round" stroke-linejoin="round" class="l"/>
<polyline points="433.64,186.8 433.6,178.36" fill="none" stroke="rgb(69,69,69)" stroke-width="1.2" stroke-linecap="round" stroke-linejoin="round" class="l"/>
<polyline points="435.23,186.8 435.07,179.66" fill="none" stroke="rgb(57,57,57)" stroke-width="1.2" stroke-linecap="round" stroke-linejoin="round" class="l"/>
<polygon points="371,188.24 439.8,188.24 438.94,196.73 435.5,201.25 418.3,203.06 405.4,202.15 392.5,203.06 379.6,200.35 372.72,194.93 371,191.31" fill="rgb(97,97,97)" class="l"/>
<polyline points="375.9,194.93 376.07,203.7" fill="none" stroke="rgb(68,68,68)" stroke-width="1.2" stroke-linecap="round" stroke-linejoin="round" class="l"/>
<polyline points="378.66,194.93 378.44,199.35" fill="none" stroke="rgb(72,72,72)" stroke-width="1.2" stroke-linecap="round" stroke-linejoin="round" class="l"/>
<polyline points="381.6,194.93 381.84,200.84" fill="none" stroke="rgb(55,55,55)" stroke-width="1.2" stroke-linecap="round" stroke-linejoin="round" class="l"/>
<polyline points="384.63,194.93 384.82,203.71" fill="none" stroke="rgb(61,61,61)" stroke-width="1.2" stroke-linecap="round" stroke-linejoin="round" class="l"/>
<polyline points="387.32,194.93 387.21,207.55" fill="none" stroke="rgb(67,67,67)" stroke-width="1.2" stroke-linecap="round" stroke-linejoin="round" class="l"/>
<polyline points="389.6,194.93 389.6,204.66" fill="none" stroke="rgb(52,52,52)" stroke-width="1.2" stroke-linecap="round" stroke-linejoin="round" class="l"/>
<polyline points="391.15,194.93 390.91,200.52" fill="none" stroke="rgb(71,71,71)" stroke-width="1.2" stroke-linecap="round" stroke-linejoin="round" class="l"/>
<polyline points="393.7,194.93 393.77,203.81" fill="none" stroke="rgb(58,58,58)" stroke-width="1.2" stroke-linecap="round" stroke-linejoin="round" class="l"/>
<polyline points="396.87,194.93 397.27,203.73" fill="none" stroke="rgb(69,69,69)" stroke-width="1.2" stroke-linecap="round" stroke-linejoin="round" class="l"/>
<polyline points="398.7,194.93 398.67,202.37" fill="none" stroke="rgb(70,70,70)" stroke-width="1.2" stroke-linecap="round" stroke-linejoin="round" class="l"/>
<polyline points="400.54,194.93 400.65,205.13" fill="none" stroke="rgb(50,50,50)" stroke-width="1.2" stroke-linecap="round" stroke-linejoin="round" class="l"/>
<polyline points="402.15,194.93 402.38,202.44" fill="none" stroke="rgb(77,77,77)" stroke-width="1.2" stroke-linecap="round" stroke-linejoin="round" class="l"/>
<polyline points="406.28,194.93 406.52,206.47" fill="none" stroke="rgb(60,60,60)" stroke-width="1.2" stroke-linecap="round" stroke-linejoin="round" class="l"/>
<polyline points="406.72,194.93 406.62,201.27" fill="none" stroke="rgb(61,61,61)" stroke-width="1.2" stroke-linecap="round" stroke-linejoin="round" class="l"/>
<polyline points="411.46,194.93 411.63,201.08" fill="none" stroke="rgb(49,49,49)" stroke-width="1.2" stroke-linecap="round" stroke-linejoin="round" class="l"/>
<polyline points="412.46,194.93 412.81,200.19" fill="none" stroke="rgb(52,52,52)" stroke-width="1.2" stroke-linecap="round" stroke-linejoin="round" class="l"/>
<polyline points="416.01,194.93 415.78,202.55" fill="none" stroke="rgb(65,65,65)" stroke-width="1.2" stroke-linecap="round" stroke-linejoin="round" class="l"/>
<polyline points="417.97,194.93 418.04,202.2" fill="none" stroke="rgb(52,52,52)" stroke-width="1.2" stroke-linecap="round" stroke-linejoin="round" class="l"/>
<polyline points="419.08,194.93 419.17,206.57" fill="none" stroke="rgb(60,60,60)" stroke-width="1.2" stroke-linecap="round" stroke-linejoin="round" class="l"/>
<polyline points="423.37,194.93 423.29,202" fill="none" stroke="rgb(64,64,64)" stroke-width="1.2" stroke-linecap="round" stroke-linejoin="round" class="l"/>
<polyline points="425.42,194.93 425.02,202.16" fill="none" stroke="rgb(68,68,68)" stroke-width="1.2" stroke-linecap="round" stroke-linejoin="round" class="l"/>
<polyline points="426.05,194.93 425.98,200.24" fill="none" stroke="rgb(78,78,78)" stroke-width="1.2" stroke-linecap="round" stroke-linejoin="round" class="l"/>
<polyline points="428.65,194.93 428.77,204.72" fill="none" stroke="rgb(69,69,69)" stroke-width="1.2" stroke-linecap="round" stroke-linejoin="round" class="l"/>
<polyline points="431.31,194.93 431.39,202.41" fill="none" stroke="rgb(67,67,67)" stroke-width="1.2" stroke-linecap="round" stroke-linejoin="round" class="l"/>
<polyline points="435.61,194.93 435.62,200.82" fill="none" stroke="rgb(58,58,58)" stroke-width="1.2" stroke-linecap="round" stroke-linejoin="round" class="l"/>
<polyline points="437.69,194.93 437.52,205.02" fill="none" stroke="rgb(49,49,49)" stroke-width="1.2" stroke-linecap="round" stroke-linejoin="round" class="l"/>
<polygon points="374.44,188.78 438.08,188.78 436.36,196.73 414,197.64 392.5,197.09 375.3,195.83" fill="rgb(153,153,153)" class="l"/>
<polyline points="375.3,192.58 382.18,193.12" fill="none" stroke="rgb(97,97,97)" stroke-width="12" stroke-linecap="round" stroke-linejoin="round" class="l"/>
<polyline points="375.3,192.58 382.18,193.12" fill="none" stroke="rgb(153,153,153)" stroke-width="9" stroke-linecap="round" stroke-linejoin="round" class="l"/>
<polyline points="375.3,192.58 382.18,193.12" fill="none" stroke="rgb(199,199,199)" stroke-width="4" stroke-linecap="round" stroke-linejoin="round" class="l"/>
<ellipse cx="375.46" cy="191.84" rx="1.62" ry="1.7" fill="rgb(216,216,216)" class="l"/>
<ellipse cx="376.54" cy="191.97" rx="1.78" ry="1.87" fill="rgb(226,226,226)" class="l"/>
<ellipse cx="378.04" cy="193.56" rx="1.73" ry="1.82" fill="rgb(210,210,210)" class="l"/>
<ellipse cx="380.37" cy="192.18" rx="1.73" ry="1.82" fill="rgb(212,212,212)" class="l"/>
<ellipse cx="381.84" cy="193.78" rx="1.68" ry="1.76" fill="rgb(197,197,197)" class="l"/>
<polyline points="382.18,193.12 387.34,192.76" fill="none" stroke="rgb(158,158,158)" stroke-width="6" stroke-linecap="round" stroke-linejoin="round" class="l"/>
<polyline points="387.34,192.76 396.8,193.3 405.4,192.94 414,193.48 422.6,193.12 426.9,192.76" fill="none" stroke="rgb(97,97,97)" stroke-width="13" stroke-linecap="round" stroke-linejoin="round" class="l"/>
<polyline points="387.34,192.76 396.8,193.3 405.4,192.94 414,193.48 422.6,193.12 426.9,192.76" fill="none" stroke="rgb(153,153,153)" stroke-width="10" stroke-linecap="round" stroke-linejoin="round" class="l"/>
<polyline points="387.34,192.76 396.8,193.3 405.4,192.94 414,193.48 422.6,193.12 426.9,192.76" fill="none" stroke="rgb(209,209,209)" stroke-width="4.5" stroke-linecap="round" stroke-linejoin="round" class="l"/>
<ellipse cx="388.13" cy="192.11" rx="2.01" ry="2.11" fill="rgb(219,219,219)" class="l"/>
<ellipse cx="389.59" cy="193.36" rx="2.3" ry="2.42" fill="rgb(236,236,236)" class="l"/>
<ellipse cx="391.09" cy="192.9" rx="1.86" ry="1.95" fill="rgb(222,222,222)" class="l"/>
<ellipse cx="391.4" cy="192.29" rx="1.89" ry="1.99" fill="rgb(239,239,239)" class="l"/>
<ellipse cx="394.37" cy="193.74" rx="2.05" ry="2.15" fill="rgb(205,205,205)" class="l"/>
<ellipse cx="395.01" cy="193.03" rx="2.41" ry="2.53" fill="rgb(212,212,212)" class="l"/>
<ellipse cx="395.91" cy="193.37" rx="1.86" ry="1.95" fill="rgb(219,219,219)" class="l"/>
<ellipse cx="399.31" cy="193.01" rx="1.99" ry="2.09" fill="rgb(231,231,231)" class="l"/>
<ellipse cx="399.56" cy="192.95" rx="2.12" ry="2.22" fill="rgb(216,216,216)" class="l"/>
<ellipse cx="400.76" cy="193.89" rx="2.12" ry="2.23" fill="rgb(245,245,245)" class="l"/>
<ellipse cx="403.67" cy="193.62" rx="2.36" ry="2.48" fill="rgb(220,220,220)" class="l"/>
<ellipse cx="403.91" cy="193.26" rx="2.32" ry="2.44" fill="rgb(229,229,229)" class="l"/>
<ellipse cx="406.38" cy="193.12" rx="2.23" ry="2.35" fill="rgb(238,238,238)" class="l"/>
<ellipse cx="407.4" cy="192.96" rx="2.04" ry="2.14" fill="rgb(239,239,239)" class="l"/>
<ellipse cx="409.46" cy="192.67" rx="2.31" ry="2.43" fill="rgb(233,233,233)" class="l"/>
<ellipse cx="410.84" cy="192.96" rx="2.23" ry="2.35" fill="rgb(233,233,233)" class="l"/>
<ellipse cx="411.43" cy="194.08" rx="2.17" ry="2.28" fill="rgb(220,220,220)" class="l"/>
<ellipse cx="412.79" cy="194.23" rx="1.74" ry="1.83" fill="rgb(242,242,242)" class="l"/>
<ellipse cx="415.33" cy="194.15" rx="1.84" ry="1.93" fill="rgb(218,218,218)" class="l"/>
<ellipse cx="416.97" cy="193.63" rx="2.32" ry="2.44" fill="rgb(205,205,205)" class="l"/>
<ellipse cx="418.61" cy="193.82" rx="2.18" ry="2.29" fill="rgb(241,241,241)" class="l"/>
<ellipse cx="419.29" cy="192.39" rx="1.73" ry="1.82" fill="rgb(229,229,229)" class="l"/>
<ellipse cx="420.59" cy="193.76" rx="1.72" ry="1.8" fill="rgb(235,235,235)" class="l"/>
<ellipse cx="422.21" cy="192.42" rx="2.24" ry="2.35" fill="rgb(209,209,209)" class="l"/>
<ellipse cx="423.6" cy="192.4" rx="1.74" ry="1.82" fill="rgb(230,230,230)" class="l"/>
<ellipse cx="425.94" cy="193.64" rx="1.86" ry="1.95" fill="rgb(242,242,242)" class="l"/>
<polyline points="401.96,193.48 414,193.66 424.32,193.3" fill="none" stroke="rgb(242,242,242)" stroke-width="4" stroke-linecap="round" stroke-linejoin="round" class="l"/>
<polyline points="431.2,192.22 433.78,194.93" fill="none" stroke="rgb(97,97,97)" stroke-width="10" stroke-linecap="round" stroke-linejoin="round" class="l"/>
<polyline points="431.2,192.22 433.78,194.93" fill="none" stroke="rgb(153,153,153)" stroke-width="7" stroke-linecap="round" stroke-linejoin="round" class="l"/>
<polyline points="431.2,192.22 433.78,194.93" fill="none" stroke="rgb(199,199,199)" stroke-width="3.2" stroke-linecap="round" stroke-linejoin="round" class="l"/>
<ellipse cx="431.58" cy="192.2" rx="1.75" ry="2.65" fill="rgb(225,225,225)" class="l"/>
<ellipse cx="432.34" cy="194.01" rx="1.54" ry="2.34" fill="rgb(211,211,211)" class="l"/>
<ellipse cx="432.47" cy="193.79" rx="1.61" ry="2.44" fill="rgb(234,234,234)" class="l"/>
<ellipse cx="432.78" cy="194.4" rx="1.37" ry="2.08" fill="rgb(212,212,212)" class="l"/>
<polygon points="371,190.41 374.01,190.41 374.01,180.47 371,180.47" fill="rgb(102,102,102)" class="l"/>
<ellipse cx="441.52" cy="185.17" rx="4.3" ry="3.61" fill="rgb(153,153,153)" class="l"/>
<ellipse cx="441.52" cy="185.53" rx="2.41" ry="1.81" fill="rgb(209,209,209)" class="l"/>
<polygon points="448.4,188.24 450.98,178.67 452.7,172.34 457,172.34 457,202.15 450.12,200.35" fill="rgb(97,97,97)" class="l"/>
<ellipse cx="454.42" cy="181.92" rx="2.58" ry="3.25" fill="rgb(158,158,158)" class="l"/>
<ellipse cx="454.85" cy="182.28" rx="1.29" ry="1.81" fill="rgb(217,217,217)" class="l"/>
<ellipse cx="453.99" cy="192.76" rx="2.58" ry="3.25" fill="rgb(158,158,158)" class="l"/>
<ellipse cx="454.42" cy="192.22" rx="1.29" ry="1.81" fill="rgb(209,209,209)" class="l"/>
<polyline points="371,188.6 457,188.6" fill="none" stroke="rgb(112,112,112)" stroke-width="3" stroke-linecap="round" stroke-linejoin="round" class="l"/>
<polyline points="371,187.25 457,187.25" fill="none" stroke="rgb(13,13,13)" stroke-width="1" stroke-linecap="round" stroke-linejoin="round" stroke-opacity="0.8"/>
</g></g>
<rect x="371" y="160.6" width="86" height="54.2" fill="none" stroke="#000" stroke-opacity="0.45" stroke-width="0.5"/>
<g class="b">
<text class="tk" x="369.5" y="171.73" text-anchor="end">100</text>
<text class="tk" x="369.5" y="189.8" text-anchor="end">0</text>
<text class="tk" x="369.5" y="207.87" text-anchor="end">-100</text>
<text class="tk" x="371" y="221.5" text-anchor="middle">0</text>
<text class="tk" x="388.2" y="221.5" text-anchor="middle">2</text>
<text class="tk" x="405.4" y="221.5" text-anchor="middle">4</text>
<text class="tk" x="422.6" y="221.5" text-anchor="middle">6</text>
<text class="tk" x="439.8" y="221.5" text-anchor="middle">8</text>
<text class="tk" x="457" y="221.5" text-anchor="middle">10</text>
<text class="lb" x="414" y="228.3" text-anchor="middle">Time[s]</text>
<text class="lb" x="0" y="0" text-anchor="middle" transform="translate(357.8,187.7) rotate(-90)">Doppler [Hz]</text>
<text class="tt" x="414" y="158.8" text-anchor="middle">Room 7</text>
</g>
<g clip-path="url(#cb21)"><g filter="url(#jb21)">
<rect x="478" y="154.6" width="98" height="66.2" fill="rgb(5,5,5)"/>
<polygon points="496.04,187.16 501.2,173.25 502.92,160.6 513.24,160.6 513.24,187.16" fill="rgb(18,18,18)"/>
<polyline points="496.92,186.8 496.54,167.96" fill="none" stroke="rgb(47,47,47)" stroke-width="1.2" stroke-linecap="round" stroke-linejoin="round" class="l"/>
<polyline points="498.82,186.8 499,173.2" fill="none" stroke="rgb(45,45,45)" stroke-width="1.2" stroke-linecap="round" stroke-linejoin="round" class="l"/>
<polyline points="499.71,186.8 499.36,161.66" fill="none" stroke="rgb(49,49,49)" stroke-width="1.2" stroke-linecap="round" stroke-linejoin="round" class="l"/>
<polyline points="501.91,186.8 502.16,170.97" fill="none" stroke="rgb(66,66,66)" stroke-width="1.2" stroke-linecap="round" stroke-linejoin="round" class="l"/>
<polyline points="503.05,186.8 502.86,166.95" fill="none" stroke="rgb(62,62,62)" stroke-width="1.2" stroke-linecap="round" stroke-linejoin="round" class="l"/>
<polyline points="503.68,186.8 504.01,164.27" fill="none" stroke="rgb(46,46,46)" stroke-width="1.2" stroke-linecap="round" stroke-linejoin="round" class="l"/>
<polyline points="506.44,186.8 506.66,172.76" fill="none" stroke="rgb(71,71,71)" stroke-width="1.2" stroke-linecap="round" stroke-linejoin="round" class="l"/>
<polyline points="507.29,186.8 507.47,168.49" fill="none" stroke="rgb(43,43,43)" stroke-width="1.2" stroke-linecap="round" stroke-linejoin="round" class="l"/>
<polyline points="509.46,186.8 509.88,163.17" fill="none" stroke="rgb(57,57,57)" stroke-width="1.2" stroke-linecap="round" stroke-linejoin="round" class="l"/>
<polyline points="510.93,186.8 511.33,168.41" fill="none" stroke="rgb(65,65,65)" stroke-width="1.2" stroke-linecap="round" stroke-linejoin="round" class="l"/>
<polyline points="511.34,186.8 511.18,161.72" fill="none" stroke="rgb(49,49,49)" stroke-width="1.2" stroke-linecap="round" stroke-linejoin="round" class="l"/>
<polyline points="513.15,186.8 512.82,162.71" fill="none" stroke="rgb(68,68,68)" stroke-width="1.2" stroke-linecap="round" stroke-linejoin="round" class="l"/>
<ellipse cx="503.78" cy="163.31" rx="1.72" ry="3.25" fill="rgb(102,102,102)" class="l"/>
<polygon points="513.24,187.16 514.96,173.25 515.82,160.6 535.6,160.6 539.9,176.86 543.34,187.16" fill="rgb(102,102,102)" class="l"/>
<polygon points="515.82,186.8 517.54,173.25 518.4,160.6 533.88,160.6 537.32,176.86 539.9,186.8" fill="rgb(153,153,153)" class="l"/>
<polyline points="516.68,184.09 519.26,178.67 522.7,172.34 525.28,166.92 527.86,163.31 530.44,160.96" fill="none" stroke="rgb(97,97,97)" stroke-width="15" stroke-linecap="round" stroke-linejoin="round" class="l"/>
<polyline points="516.68,184.09 519.26,178.67 522.7,172.34 525.28,166.92 527.86,163.31 530.44,160.96" fill="none" stroke="rgb(153,153,153)" stroke-width="9" stroke-linecap="round" stroke-linejoin="round" class="l"/>
<polyline points="516.68,184.09 519.26,178.67 522.7,172.34 525.28,166.92 527.86,163.31 530.44,160.96" fill="none" stroke="rgb(199,199,199)" stroke-width="3.2" stroke-linecap="round" stroke-linejoin="round" class="l"/>
<ellipse cx="516.85" cy="184.73" rx="1.71" ry="2.15" fill="rgb(225,225,225)" class="l"/>
<ellipse cx="517.94" cy="180.62" rx="1.44" ry="1.82" fill="rgb(215,215,215)" class="l"/>
<ellipse cx="518.95" cy="180.92" rx="1.88" ry="2.37" fill="rgb(222,222,222)" class="l"/>
<ellipse cx="520.04" cy="178.68" rx="1.43" ry="1.8" fill="rgb(234,234,234)" class="l"/>
<ellipse cx="520.45" cy="176.73" rx="1.91" ry="2.41" fill="rgb(194,194,194)" class="l"/>
<ellipse cx="521.55" cy="174.07" rx="1.77" ry="2.23" fill="rgb(204,204,204)" class="l"/>
<ellipse cx="521.69" cy="173.7" rx="1.75" ry="2.2" fill="rgb(210,210,210)" class="l"/>
<ellipse cx="522.72" cy="171.92" rx="1.83" ry="2.31" fill="rgb(207,207,207)" class="l"/>
<ellipse cx="523.85" cy="169.74" rx="1.8" ry="2.27" fill="rgb(224,224,224)" class="l"/>
<ellipse cx="524.35" cy="167.48" rx="1.53" ry="1.93" fill="rgb(213,213,213)" class="l"/>
<ellipse cx="524.92" cy="167.39" rx="1.99" ry="2.51" fill="rgb(223,223,223)" class="l"/>
<ellipse cx="526.47" cy="164.95" rx="1.65" ry="2.08" fill="rgb(230,230,230)" class="l"/>
<ellipse cx="527.15" cy="163.02" rx="1.9" ry="2.4" fill="rgb(216,216,216)" class="l"/>
<ellipse cx="528.9" cy="162.33" rx="1.83" ry="2.31" fill="rgb(208,208,208)" class="l"/>
<ellipse cx="525.82" cy="165.36" rx="2.16" ry="2.27" fill="rgb(202,202,202)" class="l"/>
<ellipse cx="524.67" cy="170.12" rx="1.63" ry="1.71" fill="rgb(191,191,191)" class="l"/>
<ellipse cx="525.63" cy="177.04" rx="1.93" ry="2.02" fill="rgb(189,189,189)" class="l"/>
<ellipse cx="524.61" cy="174.87" rx="1.76" ry="1.85" fill="rgb(203,203,203)" class="l"/>
<ellipse cx="532.85" cy="164.51" rx="1.86" ry="1.95" fill="rgb(221,221,221)" class="l"/>
<ellipse cx="532.02" cy="179.55" rx="1.7" ry="1.78" fill="rgb(185,185,185)" class="l"/>
<ellipse cx="529.08" cy="178.1" rx="1.49" ry="1.56" fill="rgb(228,228,228)" class="l"/>
<ellipse cx="533.34" cy="166.01" rx="1.86" ry="1.95" fill="rgb(223,223,223)" class="l"/>
<ellipse cx="526.52" cy="162.45" rx="1.29" ry="1.36" fill="rgb(180,180,180)" class="l"/>
<ellipse cx="532.67" cy="166.79" rx="2.05" ry="2.15" fill="rgb(212,212,212)" class="l"/>
<polyline points="543.13,186.8 543.48,175.89" fill="none" stroke="rgb(59,59,59)" stroke-width="1.2" stroke-linecap="round" stroke-linejoin="round" class="l"/>
<polyline points="545.79,186.8 545.64,166.05" fill="none" stroke="rgb(52,52,52)" stroke-width="1.2" stroke-linecap="round" stroke-linejoin="round" class="l"/>
<polyline points="546.62,186.8 546.68,166.27" fill="none" stroke="rgb(44,44,44)" stroke-width="1.2" stroke-linecap="round" stroke-linejoin="round" class="l"/>
<polyline points="548.35,186.8 548.57,173.71" fill="none" stroke="rgb(46,46,46)" stroke-width="1.2" stroke-linecap="round" stroke-linejoin="round" class="l"/>
<polyline points="550.66,186.8 550.24,166.68" fill="none" stroke="rgb(40,40,40)" stroke-width="1.2" stroke-linecap="round" stroke-linejoin="round" class="l"/>
<polyline points="551.69,186.8 551.87,161.11" fill="none" stroke="rgb(57,57,57)" stroke-width="1.2" stroke-linecap="round" stroke-linejoin="round" class="l"/>
<polyline points="554.04,186.8 553.83,173.22" fill="none" stroke="rgb(50,50,50)" stroke-width="1.2" stroke-linecap="round" stroke-linejoin="round" class="l"/>
<polyline points="554.69,186.8 554.75,163.07" fill="none" stroke="rgb(39,39,39)" stroke-width="1.2" stroke-linecap="round" stroke-linejoin="round" class="l"/>
<polyline points="557.69,186.8 558.01,166.04" fill="none" stroke="rgb(58,58,58)" stroke-width="1.2" stroke-linecap="round" stroke-linejoin="round" class="l"/>
<polyline points="558.16,186.8 557.8,176.94" fill="none" stroke="rgb(62,62,62)" stroke-width="1.2" stroke-linecap="round" stroke-linejoin="round" class="l"/>
<ellipse cx="554.09" cy="166.02" rx="1.72" ry="3.25" fill="rgb(102,102,102)" class="l"/>
<polygon points="559.68,187.16 561.4,173.25 564.84,160.6 570,160.6 570,187.16" fill="rgb(102,102,102)" class="l"/>
<polygon points="561.4,186.8 563.98,173.25 566.56,160.6 570,160.6 570,186.8" fill="rgb(153,153,153)" class="l"/>
<polyline points="562.26,184.99 564.84,178.67 567.42,171.44 569.57,164.21" fill="none" stroke="rgb(97,97,97)" stroke-width="15" stroke-linecap="round" stroke-linejoin="round" class="l"/>
<polyline points="562.26,184.99 564.84,178.67 567.42,171.44 569.57,164.21" fill="none" stroke="rgb(153,153,153)" stroke-width="9" stroke-linecap="round" stroke-linejoin="round" class="l"/>
<polyline points="562.26,184.99 564.84,178.67 567.42,171.44 569.57,164.21" fill="none" stroke="rgb(199,199,199)" stroke-width="3.2" stroke-linecap="round" stroke-linejoin="round" class="l"/>
<ellipse cx="561.98" cy="183.14" rx="1.48" ry="1.87" fill="rgb(209,209,209)" class="l"/>
<ellipse cx="563.32" cy="181.6" rx="1.82" ry="2.3" fill="rgb(206,206,206)" class="l"/>
<ellipse cx="564.2" cy="178.54" rx="1.63" ry="2.05" fill="rgb(208,208,208)" class="l"/>
<ellipse cx="565.67" cy="175.67" rx="1.81" ry="2.28" fill="rgb(220,220,220)" class="l"/>
<ellipse cx="566.7" cy="174.04" rx="1.45" ry="1.82" fill="rgb(223,223,223)" class="l"/>
<ellipse cx="568.12" cy="170.65" rx="1.64" ry="2.06" fill="rgb(224,224,224)" class="l"/>
<ellipse cx="568.25" cy="168.66" rx="1.99" ry="2.51" fill="rgb(227,227,227)" class="l"/>
<ellipse cx="569.19" cy="166.38" rx="1.71" ry="2.16" fill="rgb(219,219,219)" class="l"/>
<polygon points="493.46,188.24 516.68,188.24 514.1,198.54 511.52,214.8 501.2,214.8 496.9,202.15" fill="rgb(97,97,97)" class="l"/>
<polygon points="502.92,205.77 508.08,194.93 511.52,189.51 516.25,189.51 512.38,202.15 509.8,214.8 503.78,214.8" fill="rgb(153,153,153)" class="l"/>
<polyline points="505.07,213.9 508.08,209.38 510.66,203.06 513.24,196.73 516.25,190.41" fill="none" stroke="rgb(97,97,97)" stroke-width="15" stroke-linecap="round" stroke-linejoin="round" class="l"/>
<polyline points="505.07,213.9 508.08,209.38 510.66,203.06 513.24,196.73 516.25,190.41" fill="none" stroke="rgb(153,153,153)" stroke-width="9" stroke-linecap="round" stroke-linejoin="round" class="l"/>
<polyline points="505.07,213.9 508.08,209.38 510.66,203.06 513.24,196.73 516.25,190.41" fill="none" stroke="rgb(199,199,199)" stroke-width="3.2" stroke-linecap="round" stroke-linejoin="round" class="l"/>
<ellipse cx="505.56" cy="212.63" rx="1.49" ry="1.88" fill="rgb(227,227,227)" class="l"/>
<ellipse cx="507.22" cy="211.7" rx="1.51" ry="1.91" fill="rgb(198,198,198)" class="l"/>
<ellipse cx="507.94" cy="210.13" rx="1.62" ry="2.04" fill="rgb(196,196,196)" class="l"/>
<ellipse cx="508.49" cy="207.46" rx="1.78" ry="2.24" fill="rgb(214,214,214)" class="l"/>
<ellipse cx="509.35" cy="206.42" rx="1.73" ry="2.18" fill="rgb(222,222,222)" class="l"/>
<ellipse cx="509.77" cy="203.49" rx="1.92" ry="2.41" fill="rgb(213,213,213)" class="l"/>
<ellipse cx="511.06" cy="201.69" rx="1.52" ry="1.91" fill="rgb(233,233,233)" class="l"/>
<ellipse cx="511.61" cy="199.99" rx="1.68" ry="2.12" fill="rgb(196,196,196)" class="l"/>
<ellipse cx="512.8" cy="196.97" rx="1.64" ry="2.06" fill="rgb(199,199,199)" class="l"/>
<ellipse cx="513.4" cy="195.34" rx="1.76" ry="2.21" fill="rgb(208,208,208)" class="l"/>
<ellipse cx="514.54" cy="194.38" rx="1.89" ry="2.38" fill="rgb(219,219,219)" class="l"/>
<ellipse cx="515.45" cy="191.53" rx="1.5" ry="1.89" fill="rgb(228,228,228)" class="l"/>
<ellipse cx="506.36" cy="212.99" rx="2.15" ry="2.17" fill="rgb(242,242,242)" class="l"/>
<polygon points="516.68,188.6 539.04,188.6 539.04,212.99 516.68,212.99" fill="rgb(18,18,18)"/>
<polyline points="517.24,188.6 517.24,204.58" fill="none" stroke="rgb(58,58,58)" stroke-width="1.2" stroke-linecap="round" stroke-linejoin="round" class="l"/>
<polyline points="519.45,188.6 519.4,210.9" fill="none" stroke="rgb(43,43,43)" stroke-width="1.2" stroke-linecap="round" stroke-linejoin="round" class="l"/>
<polyline points="519.95,188.6 520.22,197.36" fill="none" stroke="rgb(56,56,56)" stroke-width="1.2" stroke-linecap="round" stroke-linejoin="round" class="l"/>
<polyline points="522,188.6 522.02,200.7" fill="none" stroke="rgb(40,40,40)" stroke-width="1.2" stroke-linecap="round" stroke-linejoin="round" class="l"/>
<polyline points="524.13,188.6 524.07,207.49" fill="none" stroke="rgb(52,52,52)" stroke-width="1.2" stroke-linecap="round" stroke-linejoin="round" class="l"/>
<polyline points="525.53,188.6 525.62,203.53" fill="none" stroke="rgb(54,54,54)" stroke-width="1.2" stroke-linecap="round" stroke-linejoin="round" class="l"/>
<polyline points="526.85,188.6 526.91,204.72" fill="none" stroke="rgb(59,59,59)" stroke-width="1.2" stroke-linecap="round" stroke-linejoin="round" class="l"/>
<polyline points="528.19,188.6 528.33,200.96" fill="none" stroke="rgb(38,38,38)" stroke-width="1.2" stroke-linecap="round" stroke-linejoin="round" class="l"/>
<polyline points="530.86,188.6 531.06,198.02" fill="none" stroke="rgb(60,60,60)" stroke-width="1.2" stroke-linecap="round" stroke-linejoin="round" class="l"/>
<polyline points="531.36,188.6 531.09,206.11" fill="none" stroke="rgb(37,37,37)" stroke-width="1.2" stroke-linecap="round" stroke-linejoin="round" class="l"/>
<polyline points="533.88,188.6 534,203.87" fill="none" stroke="rgb(49,49,49)" stroke-width="1.2" stroke-linecap="round" stroke-linejoin="round" class="l"/>
<polyline points="535.53,188.6 535.36,197.63" fill="none" stroke="rgb(54,54,54)" stroke-width="1.2" stroke-linecap="round" stroke-linejoin="round" class="l"/>
<polyline points="535.97,188.6 535.96,210.57" fill="none" stroke="rgb(47,47,47)" stroke-width="1.2" stroke-linecap="round" stroke-linejoin="round" class="l"/>
<polyline points="538.96,188.6 538.82,202" fill="none" stroke="rgb(56,56,56)" stroke-width="1.2" stroke-linecap="round" stroke-linejoin="round" class="l"/>
<polygon points="539.04,188.24 565.7,188.24 563.12,198.54 557.96,214.8 547.64,214.8 542.48,200.35" fill="rgb(97,97,97)" class="l"/>
<polygon points="548.5,205.77 553.66,194.93 558.82,189.51 563.98,189.51 560.54,202.15 557.1,214.8 550.22,214.8" fill="rgb(153,153,153)" class="l"/>
<polyline points="551.94,213.9 554.52,209.38 557.1,203.96 559.25,197.64 561.4,190.95" fill="none" stroke="rgb(97,97,97)" stroke-width="15" stroke-linecap="round" stroke-linejoin="round" class="l"/>
<polyline points="551.94,213.9 554.52,209.38 557.1,203.96 559.25,197.64 561.4,190.95" fill="none" stroke="rgb(153,153,153)" stroke-width="9" stroke-linecap="round" stroke-linejoin="round" class="l"/>
<polyline points="551.94,213.9 554.52,209.38 557.1,203.96 559.25,197.64 561.4,190.95" fill="none" stroke="rgb(199,199,199)" stroke-width="3.2" stroke-linecap="round" stroke-linejoin="round" class="l"/>
<ellipse cx="552.76" cy="213.66" rx="1.57" ry="1.97" fill="rgb(228,228,228)" class="l"/>
<ellipse cx="553.68" cy="211.27" rx="2.02" ry="2.55" fill="rgb(194,194,194)" class="l"/>
<ellipse cx="554.49" cy="210.14" rx="1.43" ry="1.8" fill="rgb(217,217,217)" class="l"/>
<ellipse cx="554.95" cy="208.02" rx="1.7" ry="2.14" fill="rgb(201,201,201)" class="l"/>
<ellipse cx="556.12" cy="205.78" rx="1.98" ry="2.5" fill="rgb(231,231,231)" class="l"/>
<ellipse cx="557.09" cy="203.87" rx="1.92" ry="2.42" fill="rgb(233,233,233)" class="l"/>
<ellipse cx="557.57" cy="202.77" rx="1.79" ry="2.25" fill="rgb(213,213,213)" class="l"/>
<ellipse cx="558.67" cy="199.86" rx="1.47" ry="1.86" fill="rgb(215,215,215)" class="l"/>
<ellipse cx="559.02" cy="198.68" rx="1.73" ry="2.18" fill="rgb(212,212,212)" class="l"/>
<ellipse cx="559.62" cy="197.53" rx="1.43" ry="1.8" fill="rgb(194,194,194)" class="l"/>
<ellipse cx="560.85" cy="193.42" rx="1.48" ry="1.87" fill="rgb(218,218,218)" class="l"/>
<ellipse cx="560.77" cy="192.96" rx="1.86" ry="2.35" fill="rgb(229,229,229)" class="l"/>
<ellipse cx="552.8" cy="212.99" rx="2.15" ry="2.17" fill="rgb(242,242,242)" class="l"/>
<polyline points="493.46,188.78 570,188.78" fill="none" stroke="rgb(117,117,117)" stroke-width="3" stroke-linecap="round" stroke-linejoin="round" class="l"/>
<polyline points="488.3,187.25 570,187.25" fill="none" stroke="rgb(13,13,13)" stroke-width="1" stroke-linecap="round" stroke-linejoin="round" stroke-opacity="0.8"/>
</g></g>
<rect x="484" y="160.6" width="86" height="54.2" fill="none" stroke="#000" stroke-opacity="0.45" stroke-width="0.5"/>
<g class="b">
<text class="tk" x="482.5" y="171.73" text-anchor="end">100</text>
<text class="tk" x="482.5" y="189.8" text-anchor="end">0</text>
<text class="tk" x="482.5" y="207.87" text-anchor="end">-100</text>
<text class="tk" x="484" y="221.5" text-anchor="middle">0</text>
<text class="tk" x="501.2" y="221.5" text-anchor="middle">2</text>
<text class="tk" x="518.4" y="221.5" text-anchor="middle">4</text>
<text class="tk" x="535.6" y="221.5" text-anchor="middle">6</text>
<text class="tk" x="552.8" y="221.5" text-anchor="middle">8</text>
<text class="tk" x="570" y="221.5" text-anchor="middle">10</text>
<text class="lb" x="527" y="228.3" text-anchor="middle">Time[s]</text>
<text class="lb" x="0" y="0" text-anchor="middle" transform="translate(470.8,187.7) rotate(-90)">Doppler [Hz]</text>
<text class="tt" x="527" y="158.8" text-anchor="middle">Room 8</text>
</g>
<g clip-path="url(#cb22)"><g filter="url(#jb22)">
<rect x="591" y="154.6" width="98" height="66.2" fill="rgb(5,5,5)"/>
<polygon points="605.6,187.16 607.32,173.25 609.9,160.6 627.96,160.6 627.96,187.16" fill="rgb(18,18,18)"/>
<polyline points="606.8,186.8 606.6,167.83" fill="none" stroke="rgb(88,88,88)" stroke-width="1.2" stroke-linecap="round" stroke-linejoin="round" class="l"/>
<polyline points="608.39,186.8 608.15,172.59" fill="none" stroke="rgb(95,95,95)" stroke-width="1.2" stroke-linecap="round" stroke-linejoin="round" class="l"/>
<polyline points="609.05,186.8 609.19,173.69" fill="none" stroke="rgb(108,108,108)" stroke-width="1.2" stroke-linecap="round" stroke-linejoin="round" class="l"/>
<polyline points="610.99,186.8 611.21,165.07" fill="none" stroke="rgb(119,119,119)" stroke-width="1.2" stroke-linecap="round" stroke-linejoin="round" class="l"/>
<polyline points="611.67,186.8 611.32,162.08" fill="none" stroke="rgb(96,96,96)" stroke-width="1.2" stroke-linecap="round" stroke-linejoin="round" class="l"/>
<polyline points="612.63,186.8 612.63,170.2" fill="none" stroke="rgb(83,83,83)" stroke-width="1.2" stroke-linecap="round" stroke-linejoin="round" class="l"/>
<polyline points="614.36,186.8 614.75,174.85" fill="none" stroke="rgb(94,94,94)" stroke-width="1.2" stroke-linecap="round" stroke-linejoin="round" class="l"/>
<polyline points="615.68,186.8 615.5,167.04" fill="none" stroke="rgb(111,111,111)" stroke-width="1.2" stroke-linecap="round" stroke-linejoin="round" class="l"/>
<polyline points="617.58,186.8 617.99,162.05" fill="none" stroke="rgb(90,90,90)" stroke-width="1.2" stroke-linecap="round" stroke-linejoin="round" class="l"/>
<polyline points="619.56,186.8 619.92,174.81" fill="none" stroke="rgb(83,83,83)" stroke-width="1.2" stroke-linecap="round" stroke-linejoin="round" class="l"/>
<polyline points="619.79,186.8 619.84,175" fill="none" stroke="rgb(76,76,76)" stroke-width="1.2" stroke-linecap="round" stroke-linejoin="round" class="l"/>
<polyline points="621.32,186.8 621.63,169.7" fill="none" stroke="rgb(92,92,92)" stroke-width="1.2" stroke-linecap="round" stroke-linejoin="round" class="l"/>
<polyline points="623.54,186.8 623.73,176.77" fill="none" stroke="rgb(80,80,80)" stroke-width="1.2" stroke-linecap="round" stroke-linejoin="round" class="l"/>
<polyline points="624.14,186.8 624.3,172.45" fill="none" stroke="rgb(98,98,98)" stroke-width="1.2" stroke-linecap="round" stroke-linejoin="round" class="l"/>
<polyline points="626.33,186.8 626.68,161.21" fill="none" stroke="rgb(82,82,82)" stroke-width="1.2" stroke-linecap="round" stroke-linejoin="round" class="l"/>
<polyline points="627.94,186.8 628.09,168.24" fill="none" stroke="rgb(112,112,112)" stroke-width="1.2" stroke-linecap="round" stroke-linejoin="round" class="l"/>
<ellipse cx="608.18" cy="176.86" rx="1.72" ry="7.23" fill="rgb(102,102,102)" class="l"/>
<polygon points="626.24,187.16 627.96,173.25 628.82,160.6 651.18,160.6 655.48,176.86 657.2,187.16" fill="rgb(102,102,102)" class="l"/>
<polygon points="627.96,186.8 630.54,173.25 631.4,160.6 649.46,160.6 652.9,176.86 654.62,186.8" fill="rgb(153,153,153)" class="l"/>
<ellipse cx="646.68" cy="180.85" rx="1.27" ry="1.6" fill="rgb(223,223,223)" class="l"/>
<ellipse cx="633.79" cy="161.6" rx="1.69" ry="2.13" fill="rgb(184,184,184)" class="l"/>
<ellipse cx="636.42" cy="167.42" rx="1.27" ry="1.61" fill="rgb(182,182,182)" class="l"/>
<ellipse cx="634.53" cy="177.39" rx="1.63" ry="2.06" fill="rgb(201,201,201)" class="l"/>
<ellipse cx="633.18" cy="177.09" rx="1.34" ry="1.69" fill="rgb(200,200,200)" class="l"/>
<ellipse cx="646.81" cy="174.19" rx="1.37" ry="1.73" fill="rgb(209,209,209)" class="l"/>
<ellipse cx="648.18" cy="170.64" rx="1.65" ry="2.07" fill="rgb(217,217,217)" class="l"/>
<ellipse cx="642.56" cy="164.29" rx="1.5" ry="1.89" fill="rgb(188,188,188)" class="l"/>
<ellipse cx="637.34" cy="167.24" rx="1.55" ry="1.95" fill="rgb(203,203,203)" class="l"/>
<ellipse cx="648.36" cy="162.19" rx="1.32" ry="1.66" fill="rgb(186,186,186)" class="l"/>
<ellipse cx="632.56" cy="165.76" rx="1.57" ry="1.98" fill="rgb(214,214,214)" class="l"/>
<ellipse cx="647.5" cy="167.97" rx="1.55" ry="1.95" fill="rgb(211,211,211)" class="l"/>
<ellipse cx="646.34" cy="166.17" rx="1.51" ry="1.91" fill="rgb(216,216,216)" class="l"/>
<ellipse cx="647.38" cy="183.52" rx="1.82" ry="2.3" fill="rgb(209,209,209)" class="l"/>
<ellipse cx="646.52" cy="174.68" rx="1.23" ry="1.55" fill="rgb(175,175,175)" class="l"/>
<ellipse cx="646.58" cy="168.1" rx="1.98" ry="2.5" fill="rgb(183,183,183)" class="l"/>
<ellipse cx="646.25" cy="165.7" rx="1.64" ry="2.06" fill="rgb(193,193,193)" class="l"/>
<ellipse cx="644.14" cy="178.99" rx="2.1" ry="2.65" fill="rgb(179,179,179)" class="l"/>
<polygon points="657.2,187.16 660.64,173.25 663.22,160.6 683,160.6 683,187.16" fill="rgb(18,18,18)"/>
<polyline points="657.36,186.8 657.44,171.2" fill="none" stroke="rgb(102,102,102)" stroke-width="1.2" stroke-linecap="round" stroke-linejoin="round" class="l"/>
<polyline points="659.46,186.8 659.36,175.85" fill="none" stroke="rgb(95,95,95)" stroke-width="1.2" stroke-linecap="round" stroke-linejoin="round" class="l"/>
<polyline points="661.51,186.8 661.26,164.62" fill="none" stroke="rgb(113,113,113)" stroke-width="1.2" stroke-linecap="round" stroke-linejoin="round" class="l"/>
<polyline points="662.55,186.8 662.77,172.57" fill="none" stroke="rgb(85,85,85)" stroke-width="1.2" stroke-linecap="round" stroke-linejoin="round" class="l"/>
<polyline points="664.27,186.8 664.7,164.65" fill="none" stroke="rgb(108,108,108)" stroke-width="1.2" stroke-linecap="round" stroke-linejoin="round" class="l"/>
<polyline points="665.97,186.8 665.96,172.99" fill="none" stroke="rgb(99,99,99)" stroke-width="1.2" stroke-linecap="round" stroke-linejoin="round" class="l"/>
<polyline points="668.23,186.8 668.58,173.06" fill="none" stroke="rgb(100,100,100)" stroke-width="1.2" stroke-linecap="round" stroke-linejoin="round" class="l"/>
<polyline points="669.37,186.8 668.96,168.16" fill="none" stroke="rgb(91,91,91)" stroke-width="1.2" stroke-linecap="round" stroke-linejoin="round" class="l"/>
<polyline points="671.33,186.8 670.91,161.31" fill="none" stroke="rgb(105,105,105)" stroke-width="1.2" stroke-linecap="round" stroke-linejoin="round" class="l"/>
<polyline points="672.5,186.8 672.53,161.99" fill="none" stroke="rgb(99,99,99)" stroke-width="1.2" stroke-linecap="round" stroke-linejoin="round" class="l"/>
<polyline points="674.75,186.8 675.02,177.01" fill="none" stroke="rgb(93,93,93)" stroke-width="1.2" stroke-linecap="round" stroke-linejoin="round" class="l"/>
<polyline points="676,186.8 675.66,167.49" fill="none" stroke="rgb(92,92,92)" stroke-width="1.2" stroke-linecap="round" stroke-linejoin="round" class="l"/>
<polyline points="677.73,186.8 677.68,161.17" fill="none" stroke="rgb(101,101,101)" stroke-width="1.2" stroke-linecap="round" stroke-linejoin="round" class="l"/>
<polyline points="679.67,186.8 679.52,171.88" fill="none" stroke="rgb(102,102,102)" stroke-width="1.2" stroke-linecap="round" stroke-linejoin="round" class="l"/>
<polyline points="680.91,186.8 680.98,164.42" fill="none" stroke="rgb(73,73,73)" stroke-width="1.2" stroke-linecap="round" stroke-linejoin="round" class="l"/>
<polyline points="681.81,186.8 681.76,162.61" fill="none" stroke="rgb(81,81,81)" stroke-width="1.2" stroke-linecap="round" stroke-linejoin="round" class="l"/>
<ellipse cx="673.11" cy="167.83" rx="1.72" ry="5.42" fill="rgb(102,102,102)" class="l"/>
<polygon points="605.6,188.24 631.4,188.24 628.82,198.54 626.24,214.8 609.04,214.8 606.46,198.54" fill="rgb(97,97,97)" class="l"/>
<polygon points="609.04,189.51 629.68,189.51 626.24,202.15 624.52,214.8 614.2,214.8 611.62,202.15" fill="rgb(153,153,153)" class="l"/>
<polyline points="619.36,208.48 621.08,203.96 622.8,199.44 624.95,194.93 627.1,190.41" fill="none" stroke="rgb(97,97,97)" stroke-width="15" stroke-linecap="round" stroke-linejoin="round" class="l"/>
<polyline points="619.36,208.48 621.08,203.96 622.8,199.44 624.95,194.93 627.1,190.41" fill="none" stroke="rgb(153,153,153)" stroke-width="9" stroke-linecap="round" stroke-linejoin="round" class="l"/>
<polyline points="619.36,208.48 621.08,203.96 622.8,199.44 624.95,194.93 627.1,190.41" fill="none" stroke="rgb(199,199,199)" stroke-width="3.2" stroke-linecap="round" stroke-linejoin="round" class="l"/>
<ellipse cx="618.8" cy="209.13" rx="2.07" ry="2.76" fill="rgb(220,220,220)" class="l"/>
<ellipse cx="619.65" cy="207.49" rx="2" ry="2.67" fill="rgb(211,211,211)" class="l"/>
<ellipse cx="621.09" cy="205.71" rx="2.15" ry="2.88" fill="rgb(213,213,213)" class="l"/>
<ellipse cx="621.32" cy="204.22" rx="2.02" ry="2.7" fill="rgb(219,219,219)" class="l"/>
<ellipse cx="621.51" cy="201.6" rx="1.88" ry="2.51" fill="rgb(223,223,223)" class="l"/>
<ellipse cx="622.02" cy="199.98" rx="1.97" ry="2.63" fill="rgb(194,194,194)" class="l"/>
<ellipse cx="622.36" cy="199.05" rx="2" ry="2.68" fill="rgb(213,213,213)" class="l"/>
<ellipse cx="623.98" cy="196.69" rx="1.73" ry="2.31" fill="rgb(232,232,232)" class="l"/>
<ellipse cx="624.12" cy="197.2" rx="1.9" ry="2.55" fill="rgb(203,203,203)" class="l"/>
<ellipse cx="625.39" cy="194.46" rx="1.62" ry="2.17" fill="rgb(233,233,233)" class="l"/>
<ellipse cx="625.53" cy="195.27" rx="1.6" ry="2.14" fill="rgb(214,214,214)" class="l"/>
<ellipse cx="625.16" cy="195.02" rx="1.8" ry="2.4" fill="rgb(206,206,206)" class="l"/>
<ellipse cx="611.27" cy="200.91" rx="1.16" ry="1.63" fill="rgb(135,135,135)" class="l"/>
<ellipse cx="614.69" cy="199.88" rx="0.98" ry="1.38" fill="rgb(181,181,181)" class="l"/>
<ellipse cx="613.26" cy="202.14" rx="1.36" ry="1.91" fill="rgb(158,158,158)" class="l"/>
<ellipse cx="616.64" cy="204.09" rx="1.53" ry="2.14" fill="rgb(149,149,149)" class="l"/>
<polygon points="631.4,188.6 659.78,188.6 659.78,214.8 631.4,214.8" fill="rgb(18,18,18)"/>
<polyline points="632.42,188.6 632.37,205.8" fill="none" stroke="rgb(81,81,81)" stroke-width="1.2" stroke-linecap="round" stroke-linejoin="round" class="l"/>
<polyline points="633.68,188.6 633.54,207.24" fill="none" stroke="rgb(78,78,78)" stroke-width="1.2" stroke-linecap="round" stroke-linejoin="round" class="l"/>
<polyline points="635.22,188.6 635.09,209.43" fill="none" stroke="rgb(87,87,87)" stroke-width="1.2" stroke-linecap="round" stroke-linejoin="round" class="l"/>
<polyline points="636.75,188.6 637.18,202.82" fill="none" stroke="rgb(81,81,81)" stroke-width="1.2" stroke-linecap="round" stroke-linejoin="round" class="l"/>
<polyline points="638.82,188.6 638.81,200.58" fill="none" stroke="rgb(107,107,107)" stroke-width="1.2" stroke-linecap="round" stroke-linejoin="round" class="l"/>
<polyline points="640.43,188.6 640.14,205.67" fill="none" stroke="rgb(69,69,69)" stroke-width="1.2" stroke-linecap="round" stroke-linejoin="round" class="l"/>
<polyline points="641.96,188.6 641.95,211.73" fill="none" stroke="rgb(90,90,90)" stroke-width="1.2" stroke-linecap="round" stroke-linejoin="round" class="l"/>
<polyline points="643.59,188.6 643.18,207.29" fill="none" stroke="rgb(92,92,92)" stroke-width="1.2" stroke-linecap="round" stroke-linejoin="round" class="l"/>
<polyline points="645,188.6 644.89,205.76" fill="none" stroke="rgb(113,113,113)" stroke-width="1.2" stroke-linecap="round" stroke-linejoin="round" class="l"/>
<polyline points="646.88,188.6 646.85,201.39" fill="none" stroke="rgb(103,103,103)" stroke-width="1.2" stroke-linecap="round" stroke-linejoin="round" class="l"/>
<polyline points="647.67,188.6 647.62,211.76" fill="none" stroke="rgb(80,80,80)" stroke-width="1.2" stroke-linecap="round" stroke-linejoin="round" class="l"/>
<polyline points="649.09,188.6 649.08,209.27" fill="none" stroke="rgb(82,82,82)" stroke-width="1.2" stroke-linecap="round" stroke-linejoin="round" class="l"/>
<polyline points="650.83,188.6 650.52,211.27" fill="none" stroke="rgb(94,94,94)" stroke-width="1.2" stroke-linecap="round" stroke-linejoin="round" class="l"/>
<polyline points="652.05,188.6 652.06,205.94" fill="none" stroke="rgb(87,87,87)" stroke-width="1.2" stroke-linecap="round" stroke-linejoin="round" class="l"/>
<polyline points="653.89,188.6 653.79,202.22" fill="none" stroke="rgb(103,103,103)" stroke-width="1.2" stroke-linecap="round" stroke-linejoin="round" class="l"/>
<polyline points="655.2,188.6 655.59,201.54" fill="none" stroke="rgb(74,74,74)" stroke-width="1.2" stroke-linecap="round" stroke-linejoin="round" class="l"/>
<polyline points="656.81,188.6 657.09,200.78" fill="none" stroke="rgb(76,76,76)" stroke-width="1.2" stroke-linecap="round" stroke-linejoin="round" class="l"/>
<polyline points="658.88,188.6 659.25,213.24" fill="none" stroke="rgb(99,99,99)" stroke-width="1.2" stroke-linecap="round" stroke-linejoin="round" class="l"/>
<polygon points="658.92,188.24 683,188.24 683,214.8 662.36,214.8" fill="rgb(97,97,97)" class="l"/>
<polygon points="661.5,189.51 682.14,189.51 682.14,214.8 664.94,214.8" fill="rgb(153,153,153)" class="l"/>
<polyline points="668.38,211.19 670.96,207.57 673.54,203.96 676.12,201.25 678.7,198.54" fill="none" stroke="rgb(97,97,97)" stroke-width="15" stroke-linecap="round" stroke-linejoin="round" class="l"/>
<polyline points="668.38,211.19 670.96,207.57 673.54,203.96 676.12,201.25 678.7,198.54" fill="none" stroke="rgb(153,153,153)" stroke-width="9" stroke-linecap="round" stroke-linejoin="round" class="l"/>
<polyline points="668.38,211.19 670.96,207.57 673.54,203.96 676.12,201.25 678.7,198.54" fill="none" stroke="rgb(199,199,199)" stroke-width="3.2" stroke-linecap="round" stroke-linejoin="round" class="l"/>
<ellipse cx="669.11" cy="211.97" rx="2.17" ry="2.9" fill="rgb(205,205,205)" class="l"/>
<ellipse cx="668.97" cy="209.97" rx="1.84" ry="2.46" fill="rgb(200,200,200)" class="l"/>
<ellipse cx="669.71" cy="208.97" rx="1.64" ry="2.19" fill="rgb(212,212,212)" class="l"/>
<ellipse cx="671.66" cy="208.45" rx="1.7" ry="2.28" fill="rgb(197,197,197)" class="l"/>
<ellipse cx="672.06" cy="206.22" rx="2.13" ry="2.85" fill="rgb(217,217,217)" class="l"/>
<ellipse cx="671.83" cy="206.21" rx="2.19" ry="2.93" fill="rgb(198,198,198)" class="l"/>
<ellipse cx="674.25" cy="204.99" rx="2.02" ry="2.69" fill="rgb(194,194,194)" class="l"/>
<ellipse cx="674.58" cy="203.02" rx="2.07" ry="2.77" fill="rgb(201,201,201)" class="l"/>
<ellipse cx="675.18" cy="203.07" rx="1.72" ry="2.3" fill="rgb(201,201,201)" class="l"/>
<ellipse cx="676.4" cy="200.79" rx="1.87" ry="2.5" fill="rgb(228,228,228)" class="l"/>
<ellipse cx="676.46" cy="200.44" rx="1.6" ry="2.14" fill="rgb(219,219,219)" class="l"/>
<ellipse cx="678.44" cy="198.66" rx="1.72" ry="2.3" fill="rgb(198,198,198)" class="l"/>
<ellipse cx="676.68" cy="202" rx="1.61" ry="2.03" fill="rgb(207,207,207)" class="l"/>
<ellipse cx="671.72" cy="199.92" rx="1.35" ry="1.71" fill="rgb(226,226,226)" class="l"/>
<ellipse cx="672.03" cy="204.98" rx="2.04" ry="2.57" fill="rgb(200,200,200)" class="l"/>
<ellipse cx="674.65" cy="207.03" rx="1.35" ry="1.7" fill="rgb(195,195,195)" class="l"/>
<polyline points="605.6,188.78 683,188.78" fill="none" stroke="rgb(117,117,117)" stroke-width="3" stroke-linecap="round" stroke-linejoin="round" class="l"/>
<polyline points="601.3,187.25 683,187.25" fill="none" stroke="rgb(13,13,13)" stroke-width="1" stroke-linecap="round" stroke-linejoin="round" stroke-opacity="0.8"/>
</g></g>
<rect x="597" y="160.6" width="86" height="54.2" fill="none" stroke="#000" stroke-opacity="0.45" stroke-width="0.5"/>
<g class="b">
<text class="tk" x="595.5" y="171.73" text-anchor="end">100</text>
<text class="tk" x="595.5" y="189.8" text-anchor="end">0</text>
<text class="tk" x="595.5" y="207.87" text-anchor="end">-100</text>
<text class="tk" x="597" y="221.5" text-anchor="middle">0</text>
<text class="tk" x="614.2" y="221.5" text-anchor="middle">2</text>
<text class="tk" x="631.4" y="221.5" text-anchor="middle">4</text>
<text class="tk" x="648.6" y="221.5" text-anchor="middle">6</text>
<text class="tk" x="665.8" y="221.5" text-anchor="middle">8</text>
<text class="tk" x="683" y="221.5" text-anchor="middle">10</text>
<text class="lb" x="640" y="228.3" text-anchor="middle">Time[s]</text>
<text class="lb" x="0" y="0" text-anchor="middle" transform="translate(583.8,187.7) rotate(-90)">Doppler [Hz]</text>
<text class="tt" x="640" y="158.8" text-anchor="middle">Room 9</text>
</g>
<text class="big" x="173.2" y="251.5" text-anchor="middle">(a)</text>
<text class="big" x="527.7" y="251.5" text-anchor="middle">(b)</text>
</svg></body></html>
